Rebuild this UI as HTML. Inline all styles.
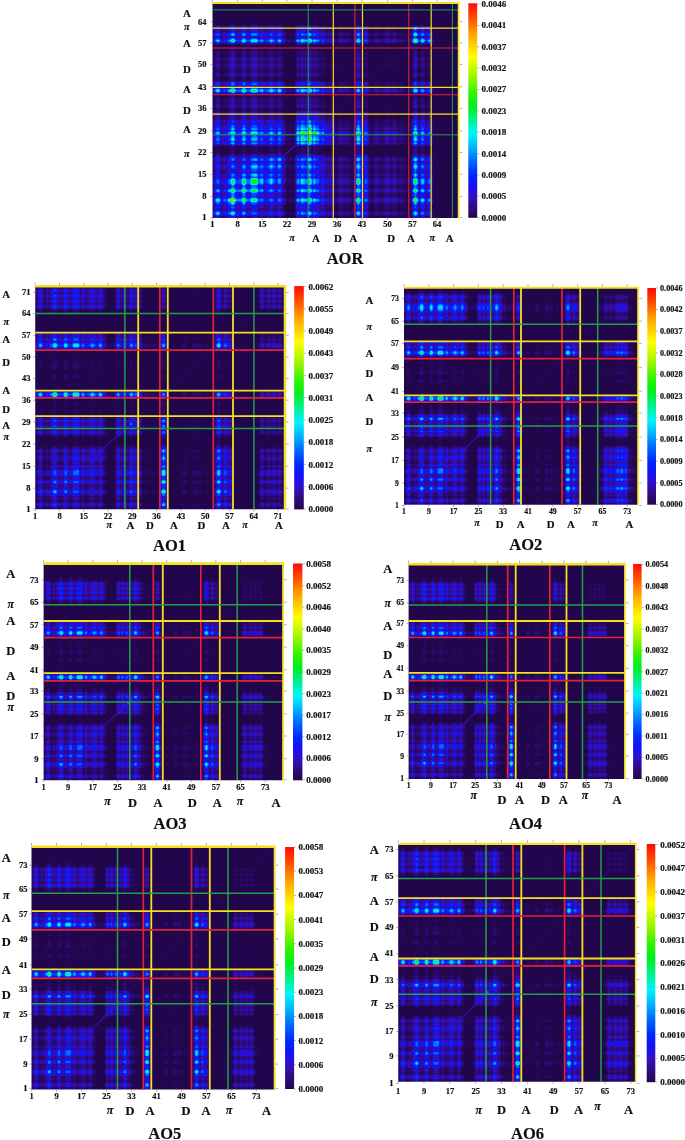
<!DOCTYPE html>
<html lang="en"><head><meta charset="utf-8"><title>AO heat maps</title>
<style>html,body{margin:0;padding:0;background:#fff}body{width:685px;height:1140px;overflow:hidden}svg{display:block}text{font-family:"Liberation Serif","DejaVu Serif",serif;font-weight:bold;fill:#111;stroke:#111;stroke-width:.18px}</style></head><body>
<svg width="685" height="1140" viewBox="0 0 685 1140">
<defs>
<filter id="cm" x="-5%" y="-5%" width="110%" height="110%" color-interpolation-filters="sRGB"><feGaussianBlur stdDeviation="0.75"/><feComponentTransfer><feFuncR type="table" tableValues=".133 .133 .133 .133 .133 .133 .133 .133 .133 .137 .141 .145 .149 .153 .161 .165 .169 .176 .18 .184 .184 .184 .188 .188 .192 .192 .196 .18 .165 .149 .133 .118 .098 .082 .071 .059 .047 .035 .024 .016 .004 0 0 0 0 0 0 0 0 0 0 0 0 0 0 0 0 0 0 0 0 0 0 0 0 0 0 0 0 0 0 0 0 0 0 0 0 0 0 .016 .047 .078 .106 .137 .169 .2 .251 .302 .353 .404 .455 .506 .557 .608 .655 .694 .733 .773 .816 .855 .894 .937 .976 1 1 1 1 1 1 1 1 1 1 1 1 1 1 1 1 1 1 1 1 1 1 1 1 1"/><feFuncG type="table" tableValues=".024 .024 .024 .024 .024 .024 .024 .024 .024 .024 .027 .027 .031 .035 .035 .039 .043 .043 .047 .051 .051 .051 .055 .055 .059 .059 .063 .063 .063 .063 .063 .063 .063 .063 .071 .086 .098 .114 .125 .141 .153 .18 .212 .239 .271 .302 .329 .361 .392 .424 .459 .494 .533 .569 .608 .643 .682 .718 .753 .788 .824 .859 .898 .933 .961 .957 .953 .953 .949 .945 .941 .941 .941 .937 .937 .937 .937 .933 .933 .933 .937 .941 .941 .945 .945 .949 .949 .953 .953 .953 .957 .957 .961 .961 .965 .969 .973 .976 .98 .984 .988 .992 .996 .984 .953 .918 .886 .851 .82 .784 .753 .718 .686 .647 .6 .557 .51 .467 .42 .373 .329 .286 .243 .204 .165 .122 .082 .039"/><feFuncB type="table" tableValues=".298 .298 .298 .298 .298 .298 .298 .298 .298 .306 .325 .349 .369 .392 .416 .439 .463 .486 .514 .545 .576 .612 .643 .678 .714 .749 .784 .808 .831 .855 .878 .906 .929 .953 .965 .969 .976 .98 .988 .992 1 1 1 1 1 1 1 1 1 1 1 1 1 1 1 1 1 1 .996 .992 .992 .988 .984 .984 .969 .91 .855 .796 .741 .682 .624 .569 .506 .447 .388 .325 .267 .204 .145 .106 .09 .071 .055 .035 .016 0 0 0 0 0 0 0 0 0 0 0 0 0 0 0 0 0 0 0 0 0 0 0 0 0 0 0 0 0 0 0 0 0 0 0 0 .004 .012 .016 .02 .027 .031 .039"/></feComponentTransfer></filter>
<filter id="tb" x="-5%" y="-5%" width="110%" height="110%"><feGaussianBlur stdDeviation="0.35"/></filter>
<linearGradient id="cb" x1="0" y1="1" x2="0" y2="0"><stop offset="0.0" stop-color="#22064c"/><stop offset="0.05" stop-color="#2e0c82"/><stop offset="0.1" stop-color="#3210c8"/><stop offset="0.15" stop-color="#1410f5"/><stop offset="0.2" stop-color="#0028ff"/><stop offset="0.27" stop-color="#006eff"/><stop offset="0.33" stop-color="#00b4ff"/><stop offset="0.39" stop-color="#00f5fa"/><stop offset="0.45" stop-color="#00f096"/><stop offset="0.52" stop-color="#00ee1e"/><stop offset="0.58" stop-color="#32f200"/><stop offset="0.66" stop-color="#a0f500"/><stop offset="0.75" stop-color="#ffff00"/><stop offset="0.85" stop-color="#ffaa00"/><stop offset="0.93" stop-color="#ff5000"/><stop offset="1.0" stop-color="#ff0a0a"/></linearGradient>
</defs>
<rect width="685" height="1140" fill="#fff"/>
<g>
<defs><clipPath id="c0"><rect x="212.5" y="3.0" width="246.10000000000002" height="215.0"/></clipPath><linearGradient id="gc0" gradientUnits="userSpaceOnUse" x1="212.5" y1="0" x2="458.6" y2="0"><stop offset=".000" stop-color="#727272"/><stop offset=".007" stop-color="#565656"/><stop offset=".014" stop-color="#a1a1a1"/><stop offset=".022" stop-color="#c6c6c6"/><stop offset=".029" stop-color="#a1a1a1"/><stop offset=".036" stop-color="#565656"/><stop offset=".043" stop-color="#6c6c6c"/><stop offset=".051" stop-color="#858585"/><stop offset=".058" stop-color="#646464"/><stop offset=".065" stop-color="#9f9f9f"/><stop offset=".072" stop-color="#a6a6a6"/><stop offset=".080" stop-color="#f0f0f0"/><stop offset=".087" stop-color="#e7e7e7"/><stop offset=".094" stop-color="#929292"/><stop offset=".101" stop-color="#7f7f7f"/><stop offset=".109" stop-color="#888888"/><stop offset=".116" stop-color="#838383"/><stop offset=".123" stop-color="#d7d7d7"/><stop offset=".130" stop-color="#e2e2e2"/><stop offset=".138" stop-color="#909090"/><stop offset=".145" stop-color="#878787"/><stop offset=".152" stop-color="#878787"/><stop offset=".159" stop-color="#cccccc"/><stop offset=".167" stop-color="#d9d9d9"/><stop offset=".174" stop-color="#d9d9d9"/><stop offset=".181" stop-color="#cccccc"/><stop offset=".188" stop-color="#7d7d7d"/><stop offset=".196" stop-color="#a5a5a5"/><stop offset=".203" stop-color="#adadad"/><stop offset=".210" stop-color="#727272"/><stop offset=".217" stop-color="#7f7f7f"/><stop offset=".225" stop-color="#888888"/><stop offset=".232" stop-color="#a1a1a1"/><stop offset=".239" stop-color="#c6c6c6"/><stop offset=".246" stop-color="#a1a1a1"/><stop offset=".254" stop-color="#8a8a8a"/><stop offset=".261" stop-color="#6f6f6f"/><stop offset=".268" stop-color="#b5b5b5"/><stop offset=".275" stop-color="#bebebe"/><stop offset=".283" stop-color="#797979"/><stop offset=".290" stop-color="#636363"/><stop offset=".297" stop-color="#454545"/><stop offset=".304" stop-color="#323232"/><stop offset=".312" stop-color="#373737"/><stop offset=".319" stop-color="#383838"/><stop offset=".326" stop-color="#2f2f2f"/><stop offset=".333" stop-color="#333333"/><stop offset=".341" stop-color="#858585"/><stop offset=".348" stop-color="#bdbdbd"/><stop offset=".355" stop-color="#858585"/><stop offset=".362" stop-color="#cacaca"/><stop offset=".370" stop-color="#bcbcbc"/><stop offset=".377" stop-color="#aaaaaa"/><stop offset=".384" stop-color="#9f9f9f"/><stop offset=".391" stop-color="#f1f1f1"/><stop offset=".399" stop-color="#e0e0e0"/><stop offset=".406" stop-color="#8c8c8c"/><stop offset=".413" stop-color="#c3c3c3"/><stop offset=".420" stop-color="#9d9d9d"/><stop offset=".428" stop-color="#9f9f9f"/><stop offset=".435" stop-color="#818181"/><stop offset=".442" stop-color="#6d6d6d"/><stop offset=".449" stop-color="#8c8c8c"/><stop offset=".457" stop-color="#626262"/><stop offset=".464" stop-color="#4f4f4f"/><stop offset=".471" stop-color="#616161"/><stop offset=".478" stop-color="#505050"/><stop offset=".486" stop-color="#727272"/><stop offset=".493" stop-color="#505050"/><stop offset=".500" stop-color="#2e2e2e"/><stop offset=".507" stop-color="#353535"/><stop offset=".514" stop-color="#4d4d4d"/><stop offset=".522" stop-color="#5c5c5c"/><stop offset=".529" stop-color="#4d4d4d"/><stop offset=".536" stop-color="#434343"/><stop offset=".543" stop-color="#505050"/><stop offset=".551" stop-color="#484848"/><stop offset=".558" stop-color="#3b3b3b"/><stop offset=".565" stop-color="#353535"/><stop offset=".572" stop-color="#2e2e2e"/><stop offset=".580" stop-color="#717171"/><stop offset=".587" stop-color="#d9d9d9"/><stop offset=".594" stop-color="#fcfcfc"/><stop offset=".601" stop-color="#b2b2b2"/><stop offset=".609" stop-color="#4c4c4c"/><stop offset=".616" stop-color="#7e7e7e"/><stop offset=".623" stop-color="#a1a1a1"/><stop offset=".630" stop-color="#7e7e7e"/><stop offset=".638" stop-color="#3b3b3b"/><stop offset=".645" stop-color="#313131"/><stop offset=".652" stop-color="#353535"/><stop offset=".659" stop-color="#4a4a4a"/><stop offset=".667" stop-color="#585858"/><stop offset=".674" stop-color="#4a4a4a"/><stop offset=".681" stop-color="#3f3f3f"/><stop offset=".696" stop-color="#424242"/><stop offset=".703" stop-color="#535353"/><stop offset=".710" stop-color="#636363"/><stop offset=".717" stop-color="#535353"/><stop offset=".725" stop-color="#424242"/><stop offset=".732" stop-color="#4d4d4d"/><stop offset=".739" stop-color="#5c5c5c"/><stop offset=".746" stop-color="#4d4d4d"/><stop offset=".754" stop-color="#3b3b3b"/><stop offset=".761" stop-color="#3d3d3d"/><stop offset=".768" stop-color="#484848"/><stop offset=".775" stop-color="#3d3d3d"/><stop offset=".783" stop-color="#2e2e2e"/><stop offset=".797" stop-color="#262626"/><stop offset=".804" stop-color="#242424"/><stop offset=".812" stop-color="#717171"/><stop offset=".819" stop-color="#d9d9d9"/><stop offset=".826" stop-color="#fcfcfc"/><stop offset=".833" stop-color="#b2b2b2"/><stop offset=".841" stop-color="#585858"/><stop offset=".848" stop-color="#a8a8a8"/><stop offset=".855" stop-color="#c4c4c4"/><stop offset=".862" stop-color="#8a8a8a"/><stop offset=".870" stop-color="#555555"/><stop offset=".877" stop-color="#939393"/><stop offset=".884" stop-color="#9b9b9b"/><stop offset=".891" stop-color="#636363"/><stop offset=".899" stop-color="#262626"/><stop offset=".906" stop-color="#1c1c1c"/><stop offset=".920" stop-color="#232323"/><stop offset=".935" stop-color="#232323"/><stop offset=".949" stop-color="#1c1c1c"/><stop offset=".957" stop-color="#171717"/><stop offset=".964" stop-color="#121212"/><stop offset=".971" stop-color="#0d0d0d"/><stop offset=".986" stop-color="#060606"/><stop offset="1.000" stop-color="#020202"/></linearGradient><linearGradient id="gr0" gradientUnits="userSpaceOnUse" x1="0" y1="218" x2="0" y2="3"><stop offset=".000" stop-color="#727272"/><stop offset=".007" stop-color="#565656"/><stop offset=".014" stop-color="#a1a1a1"/><stop offset=".022" stop-color="#c6c6c6"/><stop offset=".029" stop-color="#a1a1a1"/><stop offset=".036" stop-color="#565656"/><stop offset=".043" stop-color="#6c6c6c"/><stop offset=".051" stop-color="#858585"/><stop offset=".058" stop-color="#646464"/><stop offset=".065" stop-color="#9f9f9f"/><stop offset=".072" stop-color="#a6a6a6"/><stop offset=".080" stop-color="#f0f0f0"/><stop offset=".087" stop-color="#e7e7e7"/><stop offset=".094" stop-color="#929292"/><stop offset=".101" stop-color="#7f7f7f"/><stop offset=".109" stop-color="#888888"/><stop offset=".116" stop-color="#838383"/><stop offset=".123" stop-color="#d7d7d7"/><stop offset=".130" stop-color="#e2e2e2"/><stop offset=".138" stop-color="#909090"/><stop offset=".145" stop-color="#878787"/><stop offset=".152" stop-color="#878787"/><stop offset=".159" stop-color="#cccccc"/><stop offset=".167" stop-color="#d9d9d9"/><stop offset=".174" stop-color="#d9d9d9"/><stop offset=".181" stop-color="#cccccc"/><stop offset=".188" stop-color="#7d7d7d"/><stop offset=".196" stop-color="#a5a5a5"/><stop offset=".203" stop-color="#adadad"/><stop offset=".210" stop-color="#727272"/><stop offset=".217" stop-color="#7f7f7f"/><stop offset=".225" stop-color="#888888"/><stop offset=".232" stop-color="#a1a1a1"/><stop offset=".239" stop-color="#c6c6c6"/><stop offset=".246" stop-color="#a1a1a1"/><stop offset=".254" stop-color="#8a8a8a"/><stop offset=".261" stop-color="#6f6f6f"/><stop offset=".268" stop-color="#b5b5b5"/><stop offset=".275" stop-color="#bebebe"/><stop offset=".283" stop-color="#797979"/><stop offset=".290" stop-color="#636363"/><stop offset=".297" stop-color="#454545"/><stop offset=".304" stop-color="#323232"/><stop offset=".312" stop-color="#373737"/><stop offset=".319" stop-color="#383838"/><stop offset=".326" stop-color="#2f2f2f"/><stop offset=".333" stop-color="#333333"/><stop offset=".341" stop-color="#858585"/><stop offset=".348" stop-color="#bdbdbd"/><stop offset=".355" stop-color="#858585"/><stop offset=".362" stop-color="#cacaca"/><stop offset=".370" stop-color="#bcbcbc"/><stop offset=".377" stop-color="#aaaaaa"/><stop offset=".384" stop-color="#9f9f9f"/><stop offset=".391" stop-color="#f1f1f1"/><stop offset=".399" stop-color="#e0e0e0"/><stop offset=".406" stop-color="#8c8c8c"/><stop offset=".413" stop-color="#c3c3c3"/><stop offset=".420" stop-color="#9d9d9d"/><stop offset=".428" stop-color="#9f9f9f"/><stop offset=".435" stop-color="#818181"/><stop offset=".442" stop-color="#6d6d6d"/><stop offset=".449" stop-color="#8c8c8c"/><stop offset=".457" stop-color="#626262"/><stop offset=".464" stop-color="#4f4f4f"/><stop offset=".471" stop-color="#616161"/><stop offset=".478" stop-color="#505050"/><stop offset=".486" stop-color="#727272"/><stop offset=".493" stop-color="#505050"/><stop offset=".500" stop-color="#2e2e2e"/><stop offset=".507" stop-color="#353535"/><stop offset=".514" stop-color="#4d4d4d"/><stop offset=".522" stop-color="#5c5c5c"/><stop offset=".529" stop-color="#4d4d4d"/><stop offset=".536" stop-color="#434343"/><stop offset=".543" stop-color="#505050"/><stop offset=".551" stop-color="#484848"/><stop offset=".558" stop-color="#3b3b3b"/><stop offset=".565" stop-color="#353535"/><stop offset=".572" stop-color="#2e2e2e"/><stop offset=".580" stop-color="#717171"/><stop offset=".587" stop-color="#d9d9d9"/><stop offset=".594" stop-color="#fcfcfc"/><stop offset=".601" stop-color="#b2b2b2"/><stop offset=".609" stop-color="#4c4c4c"/><stop offset=".616" stop-color="#7e7e7e"/><stop offset=".623" stop-color="#a1a1a1"/><stop offset=".630" stop-color="#7e7e7e"/><stop offset=".638" stop-color="#3b3b3b"/><stop offset=".645" stop-color="#313131"/><stop offset=".652" stop-color="#353535"/><stop offset=".659" stop-color="#4a4a4a"/><stop offset=".667" stop-color="#585858"/><stop offset=".674" stop-color="#4a4a4a"/><stop offset=".681" stop-color="#3f3f3f"/><stop offset=".696" stop-color="#424242"/><stop offset=".703" stop-color="#535353"/><stop offset=".710" stop-color="#636363"/><stop offset=".717" stop-color="#535353"/><stop offset=".725" stop-color="#424242"/><stop offset=".732" stop-color="#4d4d4d"/><stop offset=".739" stop-color="#5c5c5c"/><stop offset=".746" stop-color="#4d4d4d"/><stop offset=".754" stop-color="#3b3b3b"/><stop offset=".761" stop-color="#3d3d3d"/><stop offset=".768" stop-color="#484848"/><stop offset=".775" stop-color="#3d3d3d"/><stop offset=".783" stop-color="#2e2e2e"/><stop offset=".797" stop-color="#262626"/><stop offset=".804" stop-color="#242424"/><stop offset=".812" stop-color="#717171"/><stop offset=".819" stop-color="#d9d9d9"/><stop offset=".826" stop-color="#fcfcfc"/><stop offset=".833" stop-color="#b2b2b2"/><stop offset=".841" stop-color="#585858"/><stop offset=".848" stop-color="#a8a8a8"/><stop offset=".855" stop-color="#c4c4c4"/><stop offset=".862" stop-color="#8a8a8a"/><stop offset=".870" stop-color="#555555"/><stop offset=".877" stop-color="#939393"/><stop offset=".884" stop-color="#9b9b9b"/><stop offset=".891" stop-color="#636363"/><stop offset=".899" stop-color="#262626"/><stop offset=".906" stop-color="#1c1c1c"/><stop offset=".920" stop-color="#232323"/><stop offset=".935" stop-color="#232323"/><stop offset=".949" stop-color="#1c1c1c"/><stop offset=".957" stop-color="#171717"/><stop offset=".964" stop-color="#121212"/><stop offset=".971" stop-color="#0d0d0d"/><stop offset=".986" stop-color="#060606"/><stop offset="1.000" stop-color="#020202"/></linearGradient><linearGradient id="gd0" x1="0" y1="0" x2="1" y2="1"><stop offset="0.000" stop-color="#9a9a9a"/><stop offset="0.287" stop-color="#9a9a9a"/><stop offset="0.404" stop-color="#cbcbcb"/><stop offset="0.500" stop-color="#e6e6e6"/><stop offset="0.596" stop-color="#cbcbcb"/><stop offset="0.713" stop-color="#9a9a9a"/><stop offset="1.000" stop-color="#9a9a9a"/></linearGradient></defs>
<g clip-path="url(#c0)"><g filter="url(#cm)">
<rect x="206.5" y="-3" width="258.1" height="227" fill="#000"/>
<rect x="212.5" y="3" width="246.1" height="215" fill="url(#gc0)"/>
<rect x="212.5" y="3" width="246.1" height="215" fill="url(#gr0)" style="mix-blend-mode:multiply"/>
<g style="mix-blend-mode:multiply"><rect x="212.4" y="144.7" width="83.9" height="73.3" fill="url(#gd0)"/><rect x="296.3" y="144.7" width="39.3" height="73.3" fill="#bfbfbf"/><rect x="335.5" y="144.7" width="17.9" height="73.3" fill="#b8b8b8"/><rect x="353.3" y="144.7" width="14.4" height="73.3" fill="#bfbfbf"/><rect x="367.6" y="144.7" width="39.3" height="73.3" fill="#b8b8b8"/><rect x="406.8" y="144.7" width="25.1" height="73.3" fill="#c4c4c4"/><rect x="431.8" y="144.7" width="26.9" height="73.3" fill="#a5a5a5"/><rect x="212.4" y="110.5" width="83.9" height="34.4" fill="#b5b5b5"/><rect x="296.3" y="110.5" width="39.3" height="34.4" fill="#eeeeee"/><rect x="335.5" y="110.5" width="17.9" height="34.4" fill="#b8b8b8"/><rect x="353.3" y="110.5" width="14.4" height="34.4" fill="#bfbfbf"/><rect x="367.6" y="110.5" width="39.3" height="34.4" fill="#b8b8b8"/><rect x="406.8" y="110.5" width="25.1" height="34.4" fill="#b5b5b5"/><rect x="431.8" y="110.5" width="26.9" height="34.4" fill="#a5a5a5"/><rect x="212.4" y="94.9" width="83.9" height="15.7" fill="#b8b8b8"/><rect x="296.3" y="94.9" width="39.3" height="15.7" fill="#b8b8b8"/><rect x="335.5" y="94.9" width="17.9" height="15.7" fill="#b8b8b8"/><rect x="353.3" y="94.9" width="14.4" height="15.7" fill="#a5a5a5"/><rect x="367.6" y="94.9" width="39.3" height="15.7" fill="#b8b8b8"/><rect x="406.8" y="94.9" width="25.1" height="15.7" fill="#a5a5a5"/><rect x="431.8" y="94.9" width="26.9" height="15.7" fill="#a5a5a5"/><rect x="212.4" y="82.4" width="83.9" height="12.6" fill="#c4c4c4"/><rect x="296.3" y="82.4" width="39.3" height="12.6" fill="#b5b5b5"/><rect x="335.5" y="82.4" width="17.9" height="12.6" fill="#a5a5a5"/><rect x="353.3" y="82.4" width="14.4" height="12.6" fill="#8e8e8e"/><rect x="367.6" y="82.4" width="39.3" height="12.6" fill="#a5a5a5"/><rect x="406.8" y="82.4" width="25.1" height="12.6" fill="#a5a5a5"/><rect x="431.8" y="82.4" width="26.9" height="12.6" fill="#a5a5a5"/><rect x="212.4" y="48.1" width="83.9" height="34.4" fill="#b8b8b8"/><rect x="296.3" y="48.1" width="39.3" height="34.4" fill="#b8b8b8"/><rect x="335.5" y="48.1" width="17.9" height="34.4" fill="#b8b8b8"/><rect x="353.3" y="48.1" width="14.4" height="34.4" fill="#a5a5a5"/><rect x="367.6" y="48.1" width="39.3" height="34.4" fill="#b8b8b8"/><rect x="406.8" y="48.1" width="25.1" height="34.4" fill="#a5a5a5"/><rect x="431.8" y="48.1" width="26.9" height="34.4" fill="#a5a5a5"/><rect x="212.4" y="26.3" width="83.9" height="21.9" fill="#adadad"/><rect x="296.3" y="26.3" width="39.3" height="21.9" fill="#b5b5b5"/><rect x="335.5" y="26.3" width="17.9" height="21.9" fill="#a5a5a5"/><rect x="353.3" y="26.3" width="14.4" height="21.9" fill="#a5a5a5"/><rect x="367.6" y="26.3" width="39.3" height="21.9" fill="#a5a5a5"/><rect x="406.8" y="26.3" width="25.1" height="21.9" fill="#cdcdcd"/><rect x="431.8" y="26.3" width="26.9" height="21.9" fill="#a5a5a5"/><rect x="212.4" y="3.0" width="83.9" height="23.5" fill="#a5a5a5"/><rect x="296.3" y="3.0" width="39.3" height="23.5" fill="#a5a5a5"/><rect x="335.5" y="3.0" width="17.9" height="23.5" fill="#a5a5a5"/><rect x="353.3" y="3.0" width="14.4" height="23.5" fill="#a5a5a5"/><rect x="367.6" y="3.0" width="39.3" height="23.5" fill="#a5a5a5"/><rect x="406.8" y="3.0" width="25.1" height="23.5" fill="#a5a5a5"/><rect x="431.8" y="3.0" width="26.9" height="23.5" fill="#a5a5a5"/></g>
<g style="mix-blend-mode:lighten"><path d="M212.5 218L458.6 3" stroke="#191919" stroke-width="1.6" fill="none"/><path d="M282.1 157.2L301.7 140.1" stroke="#343434" stroke-width="1.5" stroke-linecap="round" fill="none"/><ellipse cx="233.2" cy="199.9" rx="1.6" ry="1.4" fill="#e2e2e2"/><ellipse cx="252.8" cy="182.8" rx="1.8" ry="1.6" fill="#a4a4a4"/><ellipse cx="256" cy="180" rx="1.8" ry="1.6" fill="#a4a4a4"/><ellipse cx="256" cy="182.8" rx="1.8" ry="1.6" fill="#999999"/><ellipse cx="252.8" cy="180" rx="1.8" ry="1.6" fill="#999999"/><ellipse cx="309.5" cy="133.2" rx="2.1" ry="1.9" fill="#d8d8d8"/><ellipse cx="303.1" cy="133.2" rx="1.8" ry="1.6" fill="#afafaf"/><ellipse cx="309.5" cy="138.9" rx="1.8" ry="1.6" fill="#afafaf"/><ellipse cx="303.1" cy="138.9" rx="1.8" ry="1.6" fill="#999999"/><ellipse cx="314.5" cy="133.2" rx="1.8" ry="1.6" fill="#a4a4a4"/><ellipse cx="309.5" cy="128.9" rx="1.8" ry="1.6" fill="#a4a4a4"/></g>
</g></g>
<path d="M308.2 3V218" stroke="#23a046" stroke-width="1" fill="none"/>
<path d="M333.3 3V218" stroke="#f4e01c" stroke-width="1.2" fill="none"/>
<path d="M354.9 3V218" stroke="#e3203a" stroke-width="1.1" fill="none"/>
<path d="M362.5 3V218" stroke="#f4e01c" stroke-width="1.2" fill="none"/>
<path d="M408.8 3V218" stroke="#e3203a" stroke-width="1.1" fill="none"/>
<path d="M431.2 3V218" stroke="#f4e01c" stroke-width="1.2" fill="none"/>
<path d="M452.4 3V218" stroke="#23a046" stroke-width="1" fill="none"/>
<path d="M212.5 9.9H458.6" stroke="#23a046" stroke-width="1" fill="none"/>
<path d="M212.5 28.2H458.6" stroke="#f4e01c" stroke-width="1.2" fill="none"/>
<path d="M212.5 48H458.6" stroke="#e3203a" stroke-width="1.1" fill="none"/>
<path d="M212.5 87.4H458.6" stroke="#f4e01c" stroke-width="1.2" fill="none"/>
<path d="M212.5 94.7H458.6" stroke="#e3203a" stroke-width="1.1" fill="none"/>
<path d="M212.5 114.1H458.6" stroke="#f4e01c" stroke-width="1.2" fill="none"/>
<path d="M212.5 134.8H458.6" stroke="#23a046" stroke-width="1" fill="none"/>
<path d="M212.5 3H459.5" stroke="#f4e01c" stroke-width="1.9" fill="none"/>
<path d="M458.6 3V218" stroke="#f4e01c" stroke-width="1.7" fill="none"/>
<rect x="468.3" y="3.3" width="8.899999999999977" height="214.5" fill="url(#cb)"/>
<text x="481.5" y="7" font-size="9">0.0046</text>
<path d="M477.2 4h2" stroke="#888" stroke-width="0.6"/>
<text x="481.5" y="28.3" font-size="9">0.0041</text>
<path d="M477.2 25.4h2" stroke="#888" stroke-width="0.6"/>
<text x="481.5" y="49.7" font-size="9">0.0037</text>
<path d="M477.2 46.7h2" stroke="#888" stroke-width="0.6"/>
<text x="481.5" y="71.1" font-size="9">0.0032</text>
<path d="M477.2 68.1h2" stroke="#888" stroke-width="0.6"/>
<text x="481.5" y="92.4" font-size="9">0.0027</text>
<path d="M477.2 89.5h2" stroke="#888" stroke-width="0.6"/>
<text x="481.5" y="113.8" font-size="9">0.0023</text>
<path d="M477.2 110.8h2" stroke="#888" stroke-width="0.6"/>
<text x="481.5" y="135.2" font-size="9">0.0018</text>
<path d="M477.2 132.2h2" stroke="#888" stroke-width="0.6"/>
<text x="481.5" y="156.6" font-size="9">0.0014</text>
<path d="M477.2 153.6h2" stroke="#888" stroke-width="0.6"/>
<text x="481.5" y="177.9" font-size="9">0.0009</text>
<path d="M477.2 175h2" stroke="#888" stroke-width="0.6"/>
<text x="481.5" y="199.3" font-size="9">0.0005</text>
<path d="M477.2 196.3h2" stroke="#888" stroke-width="0.6"/>
<text x="481.5" y="220.7" font-size="9">0.0000</text>
<path d="M477.2 217.7h2" stroke="#888" stroke-width="0.6"/>
<g filter="url(#tb)">
<text x="206.5" y="24.5" font-size="8.5" text-anchor="end">64</text>
<text x="206.5" y="45.8" font-size="8.5" text-anchor="end">57</text>
<text x="206.5" y="67.3" font-size="8.5" text-anchor="end">50</text>
<text x="206.5" y="89.6" font-size="8.5" text-anchor="end">43</text>
<text x="206.5" y="111.3" font-size="8.5" text-anchor="end">36</text>
<text x="206.5" y="133.8" font-size="8.5" text-anchor="end">29</text>
<text x="206.5" y="155.3" font-size="8.5" text-anchor="end">22</text>
<text x="206.5" y="177.1" font-size="8.5" text-anchor="end">15</text>
<text x="206.5" y="199.3" font-size="8.5" text-anchor="end">8</text>
<text x="206.5" y="220.3" font-size="8.5" text-anchor="end">1</text>
<text x="212.3" y="227" font-size="8.5" text-anchor="middle">1</text>
<text x="237.5" y="227" font-size="8.5" text-anchor="middle">8</text>
<text x="262.3" y="227" font-size="8.5" text-anchor="middle">15</text>
<text x="287" y="227" font-size="8.5" text-anchor="middle">22</text>
<text x="312" y="227" font-size="8.5" text-anchor="middle">29</text>
<text x="337" y="227" font-size="8.5" text-anchor="middle">36</text>
<text x="362" y="227" font-size="8.5" text-anchor="middle">43</text>
<text x="387.5" y="227" font-size="8.5" text-anchor="middle">50</text>
<text x="412.5" y="227" font-size="8.5" text-anchor="middle">57</text>
<text x="437" y="227" font-size="8.5" text-anchor="middle">64</text>
<text x="186.8" y="17.4" font-size="10.8" text-anchor="middle">A</text>
<text x="186.8" y="29.8" font-size="10.3" text-anchor="middle" font-style="italic">π</text>
<text x="186.8" y="46.6" font-size="10.8" text-anchor="middle">A</text>
<text x="186.8" y="72.6" font-size="10.8" text-anchor="middle">D</text>
<text x="186.8" y="93.4" font-size="10.8" text-anchor="middle">A</text>
<text x="186.8" y="114.1" font-size="10.8" text-anchor="middle">D</text>
<text x="186.8" y="132.9" font-size="10.8" text-anchor="middle">A</text>
<text x="186.8" y="157.2" font-size="10.3" text-anchor="middle" font-style="italic">π</text>
<text x="292" y="240.8" font-size="10.3" text-anchor="middle" font-style="italic">π</text>
<text x="316" y="242.2" font-size="10.8" text-anchor="middle">A</text>
<text x="338" y="242.2" font-size="10.8" text-anchor="middle">D</text>
<text x="353.4" y="242.2" font-size="10.8" text-anchor="middle">A</text>
<text x="391.2" y="242.2" font-size="10.8" text-anchor="middle">D</text>
<text x="411" y="242.2" font-size="10.8" text-anchor="middle">A</text>
<text x="432.4" y="240.8" font-size="10.3" text-anchor="middle" font-style="italic">π</text>
<text x="449.6" y="242.2" font-size="10.8" text-anchor="middle">A</text>
<text x="345" y="264.4" font-size="16.5" text-anchor="middle">AOR</text>
<path d="M212.5 21.7h-2M212.5 43h-2M212.5 64.5h-2M212.5 86.8h-2M212.5 108.5h-2M212.5 131h-2M212.5 152.5h-2M212.5 174.3h-2M212.5 196.5h-2M212.5 217.5h-2M212.3 218v2M212.3 1.8v-2.5M237.5 218v2M237.5 1.8v-2.5M262.3 218v2M262.3 1.8v-2.5M287 218v2M287 1.8v-2.5M312 218v2M312 1.8v-2.5M337 218v2M337 1.8v-2.5M362 218v2M362 1.8v-2.5M387.5 218v2M387.5 1.8v-2.5M412.5 218v2M412.5 1.8v-2.5M437 218v2M437 1.8v-2.5M459.8 21.7h2.5M459.8 43h2.5M459.8 64.5h2.5M459.8 86.8h2.5M459.8 108.5h2.5M459.8 131h2.5M459.8 152.5h2.5M459.8 174.3h2.5M459.8 196.5h2.5M459.8 217.5h2.5" stroke="#777" stroke-width="0.6"/>
</g>
</g>
<g>
<defs><clipPath id="c1"><rect x="35.2" y="286.2" width="249.8" height="223.10000000000002"/></clipPath><linearGradient id="gc1" gradientUnits="userSpaceOnUse" x1="35.2" y1="0" x2="285" y2="0"><stop offset=".000" stop-color="#727272"/><stop offset=".007" stop-color="#565656"/><stop offset=".014" stop-color="#a1a1a1"/><stop offset=".021" stop-color="#c6c6c6"/><stop offset=".028" stop-color="#a1a1a1"/><stop offset=".035" stop-color="#565656"/><stop offset=".042" stop-color="#6c6c6c"/><stop offset=".049" stop-color="#858585"/><stop offset=".056" stop-color="#616161"/><stop offset=".062" stop-color="#9f9f9f"/><stop offset=".069" stop-color="#a6a6a6"/><stop offset=".076" stop-color="#f0f0f0"/><stop offset=".083" stop-color="#e7e7e7"/><stop offset=".090" stop-color="#929292"/><stop offset=".097" stop-color="#7f7f7f"/><stop offset=".104" stop-color="#888888"/><stop offset=".111" stop-color="#7c7c7c"/><stop offset=".118" stop-color="#d7d7d7"/><stop offset=".125" stop-color="#e2e2e2"/><stop offset=".132" stop-color="#909090"/><stop offset=".139" stop-color="#848484"/><stop offset=".146" stop-color="#7b7b7b"/><stop offset=".153" stop-color="#cccccc"/><stop offset=".160" stop-color="#d9d9d9"/><stop offset=".167" stop-color="#d9d9d9"/><stop offset=".174" stop-color="#cccccc"/><stop offset=".181" stop-color="#676767"/><stop offset=".188" stop-color="#a5a5a5"/><stop offset=".194" stop-color="#adadad"/><stop offset=".201" stop-color="#6e6e6e"/><stop offset=".208" stop-color="#7f7f7f"/><stop offset=".215" stop-color="#888888"/><stop offset=".222" stop-color="#a1a1a1"/><stop offset=".229" stop-color="#c6c6c6"/><stop offset=".236" stop-color="#a1a1a1"/><stop offset=".243" stop-color="#8a8a8a"/><stop offset=".250" stop-color="#6f6f6f"/><stop offset=".257" stop-color="#b5b5b5"/><stop offset=".264" stop-color="#bebebe"/><stop offset=".271" stop-color="#797979"/><stop offset=".278" stop-color="#636363"/><stop offset=".285" stop-color="#454545"/><stop offset=".292" stop-color="#282828"/><stop offset=".299" stop-color="#313131"/><stop offset=".306" stop-color="#323232"/><stop offset=".312" stop-color="#2a2a2a"/><stop offset=".319" stop-color="#353535"/><stop offset=".326" stop-color="#8b8b8b"/><stop offset=".333" stop-color="#c6c6c6"/><stop offset=".340" stop-color="#8b8b8b"/><stop offset=".347" stop-color="#636363"/><stop offset=".354" stop-color="#a2a2a2"/><stop offset=".361" stop-color="#979797"/><stop offset=".368" stop-color="#727272"/><stop offset=".375" stop-color="#707070"/><stop offset=".382" stop-color="#cacaca"/><stop offset=".389" stop-color="#bcbcbc"/><stop offset=".396" stop-color="#7f7f7f"/><stop offset=".403" stop-color="#b4b4b4"/><stop offset=".410" stop-color="#7f7f7f"/><stop offset=".417" stop-color="#787878"/><stop offset=".424" stop-color="#707070"/><stop offset=".431" stop-color="#333333"/><stop offset=".438" stop-color="#393939"/><stop offset=".444" stop-color="#3e3e3e"/><stop offset=".451" stop-color="#393939"/><stop offset=".458" stop-color="#2a2a2a"/><stop offset=".465" stop-color="#343434"/><stop offset=".472" stop-color="#393939"/><stop offset=".479" stop-color="#343434"/><stop offset=".486" stop-color="#272727"/><stop offset=".493" stop-color="#1b1b1b"/><stop offset=".500" stop-color="#5e5e5e"/><stop offset=".507" stop-color="#c7c7c7"/><stop offset=".514" stop-color="#ffffff"/><stop offset=".521" stop-color="#c7c7c7"/><stop offset=".528" stop-color="#5e5e5e"/><stop offset=".535" stop-color="#1b1b1b"/><stop offset=".542" stop-color="#191919"/><stop offset=".549" stop-color="#2b2b2b"/><stop offset=".556" stop-color="#333333"/><stop offset=".562" stop-color="#2b2b2b"/><stop offset=".569" stop-color="#191919"/><stop offset=".576" stop-color="#0e0e0e"/><stop offset=".583" stop-color="#222222"/><stop offset=".590" stop-color="#393939"/><stop offset=".597" stop-color="#434343"/><stop offset=".604" stop-color="#393939"/><stop offset=".611" stop-color="#222222"/><stop offset=".618" stop-color="#0f0f0f"/><stop offset=".625" stop-color="#242424"/><stop offset=".632" stop-color="#3d3d3d"/><stop offset=".639" stop-color="#484848"/><stop offset=".646" stop-color="#3d3d3d"/><stop offset=".653" stop-color="#353535"/><stop offset=".660" stop-color="#3e3e3e"/><stop offset=".667" stop-color="#353535"/><stop offset=".674" stop-color="#1f1f1f"/><stop offset=".681" stop-color="#2b2b2b"/><stop offset=".688" stop-color="#333333"/><stop offset=".694" stop-color="#2b2b2b"/><stop offset=".701" stop-color="#191919"/><stop offset=".708" stop-color="#0b0b0b"/><stop offset=".715" stop-color="#242424"/><stop offset=".722" stop-color="#717171"/><stop offset=".729" stop-color="#d9d9d9"/><stop offset=".736" stop-color="#fcfcfc"/><stop offset=".743" stop-color="#b2b2b2"/><stop offset=".750" stop-color="#646464"/><stop offset=".757" stop-color="#adadad"/><stop offset=".764" stop-color="#b6b6b6"/><stop offset=".771" stop-color="#747474"/><stop offset=".778" stop-color="#868686"/><stop offset=".785" stop-color="#808080"/><stop offset=".792" stop-color="#4a4a4a"/><stop offset=".799" stop-color="#1c1c1c"/><stop offset=".812" stop-color="#232323"/><stop offset=".826" stop-color="#232323"/><stop offset=".840" stop-color="#1c1c1c"/><stop offset=".847" stop-color="#171717"/><stop offset=".854" stop-color="#131313"/><stop offset=".861" stop-color="#171717"/><stop offset=".868" stop-color="#1d1d1d"/><stop offset=".875" stop-color="#232323"/><stop offset=".882" stop-color="#2a2a2a"/><stop offset=".889" stop-color="#313131"/><stop offset=".896" stop-color="#3e3e3e"/><stop offset=".903" stop-color="#777777"/><stop offset=".910" stop-color="#8a8a8a"/><stop offset=".917" stop-color="#616161"/><stop offset=".924" stop-color="#515151"/><stop offset=".931" stop-color="#7f7f7f"/><stop offset=".938" stop-color="#797979"/><stop offset=".944" stop-color="#585858"/><stop offset=".951" stop-color="#777777"/><stop offset=".958" stop-color="#8a8a8a"/><stop offset=".965" stop-color="#616161"/><stop offset=".972" stop-color="#676767"/><stop offset=".979" stop-color="#858585"/><stop offset=".986" stop-color="#676767"/><stop offset=".993" stop-color="#383838"/><stop offset="1.000" stop-color="#313131"/></linearGradient><linearGradient id="gr1" gradientUnits="userSpaceOnUse" x1="0" y1="509.3" x2="0" y2="286.2"><stop offset=".000" stop-color="#727272"/><stop offset=".007" stop-color="#565656"/><stop offset=".014" stop-color="#a1a1a1"/><stop offset=".021" stop-color="#c6c6c6"/><stop offset=".028" stop-color="#a1a1a1"/><stop offset=".035" stop-color="#565656"/><stop offset=".042" stop-color="#6c6c6c"/><stop offset=".049" stop-color="#858585"/><stop offset=".056" stop-color="#616161"/><stop offset=".062" stop-color="#9f9f9f"/><stop offset=".069" stop-color="#a6a6a6"/><stop offset=".076" stop-color="#f0f0f0"/><stop offset=".083" stop-color="#e7e7e7"/><stop offset=".090" stop-color="#929292"/><stop offset=".097" stop-color="#7f7f7f"/><stop offset=".104" stop-color="#888888"/><stop offset=".111" stop-color="#7c7c7c"/><stop offset=".118" stop-color="#d7d7d7"/><stop offset=".125" stop-color="#e2e2e2"/><stop offset=".132" stop-color="#909090"/><stop offset=".139" stop-color="#848484"/><stop offset=".146" stop-color="#7b7b7b"/><stop offset=".153" stop-color="#cccccc"/><stop offset=".160" stop-color="#d9d9d9"/><stop offset=".167" stop-color="#d9d9d9"/><stop offset=".174" stop-color="#cccccc"/><stop offset=".181" stop-color="#676767"/><stop offset=".188" stop-color="#a5a5a5"/><stop offset=".194" stop-color="#adadad"/><stop offset=".201" stop-color="#6e6e6e"/><stop offset=".208" stop-color="#7f7f7f"/><stop offset=".215" stop-color="#888888"/><stop offset=".222" stop-color="#a1a1a1"/><stop offset=".229" stop-color="#c6c6c6"/><stop offset=".236" stop-color="#a1a1a1"/><stop offset=".243" stop-color="#8a8a8a"/><stop offset=".250" stop-color="#6f6f6f"/><stop offset=".257" stop-color="#b5b5b5"/><stop offset=".264" stop-color="#bebebe"/><stop offset=".271" stop-color="#797979"/><stop offset=".278" stop-color="#636363"/><stop offset=".285" stop-color="#454545"/><stop offset=".292" stop-color="#282828"/><stop offset=".299" stop-color="#313131"/><stop offset=".306" stop-color="#323232"/><stop offset=".312" stop-color="#2a2a2a"/><stop offset=".319" stop-color="#353535"/><stop offset=".326" stop-color="#414141"/><stop offset=".333" stop-color="#4d4d4d"/><stop offset=".340" stop-color="#9f9f9f"/><stop offset=".347" stop-color="#aaaaaa"/><stop offset=".354" stop-color="#6b6b6b"/><stop offset=".361" stop-color="#707070"/><stop offset=".368" stop-color="#a6a6a6"/><stop offset=".375" stop-color="#b3b3b3"/><stop offset=".382" stop-color="#6b6b6b"/><stop offset=".389" stop-color="#8b8b8b"/><stop offset=".396" stop-color="#c6c6c6"/><stop offset=".403" stop-color="#8b8b8b"/><stop offset=".410" stop-color="#7e7e7e"/><stop offset=".417" stop-color="#666666"/><stop offset=".424" stop-color="#2a2a2a"/><stop offset=".431" stop-color="#393939"/><stop offset=".438" stop-color="#3e3e3e"/><stop offset=".444" stop-color="#393939"/><stop offset=".451" stop-color="#2a2a2a"/><stop offset=".458" stop-color="#272727"/><stop offset=".465" stop-color="#343434"/><stop offset=".472" stop-color="#393939"/><stop offset=".479" stop-color="#343434"/><stop offset=".486" stop-color="#272727"/><stop offset=".493" stop-color="#353535"/><stop offset=".500" stop-color="#7f7f7f"/><stop offset=".507" stop-color="#d6d6d6"/><stop offset=".514" stop-color="#ffffff"/><stop offset=".521" stop-color="#d6d6d6"/><stop offset=".528" stop-color="#7f7f7f"/><stop offset=".535" stop-color="#353535"/><stop offset=".542" stop-color="#191919"/><stop offset=".549" stop-color="#2b2b2b"/><stop offset=".556" stop-color="#333333"/><stop offset=".562" stop-color="#2b2b2b"/><stop offset=".569" stop-color="#191919"/><stop offset=".576" stop-color="#0e0e0e"/><stop offset=".583" stop-color="#222222"/><stop offset=".590" stop-color="#393939"/><stop offset=".597" stop-color="#434343"/><stop offset=".604" stop-color="#393939"/><stop offset=".611" stop-color="#222222"/><stop offset=".618" stop-color="#0f0f0f"/><stop offset=".625" stop-color="#242424"/><stop offset=".632" stop-color="#3d3d3d"/><stop offset=".639" stop-color="#484848"/><stop offset=".646" stop-color="#3d3d3d"/><stop offset=".653" stop-color="#353535"/><stop offset=".660" stop-color="#3e3e3e"/><stop offset=".667" stop-color="#353535"/><stop offset=".674" stop-color="#1f1f1f"/><stop offset=".681" stop-color="#2b2b2b"/><stop offset=".688" stop-color="#333333"/><stop offset=".694" stop-color="#2b2b2b"/><stop offset=".701" stop-color="#191919"/><stop offset=".708" stop-color="#151515"/><stop offset=".715" stop-color="#414141"/><stop offset=".722" stop-color="#919191"/><stop offset=".729" stop-color="#e4e4e4"/><stop offset=".736" stop-color="#fdfdfd"/><stop offset=".743" stop-color="#c7c7c7"/><stop offset=".750" stop-color="#6e6e6e"/><stop offset=".757" stop-color="#adadad"/><stop offset=".764" stop-color="#b6b6b6"/><stop offset=".771" stop-color="#747474"/><stop offset=".778" stop-color="#868686"/><stop offset=".785" stop-color="#808080"/><stop offset=".792" stop-color="#4a4a4a"/><stop offset=".799" stop-color="#1c1c1c"/><stop offset=".812" stop-color="#232323"/><stop offset=".826" stop-color="#232323"/><stop offset=".840" stop-color="#1c1c1c"/><stop offset=".847" stop-color="#171717"/><stop offset=".854" stop-color="#181818"/><stop offset=".861" stop-color="#1e1e1e"/><stop offset=".868" stop-color="#252525"/><stop offset=".875" stop-color="#2d2d2d"/><stop offset=".882" stop-color="#363636"/><stop offset=".889" stop-color="#3f3f3f"/><stop offset=".896" stop-color="#505050"/><stop offset=".903" stop-color="#9a9a9a"/><stop offset=".910" stop-color="#b3b3b3"/><stop offset=".917" stop-color="#7e7e7e"/><stop offset=".924" stop-color="#696969"/><stop offset=".931" stop-color="#a4a4a4"/><stop offset=".938" stop-color="#9c9c9c"/><stop offset=".944" stop-color="#727272"/><stop offset=".951" stop-color="#9a9a9a"/><stop offset=".958" stop-color="#b3b3b3"/><stop offset=".965" stop-color="#7e7e7e"/><stop offset=".972" stop-color="#858585"/><stop offset=".979" stop-color="#ababab"/><stop offset=".986" stop-color="#858585"/><stop offset=".993" stop-color="#484848"/><stop offset="1.000" stop-color="#3f3f3f"/></linearGradient><linearGradient id="gd1" x1="0" y1="0" x2="1" y2="1"><stop offset="0.000" stop-color="#6b6b6b"/><stop offset="0.287" stop-color="#6b6b6b"/><stop offset="0.404" stop-color="#7f7f7f"/><stop offset="0.500" stop-color="#8b8b8b"/><stop offset="0.596" stop-color="#7f7f7f"/><stop offset="0.713" stop-color="#6b6b6b"/><stop offset="1.000" stop-color="#6b6b6b"/></linearGradient></defs>
<g clip-path="url(#c1)"><g filter="url(#cm)">
<rect x="29.2" y="280.2" width="261.8" height="235.1" fill="#000"/>
<rect x="35.2" y="286.2" width="249.8" height="223.1" fill="url(#gc1)"/>
<rect x="35.2" y="286.2" width="249.8" height="223.1" fill="url(#gr1)" style="mix-blend-mode:multiply"/>
<g style="mix-blend-mode:multiply"><rect x="35.2" y="436.4" width="81.6" height="72.9" fill="url(#gd1)"/><rect x="116.7" y="436.4" width="41.7" height="72.9" fill="#838383"/><rect x="158.3" y="436.4" width="10.5" height="72.9" fill="#a9a9a9"/><rect x="168.7" y="436.4" width="45.2" height="72.9" fill="#8b8b8b"/><rect x="213.8" y="436.4" width="20.9" height="72.9" fill="#9b9b9b"/><rect x="234.6" y="436.4" width="20.9" height="72.9" fill="#7d7d7d"/><rect x="255.5" y="436.4" width="29.6" height="72.9" fill="#898989"/><rect x="35.2" y="399.2" width="81.6" height="37.3" fill="#8d8d8d"/><rect x="116.7" y="399.2" width="41.7" height="37.3" fill="#949494"/><rect x="158.3" y="399.2" width="10.5" height="37.3" fill="#a1a1a1"/><rect x="168.7" y="399.2" width="45.2" height="37.3" fill="#8b8b8b"/><rect x="213.8" y="399.2" width="20.9" height="37.3" fill="#909090"/><rect x="234.6" y="399.2" width="20.9" height="37.3" fill="#7d7d7d"/><rect x="255.5" y="399.2" width="29.6" height="37.3" fill="#858585"/><rect x="35.2" y="390.0" width="81.6" height="9.4" fill="#b1b1b1"/><rect x="116.7" y="390.0" width="41.7" height="9.4" fill="#a1a1a1"/><rect x="158.3" y="390.0" width="10.5" height="9.4" fill="#727272"/><rect x="168.7" y="390.0" width="45.2" height="9.4" fill="#8b8b8b"/><rect x="213.8" y="390.0" width="20.9" height="9.4" fill="#818181"/><rect x="234.6" y="390.0" width="20.9" height="9.4" fill="#7d7d7d"/><rect x="255.5" y="390.0" width="29.6" height="9.4" fill="#727272"/><rect x="35.2" y="349.7" width="81.6" height="40.4" fill="#8b8b8b"/><rect x="116.7" y="349.7" width="41.7" height="40.4" fill="#8b8b8b"/><rect x="158.3" y="349.7" width="10.5" height="40.4" fill="#7d7d7d"/><rect x="168.7" y="349.7" width="45.2" height="40.4" fill="#8b8b8b"/><rect x="213.8" y="349.7" width="20.9" height="40.4" fill="#7d7d7d"/><rect x="234.6" y="349.7" width="20.9" height="40.4" fill="#7d7d7d"/><rect x="255.5" y="349.7" width="29.6" height="40.4" fill="#7d7d7d"/><rect x="35.2" y="331.1" width="81.6" height="18.7" fill="#a1a1a1"/><rect x="116.7" y="331.1" width="41.7" height="18.7" fill="#949494"/><rect x="158.3" y="331.1" width="10.5" height="18.7" fill="#7d7d7d"/><rect x="168.7" y="331.1" width="45.2" height="18.7" fill="#8b8b8b"/><rect x="213.8" y="331.1" width="20.9" height="18.7" fill="#949494"/><rect x="234.6" y="331.1" width="20.9" height="18.7" fill="#7d7d7d"/><rect x="255.5" y="331.1" width="29.6" height="18.7" fill="#797979"/><rect x="35.2" y="312.5" width="81.6" height="18.7" fill="#7d7d7d"/><rect x="116.7" y="312.5" width="41.7" height="18.7" fill="#7d7d7d"/><rect x="158.3" y="312.5" width="10.5" height="18.7" fill="#7d7d7d"/><rect x="168.7" y="312.5" width="45.2" height="18.7" fill="#7d7d7d"/><rect x="213.8" y="312.5" width="20.9" height="18.7" fill="#7d7d7d"/><rect x="234.6" y="312.5" width="20.9" height="18.7" fill="#7d7d7d"/><rect x="255.5" y="312.5" width="29.6" height="18.7" fill="#7d7d7d"/><rect x="35.2" y="286.1" width="81.6" height="26.4" fill="#909090"/><rect x="116.7" y="286.1" width="41.7" height="26.4" fill="#898989"/><rect x="158.3" y="286.1" width="10.5" height="26.4" fill="#585858"/><rect x="168.7" y="286.1" width="45.2" height="26.4" fill="#7d7d7d"/><rect x="213.8" y="286.1" width="20.9" height="26.4" fill="#727272"/><rect x="234.6" y="286.1" width="20.9" height="26.4" fill="#7d7d7d"/><rect x="255.5" y="286.1" width="29.6" height="26.4" fill="#a1a1a1"/></g>
<g style="mix-blend-mode:lighten"><path d="M35.2 509.3L285 286.2" stroke="#191919" stroke-width="1.6" fill="none"/><path d="M92.4 458.2L118.5 434.9" stroke="#2e2e2e" stroke-width="1.4" stroke-linecap="round" fill="none"/><path d="M118.5 434.9L137.5 417.9" stroke="#3f3f3f" stroke-width="2.0" stroke-linecap="round" fill="none"/><ellipse cx="55.3" cy="491.3" rx="1.7" ry="1.5" fill="#5b5b5b"/><ellipse cx="74.4" cy="474.3" rx="1.7" ry="1.5" fill="#616161"/><ellipse cx="77.5" cy="471.5" rx="1.7" ry="1.5" fill="#676767"/><ellipse cx="77.5" cy="474.3" rx="1.7" ry="1.5" fill="#5b5b5b"/><ellipse cx="74.4" cy="471.5" rx="1.7" ry="1.5" fill="#5b5b5b"/><ellipse cx="131" cy="423.8" rx="1.7" ry="1.5" fill="#616161"/></g>
</g></g>
<path d="M124.9 286.2V509.3" stroke="#23a046" stroke-width="1.5" fill="none"/>
<path d="M138.2 286.2V509.3" stroke="#f4e01c" stroke-width="1.8" fill="none"/>
<path d="M159.8 286.2V509.3" stroke="#e3203a" stroke-width="1.7" fill="none"/>
<path d="M167.8 286.2V509.3" stroke="#f4e01c" stroke-width="1.8" fill="none"/>
<path d="M213.3 286.2V509.3" stroke="#e3203a" stroke-width="1.7" fill="none"/>
<path d="M233 286.2V509.3" stroke="#f4e01c" stroke-width="1.8" fill="none"/>
<path d="M253.9 286.2V509.3" stroke="#23a046" stroke-width="1.5" fill="none"/>
<path d="M35.2 313.6H285" stroke="#23a046" stroke-width="1.5" fill="none"/>
<path d="M35.2 332.6H285" stroke="#f4e01c" stroke-width="1.8" fill="none"/>
<path d="M35.2 350.1H285" stroke="#e3203a" stroke-width="1.7" fill="none"/>
<path d="M35.2 390.7H285" stroke="#f4e01c" stroke-width="1.8" fill="none"/>
<path d="M35.2 397.9H285" stroke="#e3203a" stroke-width="1.7" fill="none"/>
<path d="M35.2 416.1H285" stroke="#f4e01c" stroke-width="1.8" fill="none"/>
<path d="M35.2 428.4H285" stroke="#23a046" stroke-width="1.5" fill="none"/>
<path d="M35.2 286.2H286.2" stroke="#f4e01c" stroke-width="2.5" fill="none"/>
<path d="M285 286.2V509.3" stroke="#f4e01c" stroke-width="2.5" fill="none"/>
<rect x="294.2" y="286.1" width="9.600000000000023" height="223.29999999999995" fill="url(#cb)"/>
<text x="308.5" y="289.5" font-size="9">0.0062</text>
<path d="M303.8 286.5h2" stroke="#888" stroke-width="0.6"/>
<text x="308.5" y="311.7" font-size="9">0.0055</text>
<path d="M303.8 308.8h2" stroke="#888" stroke-width="0.6"/>
<text x="308.5" y="334" font-size="9">0.0049</text>
<path d="M303.8 331h2" stroke="#888" stroke-width="0.6"/>
<text x="308.5" y="356.2" font-size="9">0.0043</text>
<path d="M303.8 353.2h2" stroke="#888" stroke-width="0.6"/>
<text x="308.5" y="378.5" font-size="9">0.0037</text>
<path d="M303.8 375.5h2" stroke="#888" stroke-width="0.6"/>
<text x="308.5" y="400.7" font-size="9">0.0031</text>
<path d="M303.8 397.8h2" stroke="#888" stroke-width="0.6"/>
<text x="308.5" y="423" font-size="9">0.0025</text>
<path d="M303.8 420h2" stroke="#888" stroke-width="0.6"/>
<text x="308.5" y="445.2" font-size="9">0.0018</text>
<path d="M303.8 442.2h2" stroke="#888" stroke-width="0.6"/>
<text x="308.5" y="467.5" font-size="9">0.0012</text>
<path d="M303.8 464.5h2" stroke="#888" stroke-width="0.6"/>
<text x="308.5" y="489.7" font-size="9">0.0006</text>
<path d="M303.8 486.8h2" stroke="#888" stroke-width="0.6"/>
<text x="308.5" y="512" font-size="9">0.0000</text>
<path d="M303.8 509h2" stroke="#888" stroke-width="0.6"/>
<g filter="url(#tb)">
<text x="30.5" y="295.2" font-size="8.5" text-anchor="end">71</text>
<text x="30.5" y="316.4" font-size="8.5" text-anchor="end">64</text>
<text x="30.5" y="338.1" font-size="8.5" text-anchor="end">57</text>
<text x="30.5" y="359.7" font-size="8.5" text-anchor="end">50</text>
<text x="30.5" y="381.4" font-size="8.5" text-anchor="end">43</text>
<text x="30.5" y="403" font-size="8.5" text-anchor="end">36</text>
<text x="30.5" y="424.7" font-size="8.5" text-anchor="end">29</text>
<text x="30.5" y="446.7" font-size="8.5" text-anchor="end">22</text>
<text x="30.5" y="469" font-size="8.5" text-anchor="end">15</text>
<text x="30.5" y="491" font-size="8.5" text-anchor="end">8</text>
<text x="30.5" y="511.7" font-size="8.5" text-anchor="end">1</text>
<text x="35.2" y="518.8" font-size="8.5" text-anchor="middle">1</text>
<text x="59.5" y="518.8" font-size="8.5" text-anchor="middle">8</text>
<text x="83.8" y="518.8" font-size="8.5" text-anchor="middle">15</text>
<text x="108.1" y="518.8" font-size="8.5" text-anchor="middle">22</text>
<text x="132.3" y="518.8" font-size="8.5" text-anchor="middle">29</text>
<text x="156.6" y="518.8" font-size="8.5" text-anchor="middle">36</text>
<text x="180.9" y="518.8" font-size="8.5" text-anchor="middle">43</text>
<text x="205.2" y="518.8" font-size="8.5" text-anchor="middle">50</text>
<text x="229.5" y="518.8" font-size="8.5" text-anchor="middle">57</text>
<text x="253.8" y="518.8" font-size="8.5" text-anchor="middle">64</text>
<text x="278.1" y="518.8" font-size="8.5" text-anchor="middle">71</text>
<text x="6.2" y="298" font-size="10.8" text-anchor="middle">A</text>
<text x="6.2" y="325.1" font-size="10.3" text-anchor="middle" font-style="italic">π</text>
<text x="6.2" y="342.8" font-size="10.8" text-anchor="middle">A</text>
<text x="6.2" y="366.1" font-size="10.8" text-anchor="middle">D</text>
<text x="6.2" y="394.3" font-size="10.8" text-anchor="middle">A</text>
<text x="6.2" y="412.5" font-size="10.8" text-anchor="middle">D</text>
<text x="6.2" y="428.6" font-size="10.8" text-anchor="middle">A</text>
<text x="6.2" y="439.9" font-size="10.3" text-anchor="middle" font-style="italic">π</text>
<text x="109.3" y="528" font-size="10.3" text-anchor="middle" font-style="italic">π</text>
<text x="130.3" y="529.4" font-size="10.8" text-anchor="middle">A</text>
<text x="150" y="529.4" font-size="10.8" text-anchor="middle">D</text>
<text x="173.8" y="529.4" font-size="10.8" text-anchor="middle">A</text>
<text x="201.5" y="529.4" font-size="10.8" text-anchor="middle">D</text>
<text x="226" y="529.4" font-size="10.8" text-anchor="middle">A</text>
<text x="245" y="528" font-size="10.3" text-anchor="middle" font-style="italic">π</text>
<text x="279" y="529.4" font-size="10.8" text-anchor="middle">A</text>
<text x="169.5" y="551.4" font-size="16.5" text-anchor="middle">AO1</text>
<path d="M35.2 292.4h-2M35.2 313.6h-2M35.2 335.3h-2M35.2 356.9h-2M35.2 378.6h-2M35.2 400.2h-2M35.2 421.9h-2M35.2 443.9h-2M35.2 466.2h-2M35.2 488.2h-2M35.2 508.9h-2M35.2 509.3v2M35.2 285v-2.5M59.5 509.3v2M59.5 285v-2.5M83.8 509.3v2M83.8 285v-2.5M108.1 509.3v2M108.1 285v-2.5M132.3 509.3v2M132.3 285v-2.5M156.6 509.3v2M156.6 285v-2.5M180.9 509.3v2M180.9 285v-2.5M205.2 509.3v2M205.2 285v-2.5M229.5 509.3v2M229.5 285v-2.5M253.8 509.3v2M253.8 285v-2.5M278.1 509.3v2M278.1 285v-2.5M286.2 292.4h2.5M286.2 313.6h2.5M286.2 335.3h2.5M286.2 356.9h2.5M286.2 378.6h2.5M286.2 400.2h2.5M286.2 421.9h2.5M286.2 443.9h2.5M286.2 466.2h2.5M286.2 488.2h2.5M286.2 508.9h2.5" stroke="#777" stroke-width="0.6"/>
</g>
</g>
<g>
<defs><clipPath id="c2"><rect x="404.0" y="287.8" width="234.0" height="217.0"/></clipPath><linearGradient id="gc2" gradientUnits="userSpaceOnUse" x1="404" y1="0" x2="638" y2="0"><stop offset=".000" stop-color="#727272"/><stop offset=".007" stop-color="#565656"/><stop offset=".013" stop-color="#a1a1a1"/><stop offset=".020" stop-color="#c6c6c6"/><stop offset=".026" stop-color="#a1a1a1"/><stop offset=".033" stop-color="#565656"/><stop offset=".040" stop-color="#6c6c6c"/><stop offset=".046" stop-color="#858585"/><stop offset=".053" stop-color="#616161"/><stop offset=".060" stop-color="#9f9f9f"/><stop offset=".066" stop-color="#a6a6a6"/><stop offset=".073" stop-color="#f0f0f0"/><stop offset=".079" stop-color="#e7e7e7"/><stop offset=".086" stop-color="#929292"/><stop offset=".093" stop-color="#7f7f7f"/><stop offset=".099" stop-color="#888888"/><stop offset=".106" stop-color="#7c7c7c"/><stop offset=".113" stop-color="#d7d7d7"/><stop offset=".119" stop-color="#e2e2e2"/><stop offset=".126" stop-color="#909090"/><stop offset=".132" stop-color="#848484"/><stop offset=".139" stop-color="#7b7b7b"/><stop offset=".146" stop-color="#cccccc"/><stop offset=".152" stop-color="#d9d9d9"/><stop offset=".159" stop-color="#d9d9d9"/><stop offset=".166" stop-color="#cccccc"/><stop offset=".172" stop-color="#676767"/><stop offset=".179" stop-color="#a5a5a5"/><stop offset=".185" stop-color="#adadad"/><stop offset=".192" stop-color="#6e6e6e"/><stop offset=".199" stop-color="#7f7f7f"/><stop offset=".205" stop-color="#888888"/><stop offset=".212" stop-color="#a1a1a1"/><stop offset=".219" stop-color="#c6c6c6"/><stop offset=".225" stop-color="#a1a1a1"/><stop offset=".232" stop-color="#8a8a8a"/><stop offset=".238" stop-color="#6f6f6f"/><stop offset=".245" stop-color="#b5b5b5"/><stop offset=".252" stop-color="#bebebe"/><stop offset=".258" stop-color="#797979"/><stop offset=".265" stop-color="#636363"/><stop offset=".272" stop-color="#454545"/><stop offset=".278" stop-color="#282828"/><stop offset=".285" stop-color="#313131"/><stop offset=".291" stop-color="#323232"/><stop offset=".298" stop-color="#2a2a2a"/><stop offset=".305" stop-color="#303030"/><stop offset=".311" stop-color="#393939"/><stop offset=".318" stop-color="#909090"/><stop offset=".325" stop-color="#b2b2b2"/><stop offset=".331" stop-color="#6c6c6c"/><stop offset=".338" stop-color="#b2b2b2"/><stop offset=".344" stop-color="#909090"/><stop offset=".351" stop-color="#6c6c6c"/><stop offset=".358" stop-color="#b2b2b2"/><stop offset=".364" stop-color="#909090"/><stop offset=".371" stop-color="#6b6b6b"/><stop offset=".377" stop-color="#979797"/><stop offset=".384" stop-color="#6a6a6a"/><stop offset=".391" stop-color="#c8c8c8"/><stop offset=".397" stop-color="#e9e9e9"/><stop offset=".404" stop-color="#a4a4a4"/><stop offset=".411" stop-color="#848484"/><stop offset=".417" stop-color="#7b7b7b"/><stop offset=".424" stop-color="#3e3e3e"/><stop offset=".430" stop-color="#585858"/><stop offset=".437" stop-color="#3e3e3e"/><stop offset=".444" stop-color="#343434"/><stop offset=".450" stop-color="#393939"/><stop offset=".457" stop-color="#343434"/><stop offset=".464" stop-color="#272727"/><stop offset=".470" stop-color="#1b1b1b"/><stop offset=".477" stop-color="#5e5e5e"/><stop offset=".483" stop-color="#c7c7c7"/><stop offset=".490" stop-color="#ffffff"/><stop offset=".497" stop-color="#c7c7c7"/><stop offset=".503" stop-color="#5e5e5e"/><stop offset=".510" stop-color="#1b1b1b"/><stop offset=".517" stop-color="#191919"/><stop offset=".523" stop-color="#2b2b2b"/><stop offset=".530" stop-color="#333333"/><stop offset=".536" stop-color="#2b2b2b"/><stop offset=".543" stop-color="#191919"/><stop offset=".550" stop-color="#0e0e0e"/><stop offset=".556" stop-color="#222222"/><stop offset=".563" stop-color="#393939"/><stop offset=".570" stop-color="#434343"/><stop offset=".576" stop-color="#393939"/><stop offset=".583" stop-color="#222222"/><stop offset=".589" stop-color="#0f0f0f"/><stop offset=".596" stop-color="#242424"/><stop offset=".603" stop-color="#3d3d3d"/><stop offset=".609" stop-color="#484848"/><stop offset=".616" stop-color="#3d3d3d"/><stop offset=".623" stop-color="#353535"/><stop offset=".629" stop-color="#3e3e3e"/><stop offset=".636" stop-color="#353535"/><stop offset=".642" stop-color="#1f1f1f"/><stop offset=".649" stop-color="#2b2b2b"/><stop offset=".656" stop-color="#333333"/><stop offset=".662" stop-color="#2b2b2b"/><stop offset=".669" stop-color="#191919"/><stop offset=".675" stop-color="#0b0b0b"/><stop offset=".682" stop-color="#242424"/><stop offset=".689" stop-color="#717171"/><stop offset=".695" stop-color="#d9d9d9"/><stop offset=".702" stop-color="#fcfcfc"/><stop offset=".709" stop-color="#b2b2b2"/><stop offset=".715" stop-color="#646464"/><stop offset=".722" stop-color="#adadad"/><stop offset=".728" stop-color="#b6b6b6"/><stop offset=".735" stop-color="#747474"/><stop offset=".742" stop-color="#868686"/><stop offset=".748" stop-color="#808080"/><stop offset=".755" stop-color="#4a4a4a"/><stop offset=".762" stop-color="#1c1c1c"/><stop offset=".775" stop-color="#232323"/><stop offset=".788" stop-color="#232323"/><stop offset=".801" stop-color="#1c1c1c"/><stop offset=".808" stop-color="#1d1d1d"/><stop offset=".815" stop-color="#242424"/><stop offset=".821" stop-color="#2b2b2b"/><stop offset=".828" stop-color="#333333"/><stop offset=".834" stop-color="#3c3c3c"/><stop offset=".841" stop-color="#464646"/><stop offset=".848" stop-color="#505050"/><stop offset=".854" stop-color="#6e6e6e"/><stop offset=".861" stop-color="#adadad"/><stop offset=".868" stop-color="#a5a5a5"/><stop offset=".874" stop-color="#777777"/><stop offset=".881" stop-color="#a9a9a9"/><stop offset=".887" stop-color="#929292"/><stop offset=".894" stop-color="#888888"/><stop offset=".901" stop-color="#8b8b8b"/><stop offset=".907" stop-color="#b3b3b3"/><stop offset=".914" stop-color="#d5d5d5"/><stop offset=".921" stop-color="#b3b3b3"/><stop offset=".927" stop-color="#cfcfcf"/><stop offset=".934" stop-color="#d7d7d7"/><stop offset=".940" stop-color="#9d9d9d"/><stop offset=".947" stop-color="#c4c4c4"/><stop offset=".954" stop-color="#a8a8a8"/><stop offset=".960" stop-color="#5a5a5a"/><stop offset=".967" stop-color="#505050"/><stop offset=".974" stop-color="#464646"/><stop offset=".980" stop-color="#3c3c3c"/><stop offset=".987" stop-color="#333333"/><stop offset=".993" stop-color="#2b2b2b"/><stop offset="1.000" stop-color="#242424"/></linearGradient><linearGradient id="gr2" gradientUnits="userSpaceOnUse" x1="0" y1="504.8" x2="0" y2="287.8"><stop offset=".000" stop-color="#727272"/><stop offset=".007" stop-color="#565656"/><stop offset=".013" stop-color="#a1a1a1"/><stop offset=".020" stop-color="#c6c6c6"/><stop offset=".026" stop-color="#a1a1a1"/><stop offset=".033" stop-color="#565656"/><stop offset=".040" stop-color="#6c6c6c"/><stop offset=".046" stop-color="#858585"/><stop offset=".053" stop-color="#616161"/><stop offset=".060" stop-color="#9f9f9f"/><stop offset=".066" stop-color="#a6a6a6"/><stop offset=".073" stop-color="#f0f0f0"/><stop offset=".079" stop-color="#e7e7e7"/><stop offset=".086" stop-color="#929292"/><stop offset=".093" stop-color="#7f7f7f"/><stop offset=".099" stop-color="#888888"/><stop offset=".106" stop-color="#7c7c7c"/><stop offset=".113" stop-color="#d7d7d7"/><stop offset=".119" stop-color="#e2e2e2"/><stop offset=".126" stop-color="#909090"/><stop offset=".132" stop-color="#848484"/><stop offset=".139" stop-color="#7b7b7b"/><stop offset=".146" stop-color="#cccccc"/><stop offset=".152" stop-color="#d9d9d9"/><stop offset=".159" stop-color="#d9d9d9"/><stop offset=".166" stop-color="#cccccc"/><stop offset=".172" stop-color="#676767"/><stop offset=".179" stop-color="#a5a5a5"/><stop offset=".185" stop-color="#adadad"/><stop offset=".192" stop-color="#6e6e6e"/><stop offset=".199" stop-color="#7f7f7f"/><stop offset=".205" stop-color="#888888"/><stop offset=".212" stop-color="#a1a1a1"/><stop offset=".219" stop-color="#c6c6c6"/><stop offset=".225" stop-color="#a1a1a1"/><stop offset=".232" stop-color="#8a8a8a"/><stop offset=".238" stop-color="#6f6f6f"/><stop offset=".245" stop-color="#b5b5b5"/><stop offset=".252" stop-color="#bebebe"/><stop offset=".258" stop-color="#797979"/><stop offset=".265" stop-color="#636363"/><stop offset=".272" stop-color="#454545"/><stop offset=".278" stop-color="#282828"/><stop offset=".285" stop-color="#313131"/><stop offset=".291" stop-color="#323232"/><stop offset=".298" stop-color="#2c2c2c"/><stop offset=".305" stop-color="#353535"/><stop offset=".311" stop-color="#3f3f3f"/><stop offset=".318" stop-color="#858585"/><stop offset=".325" stop-color="#8f8f8f"/><stop offset=".331" stop-color="#6c6c6c"/><stop offset=".338" stop-color="#b2b2b2"/><stop offset=".344" stop-color="#909090"/><stop offset=".351" stop-color="#7f7f7f"/><stop offset=".358" stop-color="#b4b4b4"/><stop offset=".364" stop-color="#7f7f7f"/><stop offset=".371" stop-color="#767676"/><stop offset=".377" stop-color="#8c8c8c"/><stop offset=".384" stop-color="#6d6d6d"/><stop offset=".391" stop-color="#c6c6c6"/><stop offset=".397" stop-color="#f5f5f5"/><stop offset=".404" stop-color="#959595"/><stop offset=".411" stop-color="#787878"/><stop offset=".417" stop-color="#707070"/><stop offset=".424" stop-color="#393939"/><stop offset=".430" stop-color="#515151"/><stop offset=".437" stop-color="#393939"/><stop offset=".444" stop-color="#343434"/><stop offset=".450" stop-color="#393939"/><stop offset=".457" stop-color="#343434"/><stop offset=".464" stop-color="#272727"/><stop offset=".470" stop-color="#353535"/><stop offset=".477" stop-color="#7f7f7f"/><stop offset=".483" stop-color="#d6d6d6"/><stop offset=".490" stop-color="#ffffff"/><stop offset=".497" stop-color="#d6d6d6"/><stop offset=".503" stop-color="#7f7f7f"/><stop offset=".510" stop-color="#353535"/><stop offset=".517" stop-color="#191919"/><stop offset=".523" stop-color="#2b2b2b"/><stop offset=".530" stop-color="#333333"/><stop offset=".536" stop-color="#2b2b2b"/><stop offset=".543" stop-color="#191919"/><stop offset=".550" stop-color="#0e0e0e"/><stop offset=".556" stop-color="#222222"/><stop offset=".563" stop-color="#393939"/><stop offset=".570" stop-color="#434343"/><stop offset=".576" stop-color="#393939"/><stop offset=".583" stop-color="#222222"/><stop offset=".589" stop-color="#0f0f0f"/><stop offset=".596" stop-color="#242424"/><stop offset=".603" stop-color="#3d3d3d"/><stop offset=".609" stop-color="#484848"/><stop offset=".616" stop-color="#3d3d3d"/><stop offset=".623" stop-color="#353535"/><stop offset=".629" stop-color="#3e3e3e"/><stop offset=".636" stop-color="#353535"/><stop offset=".642" stop-color="#1f1f1f"/><stop offset=".649" stop-color="#2b2b2b"/><stop offset=".656" stop-color="#333333"/><stop offset=".662" stop-color="#2b2b2b"/><stop offset=".669" stop-color="#191919"/><stop offset=".675" stop-color="#151515"/><stop offset=".682" stop-color="#414141"/><stop offset=".689" stop-color="#919191"/><stop offset=".695" stop-color="#e4e4e4"/><stop offset=".702" stop-color="#fdfdfd"/><stop offset=".709" stop-color="#c7c7c7"/><stop offset=".715" stop-color="#6e6e6e"/><stop offset=".722" stop-color="#adadad"/><stop offset=".728" stop-color="#b6b6b6"/><stop offset=".735" stop-color="#747474"/><stop offset=".742" stop-color="#868686"/><stop offset=".748" stop-color="#808080"/><stop offset=".755" stop-color="#4a4a4a"/><stop offset=".762" stop-color="#1c1c1c"/><stop offset=".775" stop-color="#232323"/><stop offset=".788" stop-color="#232323"/><stop offset=".801" stop-color="#1c1c1c"/><stop offset=".808" stop-color="#1d1d1d"/><stop offset=".815" stop-color="#242424"/><stop offset=".821" stop-color="#2b2b2b"/><stop offset=".828" stop-color="#333333"/><stop offset=".834" stop-color="#3c3c3c"/><stop offset=".841" stop-color="#464646"/><stop offset=".848" stop-color="#5a5a5a"/><stop offset=".854" stop-color="#989898"/><stop offset=".861" stop-color="#b4b4b4"/><stop offset=".868" stop-color="#989898"/><stop offset=".874" stop-color="#757575"/><stop offset=".881" stop-color="#7d7d7d"/><stop offset=".887" stop-color="#929292"/><stop offset=".894" stop-color="#c2c2c2"/><stop offset=".901" stop-color="#e7e7e7"/><stop offset=".907" stop-color="#f8f8f8"/><stop offset=".914" stop-color="#f0f0f0"/><stop offset=".921" stop-color="#d2d2d2"/><stop offset=".927" stop-color="#a6a6a6"/><stop offset=".934" stop-color="#7d7d7d"/><stop offset=".940" stop-color="#757575"/><stop offset=".947" stop-color="#808080"/><stop offset=".954" stop-color="#afafaf"/><stop offset=".960" stop-color="#a9a9a9"/><stop offset=".967" stop-color="#747474"/><stop offset=".974" stop-color="#464646"/><stop offset=".980" stop-color="#3c3c3c"/><stop offset=".987" stop-color="#333333"/><stop offset=".993" stop-color="#2b2b2b"/><stop offset="1.000" stop-color="#242424"/></linearGradient><linearGradient id="gd2" x1="0" y1="0" x2="1" y2="1"><stop offset="0.000" stop-color="#727272"/><stop offset="0.287" stop-color="#727272"/><stop offset="0.404" stop-color="#878787"/><stop offset="0.500" stop-color="#939393"/><stop offset="0.596" stop-color="#878787"/><stop offset="0.713" stop-color="#727272"/><stop offset="1.000" stop-color="#727272"/></linearGradient></defs>
<g clip-path="url(#c2)"><g filter="url(#cm)">
<rect x="398" y="281.8" width="246" height="229" fill="#000"/>
<rect x="404" y="287.8" width="234" height="217" fill="url(#gc2)"/>
<rect x="404" y="287.8" width="234" height="217" fill="url(#gr2)" style="mix-blend-mode:multiply"/>
<g style="mix-blend-mode:multiply"><rect x="403.9" y="437.2" width="72.9" height="67.6" fill="url(#gd2)"/><rect x="476.8" y="437.2" width="37.3" height="67.6" fill="#8b8b8b"/><rect x="514.0" y="437.2" width="9.4" height="67.6" fill="#b3b3b3"/><rect x="523.3" y="437.2" width="40.4" height="67.6" fill="#939393"/><rect x="563.6" y="437.2" width="18.7" height="67.6" fill="#a4a4a4"/><rect x="582.2" y="437.2" width="18.7" height="67.6" fill="#858585"/><rect x="600.8" y="437.2" width="37.3" height="67.6" fill="#919191"/><rect x="403.9" y="402.7" width="72.9" height="34.6" fill="#959595"/><rect x="476.8" y="402.7" width="37.3" height="34.6" fill="#9d9d9d"/><rect x="514.0" y="402.7" width="9.4" height="34.6" fill="#ababab"/><rect x="523.3" y="402.7" width="40.4" height="34.6" fill="#939393"/><rect x="563.6" y="402.7" width="18.7" height="34.6" fill="#999999"/><rect x="582.2" y="402.7" width="18.7" height="34.6" fill="#858585"/><rect x="600.8" y="402.7" width="37.3" height="34.6" fill="#8d8d8d"/><rect x="403.9" y="394.1" width="72.9" height="8.7" fill="#bbbbbb"/><rect x="476.8" y="394.1" width="37.3" height="8.7" fill="#ababab"/><rect x="514.0" y="394.1" width="9.4" height="8.7" fill="#797979"/><rect x="523.3" y="394.1" width="40.4" height="8.7" fill="#939393"/><rect x="563.6" y="394.1" width="18.7" height="8.7" fill="#898989"/><rect x="582.2" y="394.1" width="18.7" height="8.7" fill="#858585"/><rect x="600.8" y="394.1" width="37.3" height="8.7" fill="#797979"/><rect x="403.9" y="356.7" width="72.9" height="37.5" fill="#939393"/><rect x="476.8" y="356.7" width="37.3" height="37.5" fill="#939393"/><rect x="514.0" y="356.7" width="9.4" height="37.5" fill="#858585"/><rect x="523.3" y="356.7" width="40.4" height="37.5" fill="#939393"/><rect x="563.6" y="356.7" width="18.7" height="37.5" fill="#858585"/><rect x="582.2" y="356.7" width="18.7" height="37.5" fill="#858585"/><rect x="600.8" y="356.7" width="37.3" height="37.5" fill="#858585"/><rect x="403.9" y="339.5" width="72.9" height="17.3" fill="#ababab"/><rect x="476.8" y="339.5" width="37.3" height="17.3" fill="#9d9d9d"/><rect x="514.0" y="339.5" width="9.4" height="17.3" fill="#858585"/><rect x="523.3" y="339.5" width="40.4" height="17.3" fill="#939393"/><rect x="563.6" y="339.5" width="18.7" height="17.3" fill="#9d9d9d"/><rect x="582.2" y="339.5" width="18.7" height="17.3" fill="#858585"/><rect x="600.8" y="339.5" width="37.3" height="17.3" fill="#808080"/><rect x="403.9" y="322.2" width="72.9" height="17.3" fill="#858585"/><rect x="476.8" y="322.2" width="37.3" height="17.3" fill="#858585"/><rect x="514.0" y="322.2" width="9.4" height="17.3" fill="#858585"/><rect x="523.3" y="322.2" width="40.4" height="17.3" fill="#858585"/><rect x="563.6" y="322.2" width="18.7" height="17.3" fill="#858585"/><rect x="582.2" y="322.2" width="18.7" height="17.3" fill="#858585"/><rect x="600.8" y="322.2" width="37.3" height="17.3" fill="#858585"/><rect x="403.9" y="287.8" width="72.9" height="34.6" fill="#999999"/><rect x="476.8" y="287.8" width="37.3" height="34.6" fill="#919191"/><rect x="514.0" y="287.8" width="9.4" height="34.6" fill="#5e5e5e"/><rect x="523.3" y="287.8" width="40.4" height="34.6" fill="#858585"/><rect x="563.6" y="287.8" width="18.7" height="34.6" fill="#797979"/><rect x="582.2" y="287.8" width="18.7" height="34.6" fill="#858585"/><rect x="600.8" y="287.8" width="37.3" height="34.6" fill="#545454"/></g>
<g style="mix-blend-mode:lighten"><path d="M404 504.8L638 287.8" stroke="#191919" stroke-width="1.6" fill="none"/><path d="M455.1 457.4L478.4 435.8" stroke="#2e2e2e" stroke-width="1.4" stroke-linecap="round" fill="none"/><path d="M478.4 435.8L495.4 420" stroke="#444444" stroke-width="2.0" stroke-linecap="round" fill="none"/><ellipse cx="422" cy="488.1" rx="1.5" ry="1.4" fill="#636363"/><ellipse cx="439" cy="472.3" rx="1.5" ry="1.4" fill="#6a6a6a"/><ellipse cx="441.8" cy="469.7" rx="1.5" ry="1.4" fill="#707070"/><ellipse cx="441.8" cy="472.3" rx="1.5" ry="1.4" fill="#636363"/><ellipse cx="439" cy="469.7" rx="1.5" ry="1.4" fill="#636363"/><ellipse cx="489.5" cy="425.5" rx="1.5" ry="1.4" fill="#6a6a6a"/></g>
</g></g>
<path d="M490.6 287.8V504.8" stroke="#23a046" stroke-width="1.5" fill="none"/>
<path d="M513.8 287.8V504.8" stroke="#e3203a" stroke-width="1.7" fill="none"/>
<path d="M521 287.8V504.8" stroke="#f4e01c" stroke-width="1.8" fill="none"/>
<path d="M562 287.8V504.8" stroke="#e3203a" stroke-width="1.7" fill="none"/>
<path d="M580.2 287.8V504.8" stroke="#f4e01c" stroke-width="1.8" fill="none"/>
<path d="M597.7 287.8V504.8" stroke="#23a046" stroke-width="1.5" fill="none"/>
<path d="M404 324.3H638" stroke="#23a046" stroke-width="1.5" fill="none"/>
<path d="M404 341.4H638" stroke="#f4e01c" stroke-width="1.8" fill="none"/>
<path d="M404 358.7H638" stroke="#e3203a" stroke-width="1.7" fill="none"/>
<path d="M404 395.4H638" stroke="#f4e01c" stroke-width="1.8" fill="none"/>
<path d="M404 402.2H638" stroke="#e3203a" stroke-width="1.7" fill="none"/>
<path d="M404 426H638" stroke="#23a046" stroke-width="1.5" fill="none"/>
<path d="M404 287.8H638.9" stroke="#f4e01c" stroke-width="2.0" fill="none"/>
<path d="M638 287.8V504.8" stroke="#f4e01c" stroke-width="1.7" fill="none"/>
<rect x="647.3" y="288" width="8.700000000000045" height="216.7" fill="url(#cb)"/>
<text x="660" y="290.7" font-size="8.2">0.0046</text>
<path d="M656 288h2" stroke="#888" stroke-width="0.6"/>
<text x="660" y="312.4" font-size="8.2">0.0042</text>
<path d="M656 309.6h2" stroke="#888" stroke-width="0.6"/>
<text x="660" y="334" font-size="8.2">0.0037</text>
<path d="M656 331.3h2" stroke="#888" stroke-width="0.6"/>
<text x="660" y="355.7" font-size="8.2">0.0032</text>
<path d="M656 352.9h2" stroke="#888" stroke-width="0.6"/>
<text x="660" y="377.3" font-size="8.2">0.0028</text>
<path d="M656 374.6h2" stroke="#888" stroke-width="0.6"/>
<text x="660" y="399" font-size="8.2">0.0023</text>
<path d="M656 396.2h2" stroke="#888" stroke-width="0.6"/>
<text x="660" y="420.6" font-size="8.2">0.0018</text>
<path d="M656 417.9h2" stroke="#888" stroke-width="0.6"/>
<text x="660" y="442.3" font-size="8.2">0.0014</text>
<path d="M656 439.6h2" stroke="#888" stroke-width="0.6"/>
<text x="660" y="463.9" font-size="8.2">0.0009</text>
<path d="M656 461.2h2" stroke="#888" stroke-width="0.6"/>
<text x="660" y="485.6" font-size="8.2">0.0005</text>
<path d="M656 482.9h2" stroke="#888" stroke-width="0.6"/>
<text x="660" y="507.2" font-size="8.2">0.0000</text>
<path d="M656 504.5h2" stroke="#888" stroke-width="0.6"/>
<g filter="url(#tb)">
<text x="398.9" y="301.1" font-size="7.7" text-anchor="end">73</text>
<text x="398.9" y="323.7" font-size="7.7" text-anchor="end">65</text>
<text x="398.9" y="346" font-size="7.7" text-anchor="end">57</text>
<text x="398.9" y="370.1" font-size="7.7" text-anchor="end">49</text>
<text x="398.9" y="393.8" font-size="7.7" text-anchor="end">41</text>
<text x="398.9" y="415.5" font-size="7.7" text-anchor="end">33</text>
<text x="398.9" y="439.6" font-size="7.7" text-anchor="end">25</text>
<text x="398.9" y="462.9" font-size="7.7" text-anchor="end">17</text>
<text x="398.9" y="485.6" font-size="7.7" text-anchor="end">9</text>
<text x="398.9" y="508" font-size="7.7" text-anchor="end">1</text>
<text x="404" y="514.3" font-size="7.7" text-anchor="middle">1</text>
<text x="428.8" y="514.3" font-size="7.7" text-anchor="middle">9</text>
<text x="453.6" y="514.3" font-size="7.7" text-anchor="middle">17</text>
<text x="478.4" y="514.3" font-size="7.7" text-anchor="middle">25</text>
<text x="503.2" y="514.3" font-size="7.7" text-anchor="middle">33</text>
<text x="528" y="514.3" font-size="7.7" text-anchor="middle">41</text>
<text x="552.8" y="514.3" font-size="7.7" text-anchor="middle">49</text>
<text x="577.6" y="514.3" font-size="7.7" text-anchor="middle">57</text>
<text x="602.4" y="514.3" font-size="7.7" text-anchor="middle">65</text>
<text x="627.2" y="514.3" font-size="7.7" text-anchor="middle">73</text>
<text x="369.4" y="304.2" font-size="10.8" text-anchor="middle">A</text>
<text x="369.4" y="330" font-size="10.3" text-anchor="middle" font-style="italic">π</text>
<text x="369.4" y="356.8" font-size="10.8" text-anchor="middle">A</text>
<text x="369.4" y="376.8" font-size="10.8" text-anchor="middle">D</text>
<text x="369.4" y="401.1" font-size="10.8" text-anchor="middle">A</text>
<text x="369.4" y="424.8" font-size="10.8" text-anchor="middle">D</text>
<text x="369.4" y="452.3" font-size="10.3" text-anchor="middle" font-style="italic">π</text>
<text x="477" y="526.2" font-size="10.3" text-anchor="middle" font-style="italic">π</text>
<text x="499.6" y="527.6" font-size="10.8" text-anchor="middle">D</text>
<text x="520.6" y="527.6" font-size="10.8" text-anchor="middle">A</text>
<text x="550.7" y="527.6" font-size="10.8" text-anchor="middle">D</text>
<text x="571" y="527.6" font-size="10.8" text-anchor="middle">A</text>
<text x="595" y="526.2" font-size="10.3" text-anchor="middle" font-style="italic">π</text>
<text x="629.5" y="527.6" font-size="10.8" text-anchor="middle">A</text>
<text x="525.8" y="550.4" font-size="16.5" text-anchor="middle">AO2</text>
<path d="M404 298.6h-2M404 321.2h-2M404 343.5h-2M404 367.6h-2M404 391.3h-2M404 413h-2M404 437.1h-2M404 460.4h-2M404 483.1h-2M404 505.5h-2M404 504.8v2M404 286.6v-2.5M428.8 504.8v2M428.8 286.6v-2.5M453.6 504.8v2M453.6 286.6v-2.5M478.4 504.8v2M478.4 286.6v-2.5M503.2 504.8v2M503.2 286.6v-2.5M528 504.8v2M528 286.6v-2.5M552.8 504.8v2M552.8 286.6v-2.5M577.6 504.8v2M577.6 286.6v-2.5M602.4 504.8v2M602.4 286.6v-2.5M627.2 504.8v2M627.2 286.6v-2.5M639.2 298.6h2.5M639.2 321.2h2.5M639.2 343.5h2.5M639.2 367.6h2.5M639.2 391.3h2.5M639.2 413h2.5M639.2 437.1h2.5M639.2 460.4h2.5M639.2 483.1h2.5M639.2 505.5h2.5" stroke="#777" stroke-width="0.6"/>
</g>
</g>
<g>
<defs><clipPath id="c3"><rect x="43.6" y="563.6" width="239.4" height="216.69999999999993"/></clipPath><linearGradient id="gc3" gradientUnits="userSpaceOnUse" x1="43.6" y1="0" x2="283" y2="0"><stop offset=".000" stop-color="#727272"/><stop offset=".006" stop-color="#565656"/><stop offset=".013" stop-color="#a1a1a1"/><stop offset=".019" stop-color="#c6c6c6"/><stop offset=".026" stop-color="#a1a1a1"/><stop offset=".032" stop-color="#565656"/><stop offset=".039" stop-color="#6c6c6c"/><stop offset=".045" stop-color="#858585"/><stop offset=".051" stop-color="#616161"/><stop offset=".058" stop-color="#9f9f9f"/><stop offset=".064" stop-color="#a6a6a6"/><stop offset=".071" stop-color="#f0f0f0"/><stop offset=".077" stop-color="#e7e7e7"/><stop offset=".084" stop-color="#929292"/><stop offset=".090" stop-color="#7f7f7f"/><stop offset=".096" stop-color="#888888"/><stop offset=".103" stop-color="#7c7c7c"/><stop offset=".109" stop-color="#d7d7d7"/><stop offset=".116" stop-color="#e2e2e2"/><stop offset=".122" stop-color="#909090"/><stop offset=".129" stop-color="#848484"/><stop offset=".135" stop-color="#7b7b7b"/><stop offset=".141" stop-color="#cccccc"/><stop offset=".148" stop-color="#d9d9d9"/><stop offset=".154" stop-color="#d9d9d9"/><stop offset=".161" stop-color="#cccccc"/><stop offset=".167" stop-color="#676767"/><stop offset=".174" stop-color="#a5a5a5"/><stop offset=".180" stop-color="#adadad"/><stop offset=".186" stop-color="#6e6e6e"/><stop offset=".193" stop-color="#7f7f7f"/><stop offset=".199" stop-color="#888888"/><stop offset=".206" stop-color="#a1a1a1"/><stop offset=".212" stop-color="#c6c6c6"/><stop offset=".219" stop-color="#a1a1a1"/><stop offset=".225" stop-color="#8a8a8a"/><stop offset=".231" stop-color="#6f6f6f"/><stop offset=".238" stop-color="#b5b5b5"/><stop offset=".244" stop-color="#bebebe"/><stop offset=".251" stop-color="#797979"/><stop offset=".257" stop-color="#636363"/><stop offset=".263" stop-color="#454545"/><stop offset=".270" stop-color="#282828"/><stop offset=".276" stop-color="#313131"/><stop offset=".283" stop-color="#323232"/><stop offset=".289" stop-color="#2a2a2a"/><stop offset=".296" stop-color="#303030"/><stop offset=".302" stop-color="#393939"/><stop offset=".308" stop-color="#909090"/><stop offset=".315" stop-color="#b2b2b2"/><stop offset=".321" stop-color="#6c6c6c"/><stop offset=".328" stop-color="#b2b2b2"/><stop offset=".334" stop-color="#909090"/><stop offset=".341" stop-color="#6c6c6c"/><stop offset=".347" stop-color="#b2b2b2"/><stop offset=".353" stop-color="#909090"/><stop offset=".360" stop-color="#6b6b6b"/><stop offset=".366" stop-color="#979797"/><stop offset=".373" stop-color="#6a6a6a"/><stop offset=".379" stop-color="#c8c8c8"/><stop offset=".386" stop-color="#e9e9e9"/><stop offset=".392" stop-color="#a4a4a4"/><stop offset=".398" stop-color="#848484"/><stop offset=".405" stop-color="#7b7b7b"/><stop offset=".411" stop-color="#3e3e3e"/><stop offset=".418" stop-color="#585858"/><stop offset=".424" stop-color="#3e3e3e"/><stop offset=".431" stop-color="#343434"/><stop offset=".437" stop-color="#393939"/><stop offset=".443" stop-color="#343434"/><stop offset=".450" stop-color="#272727"/><stop offset=".456" stop-color="#1b1b1b"/><stop offset=".463" stop-color="#5e5e5e"/><stop offset=".469" stop-color="#c7c7c7"/><stop offset=".476" stop-color="#ffffff"/><stop offset=".482" stop-color="#c7c7c7"/><stop offset=".488" stop-color="#5e5e5e"/><stop offset=".495" stop-color="#1b1b1b"/><stop offset=".501" stop-color="#191919"/><stop offset=".508" stop-color="#2b2b2b"/><stop offset=".514" stop-color="#333333"/><stop offset=".521" stop-color="#2b2b2b"/><stop offset=".527" stop-color="#191919"/><stop offset=".533" stop-color="#0e0e0e"/><stop offset=".540" stop-color="#222222"/><stop offset=".546" stop-color="#393939"/><stop offset=".553" stop-color="#434343"/><stop offset=".559" stop-color="#393939"/><stop offset=".566" stop-color="#222222"/><stop offset=".572" stop-color="#0f0f0f"/><stop offset=".578" stop-color="#242424"/><stop offset=".585" stop-color="#3d3d3d"/><stop offset=".591" stop-color="#484848"/><stop offset=".598" stop-color="#3d3d3d"/><stop offset=".604" stop-color="#353535"/><stop offset=".611" stop-color="#3e3e3e"/><stop offset=".617" stop-color="#353535"/><stop offset=".623" stop-color="#1f1f1f"/><stop offset=".630" stop-color="#2b2b2b"/><stop offset=".636" stop-color="#333333"/><stop offset=".643" stop-color="#2b2b2b"/><stop offset=".649" stop-color="#191919"/><stop offset=".656" stop-color="#0b0b0b"/><stop offset=".662" stop-color="#242424"/><stop offset=".668" stop-color="#717171"/><stop offset=".675" stop-color="#d9d9d9"/><stop offset=".681" stop-color="#fcfcfc"/><stop offset=".688" stop-color="#b2b2b2"/><stop offset=".694" stop-color="#646464"/><stop offset=".701" stop-color="#adadad"/><stop offset=".707" stop-color="#b6b6b6"/><stop offset=".713" stop-color="#747474"/><stop offset=".720" stop-color="#868686"/><stop offset=".726" stop-color="#808080"/><stop offset=".733" stop-color="#4a4a4a"/><stop offset=".739" stop-color="#1c1c1c"/><stop offset=".752" stop-color="#232323"/><stop offset=".765" stop-color="#232323"/><stop offset=".778" stop-color="#1c1c1c"/><stop offset=".784" stop-color="#171717"/><stop offset=".790" stop-color="#151515"/><stop offset=".797" stop-color="#1a1a1a"/><stop offset=".803" stop-color="#202020"/><stop offset=".810" stop-color="#272727"/><stop offset=".816" stop-color="#2f2f2f"/><stop offset=".823" stop-color="#373737"/><stop offset=".829" stop-color="#464646"/><stop offset=".835" stop-color="#868686"/><stop offset=".842" stop-color="#9c9c9c"/><stop offset=".848" stop-color="#6e6e6e"/><stop offset=".855" stop-color="#5b5b5b"/><stop offset=".861" stop-color="#8f8f8f"/><stop offset=".868" stop-color="#888888"/><stop offset=".874" stop-color="#636363"/><stop offset=".880" stop-color="#868686"/><stop offset=".887" stop-color="#9c9c9c"/><stop offset=".893" stop-color="#6e6e6e"/><stop offset=".900" stop-color="#747474"/><stop offset=".906" stop-color="#959595"/><stop offset=".913" stop-color="#747474"/><stop offset=".919" stop-color="#3f3f3f"/><stop offset=".925" stop-color="#373737"/><stop offset=".932" stop-color="#2f2f2f"/><stop offset=".938" stop-color="#272727"/><stop offset=".945" stop-color="#202020"/><stop offset=".951" stop-color="#1a1a1a"/><stop offset=".958" stop-color="#151515"/><stop offset=".964" stop-color="#101010"/><stop offset=".977" stop-color="#090909"/><stop offset="1.000" stop-color="#030303"/></linearGradient><linearGradient id="gr3" gradientUnits="userSpaceOnUse" x1="0" y1="780.3" x2="0" y2="563.6"><stop offset=".000" stop-color="#727272"/><stop offset=".006" stop-color="#565656"/><stop offset=".013" stop-color="#a1a1a1"/><stop offset=".019" stop-color="#c6c6c6"/><stop offset=".026" stop-color="#a1a1a1"/><stop offset=".032" stop-color="#565656"/><stop offset=".039" stop-color="#6c6c6c"/><stop offset=".045" stop-color="#858585"/><stop offset=".051" stop-color="#616161"/><stop offset=".058" stop-color="#9f9f9f"/><stop offset=".064" stop-color="#a6a6a6"/><stop offset=".071" stop-color="#f0f0f0"/><stop offset=".077" stop-color="#e7e7e7"/><stop offset=".084" stop-color="#929292"/><stop offset=".090" stop-color="#7f7f7f"/><stop offset=".096" stop-color="#888888"/><stop offset=".103" stop-color="#7c7c7c"/><stop offset=".109" stop-color="#d7d7d7"/><stop offset=".116" stop-color="#e2e2e2"/><stop offset=".122" stop-color="#909090"/><stop offset=".129" stop-color="#848484"/><stop offset=".135" stop-color="#7b7b7b"/><stop offset=".141" stop-color="#cccccc"/><stop offset=".148" stop-color="#d9d9d9"/><stop offset=".154" stop-color="#d9d9d9"/><stop offset=".161" stop-color="#cccccc"/><stop offset=".167" stop-color="#676767"/><stop offset=".174" stop-color="#a5a5a5"/><stop offset=".180" stop-color="#adadad"/><stop offset=".186" stop-color="#6e6e6e"/><stop offset=".193" stop-color="#7f7f7f"/><stop offset=".199" stop-color="#888888"/><stop offset=".206" stop-color="#a1a1a1"/><stop offset=".212" stop-color="#c6c6c6"/><stop offset=".219" stop-color="#a1a1a1"/><stop offset=".225" stop-color="#8a8a8a"/><stop offset=".231" stop-color="#6f6f6f"/><stop offset=".238" stop-color="#b5b5b5"/><stop offset=".244" stop-color="#bebebe"/><stop offset=".251" stop-color="#797979"/><stop offset=".257" stop-color="#636363"/><stop offset=".263" stop-color="#454545"/><stop offset=".270" stop-color="#282828"/><stop offset=".276" stop-color="#313131"/><stop offset=".283" stop-color="#323232"/><stop offset=".289" stop-color="#2c2c2c"/><stop offset=".296" stop-color="#353535"/><stop offset=".302" stop-color="#3f3f3f"/><stop offset=".308" stop-color="#858585"/><stop offset=".315" stop-color="#8f8f8f"/><stop offset=".321" stop-color="#6c6c6c"/><stop offset=".328" stop-color="#b2b2b2"/><stop offset=".334" stop-color="#909090"/><stop offset=".341" stop-color="#7f7f7f"/><stop offset=".347" stop-color="#b4b4b4"/><stop offset=".353" stop-color="#7f7f7f"/><stop offset=".360" stop-color="#767676"/><stop offset=".366" stop-color="#8c8c8c"/><stop offset=".373" stop-color="#6d6d6d"/><stop offset=".379" stop-color="#c6c6c6"/><stop offset=".386" stop-color="#f5f5f5"/><stop offset=".392" stop-color="#959595"/><stop offset=".398" stop-color="#787878"/><stop offset=".405" stop-color="#707070"/><stop offset=".411" stop-color="#393939"/><stop offset=".418" stop-color="#515151"/><stop offset=".424" stop-color="#393939"/><stop offset=".431" stop-color="#343434"/><stop offset=".437" stop-color="#393939"/><stop offset=".443" stop-color="#343434"/><stop offset=".450" stop-color="#272727"/><stop offset=".456" stop-color="#353535"/><stop offset=".463" stop-color="#7f7f7f"/><stop offset=".469" stop-color="#d6d6d6"/><stop offset=".476" stop-color="#ffffff"/><stop offset=".482" stop-color="#d6d6d6"/><stop offset=".488" stop-color="#7f7f7f"/><stop offset=".495" stop-color="#353535"/><stop offset=".501" stop-color="#191919"/><stop offset=".508" stop-color="#2b2b2b"/><stop offset=".514" stop-color="#333333"/><stop offset=".521" stop-color="#2b2b2b"/><stop offset=".527" stop-color="#191919"/><stop offset=".533" stop-color="#0e0e0e"/><stop offset=".540" stop-color="#222222"/><stop offset=".546" stop-color="#393939"/><stop offset=".553" stop-color="#434343"/><stop offset=".559" stop-color="#393939"/><stop offset=".566" stop-color="#222222"/><stop offset=".572" stop-color="#0f0f0f"/><stop offset=".578" stop-color="#242424"/><stop offset=".585" stop-color="#3d3d3d"/><stop offset=".591" stop-color="#484848"/><stop offset=".598" stop-color="#3d3d3d"/><stop offset=".604" stop-color="#353535"/><stop offset=".611" stop-color="#3e3e3e"/><stop offset=".617" stop-color="#353535"/><stop offset=".623" stop-color="#1f1f1f"/><stop offset=".630" stop-color="#2b2b2b"/><stop offset=".636" stop-color="#333333"/><stop offset=".643" stop-color="#2b2b2b"/><stop offset=".649" stop-color="#191919"/><stop offset=".656" stop-color="#151515"/><stop offset=".662" stop-color="#414141"/><stop offset=".668" stop-color="#919191"/><stop offset=".675" stop-color="#e4e4e4"/><stop offset=".681" stop-color="#fdfdfd"/><stop offset=".688" stop-color="#c7c7c7"/><stop offset=".694" stop-color="#6e6e6e"/><stop offset=".701" stop-color="#adadad"/><stop offset=".707" stop-color="#b6b6b6"/><stop offset=".713" stop-color="#747474"/><stop offset=".720" stop-color="#868686"/><stop offset=".726" stop-color="#808080"/><stop offset=".733" stop-color="#4a4a4a"/><stop offset=".739" stop-color="#1c1c1c"/><stop offset=".752" stop-color="#232323"/><stop offset=".765" stop-color="#232323"/><stop offset=".778" stop-color="#1c1c1c"/><stop offset=".784" stop-color="#171717"/><stop offset=".790" stop-color="#181818"/><stop offset=".797" stop-color="#1e1e1e"/><stop offset=".803" stop-color="#252525"/><stop offset=".810" stop-color="#2d2d2d"/><stop offset=".816" stop-color="#363636"/><stop offset=".823" stop-color="#3f3f3f"/><stop offset=".829" stop-color="#505050"/><stop offset=".835" stop-color="#9a9a9a"/><stop offset=".842" stop-color="#b3b3b3"/><stop offset=".848" stop-color="#7e7e7e"/><stop offset=".855" stop-color="#696969"/><stop offset=".861" stop-color="#a4a4a4"/><stop offset=".868" stop-color="#9c9c9c"/><stop offset=".874" stop-color="#727272"/><stop offset=".880" stop-color="#9a9a9a"/><stop offset=".887" stop-color="#b3b3b3"/><stop offset=".893" stop-color="#7e7e7e"/><stop offset=".900" stop-color="#858585"/><stop offset=".906" stop-color="#ababab"/><stop offset=".913" stop-color="#858585"/><stop offset=".919" stop-color="#484848"/><stop offset=".925" stop-color="#3f3f3f"/><stop offset=".932" stop-color="#363636"/><stop offset=".938" stop-color="#2d2d2d"/><stop offset=".945" stop-color="#252525"/><stop offset=".951" stop-color="#1e1e1e"/><stop offset=".958" stop-color="#181818"/><stop offset=".964" stop-color="#131313"/><stop offset=".970" stop-color="#0e0e0e"/><stop offset=".983" stop-color="#080808"/><stop offset="1.000" stop-color="#030303"/></linearGradient><linearGradient id="gd3" x1="0" y1="0" x2="1" y2="1"><stop offset="0.000" stop-color="#6b6b6b"/><stop offset="0.287" stop-color="#6b6b6b"/><stop offset="0.404" stop-color="#7f7f7f"/><stop offset="0.500" stop-color="#8b8b8b"/><stop offset="0.596" stop-color="#7f7f7f"/><stop offset="0.713" stop-color="#6b6b6b"/><stop offset="1.000" stop-color="#6b6b6b"/></linearGradient></defs>
<g clip-path="url(#c3)"><g filter="url(#cm)">
<rect x="37.6" y="557.6" width="251.4" height="228.7" fill="#000"/>
<rect x="43.6" y="563.6" width="239.4" height="216.7" fill="url(#gc3)"/>
<rect x="43.6" y="563.6" width="239.4" height="216.7" fill="url(#gr3)" style="mix-blend-mode:multiply"/>
<g style="mix-blend-mode:multiply"><rect x="43.6" y="714.8" width="72.4" height="65.6" fill="url(#gd3)"/><rect x="115.9" y="714.8" width="37.0" height="65.6" fill="#838383"/><rect x="152.8" y="714.8" width="9.3" height="65.6" fill="#a9a9a9"/><rect x="162.0" y="714.8" width="40.1" height="65.6" fill="#8b8b8b"/><rect x="202.0" y="714.8" width="18.6" height="65.6" fill="#9b9b9b"/><rect x="220.5" y="714.8" width="18.6" height="65.6" fill="#7d7d7d"/><rect x="238.9" y="714.8" width="44.1" height="65.6" fill="#898989"/><rect x="43.6" y="681.4" width="72.4" height="33.5" fill="#8d8d8d"/><rect x="115.9" y="681.4" width="37.0" height="33.5" fill="#949494"/><rect x="152.8" y="681.4" width="9.3" height="33.5" fill="#a1a1a1"/><rect x="162.0" y="681.4" width="40.1" height="33.5" fill="#8b8b8b"/><rect x="202.0" y="681.4" width="18.6" height="33.5" fill="#909090"/><rect x="220.5" y="681.4" width="18.6" height="33.5" fill="#7d7d7d"/><rect x="238.9" y="681.4" width="44.1" height="33.5" fill="#858585"/><rect x="43.6" y="673.0" width="72.4" height="8.5" fill="#b1b1b1"/><rect x="115.9" y="673.0" width="37.0" height="8.5" fill="#a1a1a1"/><rect x="152.8" y="673.0" width="9.3" height="8.5" fill="#727272"/><rect x="162.0" y="673.0" width="40.1" height="8.5" fill="#8b8b8b"/><rect x="202.0" y="673.0" width="18.6" height="8.5" fill="#818181"/><rect x="220.5" y="673.0" width="18.6" height="8.5" fill="#7d7d7d"/><rect x="238.9" y="673.0" width="44.1" height="8.5" fill="#727272"/><rect x="43.6" y="636.8" width="72.4" height="36.3" fill="#8b8b8b"/><rect x="115.9" y="636.8" width="37.0" height="36.3" fill="#8b8b8b"/><rect x="152.8" y="636.8" width="9.3" height="36.3" fill="#7d7d7d"/><rect x="162.0" y="636.8" width="40.1" height="36.3" fill="#8b8b8b"/><rect x="202.0" y="636.8" width="18.6" height="36.3" fill="#7d7d7d"/><rect x="220.5" y="636.8" width="18.6" height="36.3" fill="#7d7d7d"/><rect x="238.9" y="636.8" width="44.1" height="36.3" fill="#7d7d7d"/><rect x="43.6" y="620.1" width="72.4" height="16.8" fill="#a1a1a1"/><rect x="115.9" y="620.1" width="37.0" height="16.8" fill="#949494"/><rect x="152.8" y="620.1" width="9.3" height="16.8" fill="#7d7d7d"/><rect x="162.0" y="620.1" width="40.1" height="16.8" fill="#8b8b8b"/><rect x="202.0" y="620.1" width="18.6" height="16.8" fill="#949494"/><rect x="220.5" y="620.1" width="18.6" height="16.8" fill="#7d7d7d"/><rect x="238.9" y="620.1" width="44.1" height="16.8" fill="#797979"/><rect x="43.6" y="603.4" width="72.4" height="16.8" fill="#7d7d7d"/><rect x="115.9" y="603.4" width="37.0" height="16.8" fill="#7d7d7d"/><rect x="152.8" y="603.4" width="9.3" height="16.8" fill="#7d7d7d"/><rect x="162.0" y="603.4" width="40.1" height="16.8" fill="#7d7d7d"/><rect x="202.0" y="603.4" width="18.6" height="16.8" fill="#7d7d7d"/><rect x="220.5" y="603.4" width="18.6" height="16.8" fill="#7d7d7d"/><rect x="238.9" y="603.4" width="44.1" height="16.8" fill="#7d7d7d"/><rect x="43.6" y="563.6" width="72.4" height="39.9" fill="#909090"/><rect x="115.9" y="563.6" width="37.0" height="39.9" fill="#898989"/><rect x="152.8" y="563.6" width="9.3" height="39.9" fill="#585858"/><rect x="162.0" y="563.6" width="40.1" height="39.9" fill="#7d7d7d"/><rect x="202.0" y="563.6" width="18.6" height="39.9" fill="#727272"/><rect x="220.5" y="563.6" width="18.6" height="39.9" fill="#7d7d7d"/><rect x="238.9" y="563.6" width="44.1" height="39.9" fill="#4f4f4f"/></g>
<g style="mix-blend-mode:lighten"><path d="M43.6 780.3L283 563.6" stroke="#191919" stroke-width="1.6" fill="none"/><path d="M94.4 734.3L117.5 713.5" stroke="#2e2e2e" stroke-width="1.4" stroke-linecap="round" fill="none"/><path d="M117.5 713.5L134.4 698.1" stroke="#3f3f3f" stroke-width="2.0" stroke-linecap="round" fill="none"/><ellipse cx="61.4" cy="764.1" rx="1.5" ry="1.4" fill="#5b5b5b"/><ellipse cx="78.4" cy="748.8" rx="1.5" ry="1.4" fill="#616161"/><ellipse cx="81.1" cy="746.3" rx="1.5" ry="1.4" fill="#676767"/><ellipse cx="81.1" cy="748.8" rx="1.5" ry="1.4" fill="#5b5b5b"/><ellipse cx="78.4" cy="746.3" rx="1.5" ry="1.4" fill="#5b5b5b"/><ellipse cx="128.5" cy="703.4" rx="1.5" ry="1.4" fill="#616161"/></g>
</g></g>
<path d="M129.8 563.6V780.3" stroke="#23a046" stroke-width="1.5" fill="none"/>
<path d="M153.3 563.6V780.3" stroke="#e3203a" stroke-width="1.7" fill="none"/>
<path d="M162.8 563.6V780.3" stroke="#f4e01c" stroke-width="1.8" fill="none"/>
<path d="M200.8 563.6V780.3" stroke="#e3203a" stroke-width="1.7" fill="none"/>
<path d="M219.8 563.6V780.3" stroke="#f4e01c" stroke-width="1.8" fill="none"/>
<path d="M237.2 563.6V780.3" stroke="#23a046" stroke-width="1.5" fill="none"/>
<path d="M43.6 604.8H283" stroke="#23a046" stroke-width="1.5" fill="none"/>
<path d="M43.6 621H283" stroke="#f4e01c" stroke-width="1.8" fill="none"/>
<path d="M43.6 637.7H283" stroke="#e3203a" stroke-width="1.7" fill="none"/>
<path d="M43.6 673.1H283" stroke="#f4e01c" stroke-width="1.8" fill="none"/>
<path d="M43.6 680.9H283" stroke="#e3203a" stroke-width="1.7" fill="none"/>
<path d="M43.6 701.9H283" stroke="#23a046" stroke-width="1.5" fill="none"/>
<path d="M43.6 563.6H283.9" stroke="#f4e01c" stroke-width="2.8" fill="none"/>
<path d="M283 563.6V780.3" stroke="#f4e01c" stroke-width="1.7" fill="none"/>
<rect x="293.0" y="563.5" width="9.399999999999977" height="216.79999999999995" fill="url(#cb)"/>
<text x="306.2" y="567" font-size="9">0.0058</text>
<path d="M302.4 564h2" stroke="#888" stroke-width="0.6"/>
<text x="306.2" y="588.6" font-size="9">0.0052</text>
<path d="M302.4 585.6h2" stroke="#888" stroke-width="0.6"/>
<text x="306.2" y="610.2" font-size="9">0.0046</text>
<path d="M302.4 607.2h2" stroke="#888" stroke-width="0.6"/>
<text x="306.2" y="631.8" font-size="9">0.0040</text>
<path d="M302.4 628.8h2" stroke="#888" stroke-width="0.6"/>
<text x="306.2" y="653.4" font-size="9">0.0035</text>
<path d="M302.4 650.4h2" stroke="#888" stroke-width="0.6"/>
<text x="306.2" y="675" font-size="9">0.0029</text>
<path d="M302.4 672h2" stroke="#888" stroke-width="0.6"/>
<text x="306.2" y="696.6" font-size="9">0.0023</text>
<path d="M302.4 693.6h2" stroke="#888" stroke-width="0.6"/>
<text x="306.2" y="718.2" font-size="9">0.0017</text>
<path d="M302.4 715.2h2" stroke="#888" stroke-width="0.6"/>
<text x="306.2" y="739.8" font-size="9">0.0012</text>
<path d="M302.4 736.8h2" stroke="#888" stroke-width="0.6"/>
<text x="306.2" y="761.4" font-size="9">0.0006</text>
<path d="M302.4 758.4h2" stroke="#888" stroke-width="0.6"/>
<text x="306.2" y="783" font-size="9">0.0000</text>
<path d="M302.4 780h2" stroke="#888" stroke-width="0.6"/>
<g filter="url(#tb)">
<text x="38.6" y="582.5" font-size="8.5" text-anchor="end">73</text>
<text x="38.6" y="604.8" font-size="8.5" text-anchor="end">65</text>
<text x="38.6" y="627.5" font-size="8.5" text-anchor="end">57</text>
<text x="38.6" y="650" font-size="8.5" text-anchor="end">49</text>
<text x="38.6" y="672.6" font-size="8.5" text-anchor="end">41</text>
<text x="38.6" y="693.9" font-size="8.5" text-anchor="end">33</text>
<text x="38.6" y="716.6" font-size="8.5" text-anchor="end">25</text>
<text x="38.6" y="738.8" font-size="8.5" text-anchor="end">17</text>
<text x="38.6" y="761.5" font-size="8.5" text-anchor="end">9</text>
<text x="38.6" y="782.5" font-size="8.5" text-anchor="end">1</text>
<text x="43.6" y="790" font-size="8.5" text-anchor="middle">1</text>
<text x="68.2" y="790" font-size="8.5" text-anchor="middle">9</text>
<text x="92.8" y="790" font-size="8.5" text-anchor="middle">17</text>
<text x="117.5" y="790" font-size="8.5" text-anchor="middle">25</text>
<text x="142.1" y="790" font-size="8.5" text-anchor="middle">33</text>
<text x="166.7" y="790" font-size="8.5" text-anchor="middle">41</text>
<text x="191.3" y="790" font-size="8.5" text-anchor="middle">49</text>
<text x="215.9" y="790" font-size="8.5" text-anchor="middle">57</text>
<text x="240.5" y="790" font-size="8.5" text-anchor="middle">65</text>
<text x="265.2" y="790" font-size="8.5" text-anchor="middle">73</text>
<text x="10.7" y="577.7" font-size="12.5" text-anchor="middle">A</text>
<text x="10.7" y="607.6" font-size="11.9" text-anchor="middle" font-style="italic">π</text>
<text x="10.7" y="624.7" font-size="12.5" text-anchor="middle">A</text>
<text x="10.7" y="655" font-size="12.5" text-anchor="middle">D</text>
<text x="10.7" y="680.3" font-size="12.5" text-anchor="middle">A</text>
<text x="10.7" y="699.7" font-size="12.5" text-anchor="middle">D</text>
<text x="10.7" y="711.1" font-size="11.9" text-anchor="middle" font-style="italic">π</text>
<text x="107.5" y="805.1" font-size="11.9" text-anchor="middle" font-style="italic">π</text>
<text x="132.5" y="806.7" font-size="12.5" text-anchor="middle">D</text>
<text x="158" y="806.7" font-size="12.5" text-anchor="middle">A</text>
<text x="192.3" y="806.7" font-size="12.5" text-anchor="middle">D</text>
<text x="217.2" y="806.7" font-size="12.5" text-anchor="middle">A</text>
<text x="240" y="805.1" font-size="11.9" text-anchor="middle" font-style="italic">π</text>
<text x="276.1" y="806.7" font-size="12.5" text-anchor="middle">A</text>
<text x="170" y="829.4" font-size="16.5" text-anchor="middle">AO3</text>
<path d="M43.6 579.7h-2M43.6 602h-2M43.6 624.7h-2M43.6 647.2h-2M43.6 669.8h-2M43.6 691.1h-2M43.6 713.8h-2M43.6 736h-2M43.6 758.7h-2M43.6 779.7h-2M43.6 780.3v2M43.6 562.4v-2.5M68.2 780.3v2M68.2 562.4v-2.5M92.8 780.3v2M92.8 562.4v-2.5M117.5 780.3v2M117.5 562.4v-2.5M142.1 780.3v2M142.1 562.4v-2.5M166.7 780.3v2M166.7 562.4v-2.5M191.3 780.3v2M191.3 562.4v-2.5M215.9 780.3v2M215.9 562.4v-2.5M240.5 780.3v2M240.5 562.4v-2.5M265.2 780.3v2M265.2 562.4v-2.5M284.2 579.7h2.5M284.2 602h2.5M284.2 624.7h2.5M284.2 647.2h2.5M284.2 669.8h2.5M284.2 691.1h2.5M284.2 713.8h2.5M284.2 736h2.5M284.2 758.7h2.5M284.2 779.7h2.5" stroke="#777" stroke-width="0.6"/>
</g>
</g>
<g>
<defs><clipPath id="c4"><rect x="408.6" y="564.3" width="216.29999999999995" height="214.60000000000002"/></clipPath><linearGradient id="gc4" gradientUnits="userSpaceOnUse" x1="408.6" y1="0" x2="624.9" y2="0"><stop offset=".000" stop-color="#727272"/><stop offset=".006" stop-color="#565656"/><stop offset=".013" stop-color="#a1a1a1"/><stop offset=".019" stop-color="#c6c6c6"/><stop offset=".026" stop-color="#a1a1a1"/><stop offset=".032" stop-color="#565656"/><stop offset=".038" stop-color="#6c6c6c"/><stop offset=".045" stop-color="#858585"/><stop offset=".051" stop-color="#616161"/><stop offset=".058" stop-color="#9f9f9f"/><stop offset=".064" stop-color="#a6a6a6"/><stop offset=".071" stop-color="#f0f0f0"/><stop offset=".077" stop-color="#e7e7e7"/><stop offset=".083" stop-color="#929292"/><stop offset=".090" stop-color="#7f7f7f"/><stop offset=".096" stop-color="#888888"/><stop offset=".103" stop-color="#7c7c7c"/><stop offset=".109" stop-color="#d7d7d7"/><stop offset=".115" stop-color="#e2e2e2"/><stop offset=".122" stop-color="#909090"/><stop offset=".128" stop-color="#848484"/><stop offset=".135" stop-color="#7b7b7b"/><stop offset=".141" stop-color="#cccccc"/><stop offset=".148" stop-color="#d9d9d9"/><stop offset=".154" stop-color="#d9d9d9"/><stop offset=".160" stop-color="#cccccc"/><stop offset=".167" stop-color="#676767"/><stop offset=".173" stop-color="#a5a5a5"/><stop offset=".180" stop-color="#adadad"/><stop offset=".186" stop-color="#6e6e6e"/><stop offset=".192" stop-color="#7f7f7f"/><stop offset=".199" stop-color="#888888"/><stop offset=".205" stop-color="#a1a1a1"/><stop offset=".212" stop-color="#c6c6c6"/><stop offset=".218" stop-color="#a1a1a1"/><stop offset=".225" stop-color="#8a8a8a"/><stop offset=".231" stop-color="#6f6f6f"/><stop offset=".237" stop-color="#b5b5b5"/><stop offset=".244" stop-color="#bebebe"/><stop offset=".250" stop-color="#797979"/><stop offset=".257" stop-color="#636363"/><stop offset=".263" stop-color="#454545"/><stop offset=".269" stop-color="#282828"/><stop offset=".276" stop-color="#313131"/><stop offset=".282" stop-color="#323232"/><stop offset=".289" stop-color="#2a2a2a"/><stop offset=".295" stop-color="#303030"/><stop offset=".301" stop-color="#393939"/><stop offset=".308" stop-color="#909090"/><stop offset=".314" stop-color="#b2b2b2"/><stop offset=".321" stop-color="#6c6c6c"/><stop offset=".327" stop-color="#b2b2b2"/><stop offset=".334" stop-color="#909090"/><stop offset=".340" stop-color="#6c6c6c"/><stop offset=".346" stop-color="#b2b2b2"/><stop offset=".353" stop-color="#909090"/><stop offset=".359" stop-color="#6b6b6b"/><stop offset=".366" stop-color="#979797"/><stop offset=".372" stop-color="#6a6a6a"/><stop offset=".378" stop-color="#c8c8c8"/><stop offset=".385" stop-color="#e9e9e9"/><stop offset=".391" stop-color="#a4a4a4"/><stop offset=".398" stop-color="#848484"/><stop offset=".404" stop-color="#7b7b7b"/><stop offset=".411" stop-color="#3e3e3e"/><stop offset=".417" stop-color="#585858"/><stop offset=".423" stop-color="#3e3e3e"/><stop offset=".430" stop-color="#343434"/><stop offset=".436" stop-color="#393939"/><stop offset=".443" stop-color="#343434"/><stop offset=".449" stop-color="#272727"/><stop offset=".455" stop-color="#1b1b1b"/><stop offset=".462" stop-color="#5e5e5e"/><stop offset=".468" stop-color="#c7c7c7"/><stop offset=".475" stop-color="#ffffff"/><stop offset=".481" stop-color="#c7c7c7"/><stop offset=".487" stop-color="#5e5e5e"/><stop offset=".494" stop-color="#1b1b1b"/><stop offset=".500" stop-color="#191919"/><stop offset=".507" stop-color="#2b2b2b"/><stop offset=".513" stop-color="#333333"/><stop offset=".520" stop-color="#2b2b2b"/><stop offset=".526" stop-color="#191919"/><stop offset=".532" stop-color="#0e0e0e"/><stop offset=".539" stop-color="#222222"/><stop offset=".545" stop-color="#393939"/><stop offset=".552" stop-color="#434343"/><stop offset=".558" stop-color="#393939"/><stop offset=".564" stop-color="#222222"/><stop offset=".571" stop-color="#0f0f0f"/><stop offset=".577" stop-color="#242424"/><stop offset=".584" stop-color="#3d3d3d"/><stop offset=".590" stop-color="#484848"/><stop offset=".597" stop-color="#3d3d3d"/><stop offset=".603" stop-color="#353535"/><stop offset=".609" stop-color="#3e3e3e"/><stop offset=".616" stop-color="#353535"/><stop offset=".622" stop-color="#1f1f1f"/><stop offset=".629" stop-color="#2b2b2b"/><stop offset=".635" stop-color="#333333"/><stop offset=".641" stop-color="#2b2b2b"/><stop offset=".648" stop-color="#191919"/><stop offset=".654" stop-color="#0b0b0b"/><stop offset=".661" stop-color="#242424"/><stop offset=".667" stop-color="#717171"/><stop offset=".674" stop-color="#d9d9d9"/><stop offset=".680" stop-color="#fcfcfc"/><stop offset=".686" stop-color="#b2b2b2"/><stop offset=".693" stop-color="#646464"/><stop offset=".699" stop-color="#adadad"/><stop offset=".706" stop-color="#b6b6b6"/><stop offset=".712" stop-color="#747474"/><stop offset=".718" stop-color="#868686"/><stop offset=".725" stop-color="#808080"/><stop offset=".731" stop-color="#4a4a4a"/><stop offset=".738" stop-color="#1c1c1c"/><stop offset=".750" stop-color="#232323"/><stop offset=".763" stop-color="#232323"/><stop offset=".776" stop-color="#1c1c1c"/><stop offset=".783" stop-color="#171717"/><stop offset=".789" stop-color="#151515"/><stop offset=".795" stop-color="#1a1a1a"/><stop offset=".802" stop-color="#202020"/><stop offset=".808" stop-color="#272727"/><stop offset=".815" stop-color="#2f2f2f"/><stop offset=".821" stop-color="#373737"/><stop offset=".827" stop-color="#464646"/><stop offset=".834" stop-color="#868686"/><stop offset=".840" stop-color="#9c9c9c"/><stop offset=".847" stop-color="#6e6e6e"/><stop offset=".853" stop-color="#5b5b5b"/><stop offset=".860" stop-color="#8f8f8f"/><stop offset=".866" stop-color="#888888"/><stop offset=".872" stop-color="#636363"/><stop offset=".879" stop-color="#868686"/><stop offset=".885" stop-color="#9c9c9c"/><stop offset=".892" stop-color="#6e6e6e"/><stop offset=".898" stop-color="#747474"/><stop offset=".904" stop-color="#959595"/><stop offset=".911" stop-color="#747474"/><stop offset=".917" stop-color="#3f3f3f"/><stop offset=".924" stop-color="#373737"/><stop offset=".930" stop-color="#2f2f2f"/><stop offset=".936" stop-color="#272727"/><stop offset=".943" stop-color="#202020"/><stop offset=".949" stop-color="#1a1a1a"/><stop offset=".956" stop-color="#151515"/><stop offset=".962" stop-color="#101010"/><stop offset=".975" stop-color="#090909"/><stop offset="1.000" stop-color="#030303"/></linearGradient><linearGradient id="gr4" gradientUnits="userSpaceOnUse" x1="0" y1="778.9" x2="0" y2="564.3"><stop offset=".000" stop-color="#727272"/><stop offset=".006" stop-color="#565656"/><stop offset=".013" stop-color="#a1a1a1"/><stop offset=".019" stop-color="#c6c6c6"/><stop offset=".026" stop-color="#a1a1a1"/><stop offset=".032" stop-color="#565656"/><stop offset=".038" stop-color="#6c6c6c"/><stop offset=".045" stop-color="#858585"/><stop offset=".051" stop-color="#616161"/><stop offset=".058" stop-color="#9f9f9f"/><stop offset=".064" stop-color="#a6a6a6"/><stop offset=".071" stop-color="#f0f0f0"/><stop offset=".077" stop-color="#e7e7e7"/><stop offset=".083" stop-color="#929292"/><stop offset=".090" stop-color="#7f7f7f"/><stop offset=".096" stop-color="#888888"/><stop offset=".103" stop-color="#7c7c7c"/><stop offset=".109" stop-color="#d7d7d7"/><stop offset=".115" stop-color="#e2e2e2"/><stop offset=".122" stop-color="#909090"/><stop offset=".128" stop-color="#848484"/><stop offset=".135" stop-color="#7b7b7b"/><stop offset=".141" stop-color="#cccccc"/><stop offset=".148" stop-color="#d9d9d9"/><stop offset=".154" stop-color="#d9d9d9"/><stop offset=".160" stop-color="#cccccc"/><stop offset=".167" stop-color="#676767"/><stop offset=".173" stop-color="#a5a5a5"/><stop offset=".180" stop-color="#adadad"/><stop offset=".186" stop-color="#6e6e6e"/><stop offset=".192" stop-color="#7f7f7f"/><stop offset=".199" stop-color="#888888"/><stop offset=".205" stop-color="#a1a1a1"/><stop offset=".212" stop-color="#c6c6c6"/><stop offset=".218" stop-color="#a1a1a1"/><stop offset=".225" stop-color="#8a8a8a"/><stop offset=".231" stop-color="#6f6f6f"/><stop offset=".237" stop-color="#b5b5b5"/><stop offset=".244" stop-color="#bebebe"/><stop offset=".250" stop-color="#797979"/><stop offset=".257" stop-color="#636363"/><stop offset=".263" stop-color="#454545"/><stop offset=".269" stop-color="#282828"/><stop offset=".276" stop-color="#313131"/><stop offset=".282" stop-color="#323232"/><stop offset=".289" stop-color="#2c2c2c"/><stop offset=".295" stop-color="#353535"/><stop offset=".301" stop-color="#3f3f3f"/><stop offset=".308" stop-color="#858585"/><stop offset=".314" stop-color="#8f8f8f"/><stop offset=".321" stop-color="#6c6c6c"/><stop offset=".327" stop-color="#b2b2b2"/><stop offset=".334" stop-color="#909090"/><stop offset=".340" stop-color="#7f7f7f"/><stop offset=".346" stop-color="#b4b4b4"/><stop offset=".353" stop-color="#7f7f7f"/><stop offset=".359" stop-color="#767676"/><stop offset=".366" stop-color="#8c8c8c"/><stop offset=".372" stop-color="#6d6d6d"/><stop offset=".378" stop-color="#c6c6c6"/><stop offset=".385" stop-color="#f5f5f5"/><stop offset=".391" stop-color="#959595"/><stop offset=".398" stop-color="#787878"/><stop offset=".404" stop-color="#707070"/><stop offset=".411" stop-color="#393939"/><stop offset=".417" stop-color="#515151"/><stop offset=".423" stop-color="#393939"/><stop offset=".430" stop-color="#343434"/><stop offset=".436" stop-color="#393939"/><stop offset=".443" stop-color="#343434"/><stop offset=".449" stop-color="#272727"/><stop offset=".455" stop-color="#353535"/><stop offset=".462" stop-color="#7f7f7f"/><stop offset=".468" stop-color="#d6d6d6"/><stop offset=".475" stop-color="#ffffff"/><stop offset=".481" stop-color="#d6d6d6"/><stop offset=".487" stop-color="#7f7f7f"/><stop offset=".494" stop-color="#353535"/><stop offset=".500" stop-color="#191919"/><stop offset=".507" stop-color="#2b2b2b"/><stop offset=".513" stop-color="#333333"/><stop offset=".520" stop-color="#2b2b2b"/><stop offset=".526" stop-color="#191919"/><stop offset=".532" stop-color="#0e0e0e"/><stop offset=".539" stop-color="#222222"/><stop offset=".545" stop-color="#393939"/><stop offset=".552" stop-color="#434343"/><stop offset=".558" stop-color="#393939"/><stop offset=".564" stop-color="#222222"/><stop offset=".571" stop-color="#0f0f0f"/><stop offset=".577" stop-color="#242424"/><stop offset=".584" stop-color="#3d3d3d"/><stop offset=".590" stop-color="#484848"/><stop offset=".597" stop-color="#3d3d3d"/><stop offset=".603" stop-color="#353535"/><stop offset=".609" stop-color="#3e3e3e"/><stop offset=".616" stop-color="#353535"/><stop offset=".622" stop-color="#1f1f1f"/><stop offset=".629" stop-color="#2b2b2b"/><stop offset=".635" stop-color="#333333"/><stop offset=".641" stop-color="#2b2b2b"/><stop offset=".648" stop-color="#191919"/><stop offset=".654" stop-color="#151515"/><stop offset=".661" stop-color="#414141"/><stop offset=".667" stop-color="#919191"/><stop offset=".674" stop-color="#e4e4e4"/><stop offset=".680" stop-color="#fdfdfd"/><stop offset=".686" stop-color="#c7c7c7"/><stop offset=".693" stop-color="#6e6e6e"/><stop offset=".699" stop-color="#adadad"/><stop offset=".706" stop-color="#b6b6b6"/><stop offset=".712" stop-color="#747474"/><stop offset=".718" stop-color="#868686"/><stop offset=".725" stop-color="#808080"/><stop offset=".731" stop-color="#4a4a4a"/><stop offset=".738" stop-color="#1c1c1c"/><stop offset=".750" stop-color="#232323"/><stop offset=".763" stop-color="#232323"/><stop offset=".776" stop-color="#1c1c1c"/><stop offset=".783" stop-color="#171717"/><stop offset=".789" stop-color="#181818"/><stop offset=".795" stop-color="#1e1e1e"/><stop offset=".802" stop-color="#252525"/><stop offset=".808" stop-color="#2d2d2d"/><stop offset=".815" stop-color="#363636"/><stop offset=".821" stop-color="#3f3f3f"/><stop offset=".827" stop-color="#505050"/><stop offset=".834" stop-color="#9a9a9a"/><stop offset=".840" stop-color="#b3b3b3"/><stop offset=".847" stop-color="#7e7e7e"/><stop offset=".853" stop-color="#696969"/><stop offset=".860" stop-color="#a4a4a4"/><stop offset=".866" stop-color="#9c9c9c"/><stop offset=".872" stop-color="#727272"/><stop offset=".879" stop-color="#9a9a9a"/><stop offset=".885" stop-color="#b3b3b3"/><stop offset=".892" stop-color="#7e7e7e"/><stop offset=".898" stop-color="#858585"/><stop offset=".904" stop-color="#ababab"/><stop offset=".911" stop-color="#858585"/><stop offset=".917" stop-color="#484848"/><stop offset=".924" stop-color="#3f3f3f"/><stop offset=".930" stop-color="#363636"/><stop offset=".936" stop-color="#2d2d2d"/><stop offset=".943" stop-color="#252525"/><stop offset=".949" stop-color="#1e1e1e"/><stop offset=".956" stop-color="#181818"/><stop offset=".962" stop-color="#131313"/><stop offset=".969" stop-color="#0e0e0e"/><stop offset=".981" stop-color="#080808"/><stop offset="1.000" stop-color="#030303"/></linearGradient><linearGradient id="gd4" x1="0" y1="0" x2="1" y2="1"><stop offset="0.000" stop-color="#6b6b6b"/><stop offset="0.287" stop-color="#6b6b6b"/><stop offset="0.404" stop-color="#7f7f7f"/><stop offset="0.500" stop-color="#8b8b8b"/><stop offset="0.596" stop-color="#7f7f7f"/><stop offset="0.713" stop-color="#6b6b6b"/><stop offset="1.000" stop-color="#6b6b6b"/></linearGradient></defs>
<g clip-path="url(#c4)"><g filter="url(#cm)">
<rect x="402.6" y="558.3" width="228.3" height="226.6" fill="#000"/>
<rect x="408.6" y="564.3" width="216.3" height="214.6" fill="url(#gc4)"/>
<rect x="408.6" y="564.3" width="216.3" height="214.6" fill="url(#gr4)" style="mix-blend-mode:multiply"/>
<g style="mix-blend-mode:multiply"><rect x="408.6" y="714.2" width="65.3" height="64.8" fill="url(#gd4)"/><rect x="473.8" y="714.2" width="33.4" height="64.8" fill="#838383"/><rect x="507.1" y="714.2" width="8.4" height="64.8" fill="#a9a9a9"/><rect x="515.4" y="714.2" width="36.2" height="64.8" fill="#8b8b8b"/><rect x="551.5" y="714.2" width="16.7" height="64.8" fill="#9b9b9b"/><rect x="568.1" y="714.2" width="16.7" height="64.8" fill="#7d7d7d"/><rect x="584.8" y="714.2" width="40.2" height="64.8" fill="#898989"/><rect x="408.6" y="681.1" width="65.3" height="33.1" fill="#8d8d8d"/><rect x="473.8" y="681.1" width="33.4" height="33.1" fill="#949494"/><rect x="507.1" y="681.1" width="8.4" height="33.1" fill="#a1a1a1"/><rect x="515.4" y="681.1" width="36.2" height="33.1" fill="#8b8b8b"/><rect x="551.5" y="681.1" width="16.7" height="33.1" fill="#909090"/><rect x="568.1" y="681.1" width="16.7" height="33.1" fill="#7d7d7d"/><rect x="584.8" y="681.1" width="40.2" height="33.1" fill="#858585"/><rect x="408.6" y="672.9" width="65.3" height="8.4" fill="#b1b1b1"/><rect x="473.8" y="672.9" width="33.4" height="8.4" fill="#a1a1a1"/><rect x="507.1" y="672.9" width="8.4" height="8.4" fill="#727272"/><rect x="515.4" y="672.9" width="36.2" height="8.4" fill="#8b8b8b"/><rect x="551.5" y="672.9" width="16.7" height="8.4" fill="#818181"/><rect x="568.1" y="672.9" width="16.7" height="8.4" fill="#7d7d7d"/><rect x="584.8" y="672.9" width="40.2" height="8.4" fill="#727272"/><rect x="408.6" y="637.1" width="65.3" height="35.9" fill="#8b8b8b"/><rect x="473.8" y="637.1" width="33.4" height="35.9" fill="#8b8b8b"/><rect x="507.1" y="637.1" width="8.4" height="35.9" fill="#7d7d7d"/><rect x="515.4" y="637.1" width="36.2" height="35.9" fill="#8b8b8b"/><rect x="551.5" y="637.1" width="16.7" height="35.9" fill="#7d7d7d"/><rect x="568.1" y="637.1" width="16.7" height="35.9" fill="#7d7d7d"/><rect x="584.8" y="637.1" width="40.2" height="35.9" fill="#7d7d7d"/><rect x="408.6" y="620.5" width="65.3" height="16.6" fill="#a1a1a1"/><rect x="473.8" y="620.5" width="33.4" height="16.6" fill="#949494"/><rect x="507.1" y="620.5" width="8.4" height="16.6" fill="#7d7d7d"/><rect x="515.4" y="620.5" width="36.2" height="16.6" fill="#8b8b8b"/><rect x="551.5" y="620.5" width="16.7" height="16.6" fill="#949494"/><rect x="568.1" y="620.5" width="16.7" height="16.6" fill="#7d7d7d"/><rect x="584.8" y="620.5" width="40.2" height="16.6" fill="#797979"/><rect x="408.6" y="604.0" width="65.3" height="16.6" fill="#7d7d7d"/><rect x="473.8" y="604.0" width="33.4" height="16.6" fill="#7d7d7d"/><rect x="507.1" y="604.0" width="8.4" height="16.6" fill="#7d7d7d"/><rect x="515.4" y="604.0" width="36.2" height="16.6" fill="#7d7d7d"/><rect x="551.5" y="604.0" width="16.7" height="16.6" fill="#7d7d7d"/><rect x="568.1" y="604.0" width="16.7" height="16.6" fill="#7d7d7d"/><rect x="584.8" y="604.0" width="40.2" height="16.6" fill="#7d7d7d"/><rect x="408.6" y="564.2" width="65.3" height="39.9" fill="#909090"/><rect x="473.8" y="564.2" width="33.4" height="39.9" fill="#898989"/><rect x="507.1" y="564.2" width="8.4" height="39.9" fill="#585858"/><rect x="515.4" y="564.2" width="36.2" height="39.9" fill="#7d7d7d"/><rect x="551.5" y="564.2" width="16.7" height="39.9" fill="#727272"/><rect x="568.1" y="564.2" width="16.7" height="39.9" fill="#7d7d7d"/><rect x="584.8" y="564.2" width="40.2" height="39.9" fill="#4f4f4f"/></g>
<g style="mix-blend-mode:lighten"><path d="M408.6 778.9L624.9 564.3" stroke="#191919" stroke-width="1.6" fill="none"/><path d="M454.4 733.5L475.2 712.8" stroke="#2e2e2e" stroke-width="1.4" stroke-linecap="round" fill="none"/><path d="M475.2 712.8L490.5 697.7" stroke="#3f3f3f" stroke-width="2.0" stroke-linecap="round" fill="none"/><ellipse cx="424.7" cy="762.9" rx="1.4" ry="1.4" fill="#5b5b5b"/><ellipse cx="440" cy="747.8" rx="1.4" ry="1.4" fill="#616161"/><ellipse cx="442.5" cy="745.3" rx="1.4" ry="1.4" fill="#676767"/><ellipse cx="442.5" cy="747.8" rx="1.4" ry="1.4" fill="#5b5b5b"/><ellipse cx="440" cy="745.3" rx="1.4" ry="1.4" fill="#5b5b5b"/><ellipse cx="485.2" cy="702.9" rx="1.4" ry="1.4" fill="#616161"/></g>
</g></g>
<path d="M486.8 564.3V778.9" stroke="#23a046" stroke-width="1.5" fill="none"/>
<path d="M507.7 564.3V778.9" stroke="#e3203a" stroke-width="1.7" fill="none"/>
<path d="M515.7 564.3V778.9" stroke="#f4e01c" stroke-width="1.8" fill="none"/>
<path d="M549.8 564.3V778.9" stroke="#e3203a" stroke-width="1.7" fill="none"/>
<path d="M566.5 564.3V778.9" stroke="#f4e01c" stroke-width="1.8" fill="none"/>
<path d="M582.5 564.3V778.9" stroke="#23a046" stroke-width="1.5" fill="none"/>
<path d="M408.6 605.1H624.9" stroke="#23a046" stroke-width="1.5" fill="none"/>
<path d="M408.6 621H624.9" stroke="#f4e01c" stroke-width="1.8" fill="none"/>
<path d="M408.6 637.5H624.9" stroke="#e3203a" stroke-width="1.7" fill="none"/>
<path d="M408.6 672.9H624.9" stroke="#f4e01c" stroke-width="1.8" fill="none"/>
<path d="M408.6 680.7H624.9" stroke="#e3203a" stroke-width="1.7" fill="none"/>
<path d="M408.6 702H624.9" stroke="#23a046" stroke-width="1.5" fill="none"/>
<path d="M408.6 564.3H625.8" stroke="#f4e01c" stroke-width="2.4" fill="none"/>
<path d="M624.9 564.3V778.9" stroke="#f4e01c" stroke-width="1.7" fill="none"/>
<rect x="633.1" y="564" width="8.5" height="215.0" fill="url(#cb)"/>
<text x="645.6" y="567.2" font-size="8.2">0.0054</text>
<path d="M641.6 564.5h2" stroke="#888" stroke-width="0.6"/>
<text x="645.6" y="588.7" font-size="8.2">0.0048</text>
<path d="M641.6 586h2" stroke="#888" stroke-width="0.6"/>
<text x="645.6" y="610.1" font-size="8.2">0.0043</text>
<path d="M641.6 607.4h2" stroke="#888" stroke-width="0.6"/>
<text x="645.6" y="631.6" font-size="8.2">0.0037</text>
<path d="M641.6 628.9h2" stroke="#888" stroke-width="0.6"/>
<text x="645.6" y="653" font-size="8.2">0.0032</text>
<path d="M641.6 650.3h2" stroke="#888" stroke-width="0.6"/>
<text x="645.6" y="674.5" font-size="8.2">0.0027</text>
<path d="M641.6 671.8h2" stroke="#888" stroke-width="0.6"/>
<text x="645.6" y="695.9" font-size="8.2">0.0021</text>
<path d="M641.6 693.2h2" stroke="#888" stroke-width="0.6"/>
<text x="645.6" y="717.4" font-size="8.2">0.0016</text>
<path d="M641.6 714.6h2" stroke="#888" stroke-width="0.6"/>
<text x="645.6" y="738.8" font-size="8.2">0.0011</text>
<path d="M641.6 736.1h2" stroke="#888" stroke-width="0.6"/>
<text x="645.6" y="760.3" font-size="8.2">0.0005</text>
<path d="M641.6 757.5h2" stroke="#888" stroke-width="0.6"/>
<text x="645.6" y="781.7" font-size="8.2">0.0000</text>
<path d="M641.6 779h2" stroke="#888" stroke-width="0.6"/>
<g filter="url(#tb)">
<text x="404.2" y="582.7" font-size="7.7" text-anchor="end">73</text>
<text x="404.2" y="605.3" font-size="7.7" text-anchor="end">65</text>
<text x="404.2" y="626" font-size="7.7" text-anchor="end">57</text>
<text x="404.2" y="648.2" font-size="7.7" text-anchor="end">49</text>
<text x="404.2" y="670.9" font-size="7.7" text-anchor="end">41</text>
<text x="404.2" y="693.6" font-size="7.7" text-anchor="end">33</text>
<text x="404.2" y="715.6" font-size="7.7" text-anchor="end">25</text>
<text x="404.2" y="736.9" font-size="7.7" text-anchor="end">17</text>
<text x="404.2" y="758.5" font-size="7.7" text-anchor="end">9</text>
<text x="404.2" y="781.2" font-size="7.7" text-anchor="end">1</text>
<text x="408.6" y="788.2" font-size="7.7" text-anchor="middle">1</text>
<text x="430.8" y="788.2" font-size="7.7" text-anchor="middle">9</text>
<text x="453" y="788.2" font-size="7.7" text-anchor="middle">17</text>
<text x="475.2" y="788.2" font-size="7.7" text-anchor="middle">25</text>
<text x="497.4" y="788.2" font-size="7.7" text-anchor="middle">33</text>
<text x="519.6" y="788.2" font-size="7.7" text-anchor="middle">41</text>
<text x="541.8" y="788.2" font-size="7.7" text-anchor="middle">49</text>
<text x="564" y="788.2" font-size="7.7" text-anchor="middle">57</text>
<text x="586.2" y="788.2" font-size="7.7" text-anchor="middle">65</text>
<text x="608.4" y="788.2" font-size="7.7" text-anchor="middle">73</text>
<text x="387.7" y="572.5" font-size="12.5" text-anchor="middle">A</text>
<text x="387.7" y="607" font-size="11.9" text-anchor="middle" font-style="italic">π</text>
<text x="387.7" y="629.8" font-size="12.5" text-anchor="middle">A</text>
<text x="387.7" y="658.7" font-size="12.5" text-anchor="middle">D</text>
<text x="387.7" y="678.3" font-size="12.5" text-anchor="middle">A</text>
<text x="387.7" y="700.3" font-size="12.5" text-anchor="middle">D</text>
<text x="387.7" y="721.4" font-size="11.9" text-anchor="middle" font-style="italic">π</text>
<text x="473.8" y="799" font-size="11.9" text-anchor="middle" font-style="italic">π</text>
<text x="501.9" y="803.8" font-size="12.5" text-anchor="middle">D</text>
<text x="519.5" y="803.8" font-size="12.5" text-anchor="middle">A</text>
<text x="545.4" y="803.8" font-size="12.5" text-anchor="middle">D</text>
<text x="563.2" y="803.8" font-size="12.5" text-anchor="middle">A</text>
<text x="585.1" y="799.3" font-size="11.9" text-anchor="middle" font-style="italic">π</text>
<text x="617" y="803.8" font-size="12.5" text-anchor="middle">A</text>
<text x="525.5" y="829.4" font-size="16.5" text-anchor="middle">AO4</text>
<path d="M408.6 580.2h-2M408.6 602.8h-2M408.6 623.5h-2M408.6 645.7h-2M408.6 668.4h-2M408.6 691.1h-2M408.6 713.1h-2M408.6 734.4h-2M408.6 756h-2M408.6 778.7h-2M408.6 778.9v2M408.6 563.1v-2.5M430.8 778.9v2M430.8 563.1v-2.5M453 778.9v2M453 563.1v-2.5M475.2 778.9v2M475.2 563.1v-2.5M497.4 778.9v2M497.4 563.1v-2.5M519.6 778.9v2M519.6 563.1v-2.5M541.8 778.9v2M541.8 563.1v-2.5M564 778.9v2M564 563.1v-2.5M586.2 778.9v2M586.2 563.1v-2.5M608.4 778.9v2M608.4 563.1v-2.5M626.1 580.2h2.5M626.1 602.8h2.5M626.1 623.5h2.5M626.1 645.7h2.5M626.1 668.4h2.5M626.1 691.1h2.5M626.1 713.1h2.5M626.1 734.4h2.5M626.1 756h2.5M626.1 778.7h2.5" stroke="#777" stroke-width="0.6"/>
</g>
</g>
<g>
<defs><clipPath id="c5"><rect x="31.5" y="846.7" width="243.10000000000002" height="242.89999999999986"/></clipPath><linearGradient id="gc5" gradientUnits="userSpaceOnUse" x1="31.5" y1="0" x2="274.6" y2="0"><stop offset=".000" stop-color="#727272"/><stop offset=".006" stop-color="#565656"/><stop offset=".013" stop-color="#a1a1a1"/><stop offset=".019" stop-color="#c6c6c6"/><stop offset=".026" stop-color="#a1a1a1"/><stop offset=".032" stop-color="#565656"/><stop offset=".039" stop-color="#6c6c6c"/><stop offset=".045" stop-color="#858585"/><stop offset=".051" stop-color="#616161"/><stop offset=".058" stop-color="#9f9f9f"/><stop offset=".064" stop-color="#a6a6a6"/><stop offset=".071" stop-color="#f0f0f0"/><stop offset=".077" stop-color="#e7e7e7"/><stop offset=".083" stop-color="#929292"/><stop offset=".090" stop-color="#7f7f7f"/><stop offset=".096" stop-color="#888888"/><stop offset=".103" stop-color="#7c7c7c"/><stop offset=".109" stop-color="#d7d7d7"/><stop offset=".116" stop-color="#e2e2e2"/><stop offset=".122" stop-color="#909090"/><stop offset=".128" stop-color="#848484"/><stop offset=".135" stop-color="#7b7b7b"/><stop offset=".141" stop-color="#cccccc"/><stop offset=".148" stop-color="#d9d9d9"/><stop offset=".154" stop-color="#d9d9d9"/><stop offset=".161" stop-color="#cccccc"/><stop offset=".167" stop-color="#676767"/><stop offset=".173" stop-color="#a5a5a5"/><stop offset=".180" stop-color="#adadad"/><stop offset=".186" stop-color="#6e6e6e"/><stop offset=".193" stop-color="#7f7f7f"/><stop offset=".199" stop-color="#888888"/><stop offset=".206" stop-color="#a1a1a1"/><stop offset=".212" stop-color="#c6c6c6"/><stop offset=".218" stop-color="#a1a1a1"/><stop offset=".225" stop-color="#8a8a8a"/><stop offset=".231" stop-color="#6f6f6f"/><stop offset=".238" stop-color="#b5b5b5"/><stop offset=".244" stop-color="#bebebe"/><stop offset=".250" stop-color="#797979"/><stop offset=".257" stop-color="#636363"/><stop offset=".263" stop-color="#454545"/><stop offset=".270" stop-color="#282828"/><stop offset=".276" stop-color="#313131"/><stop offset=".283" stop-color="#323232"/><stop offset=".289" stop-color="#2a2a2a"/><stop offset=".295" stop-color="#303030"/><stop offset=".302" stop-color="#393939"/><stop offset=".308" stop-color="#909090"/><stop offset=".315" stop-color="#b2b2b2"/><stop offset=".321" stop-color="#6c6c6c"/><stop offset=".328" stop-color="#b2b2b2"/><stop offset=".334" stop-color="#909090"/><stop offset=".340" stop-color="#6c6c6c"/><stop offset=".347" stop-color="#b2b2b2"/><stop offset=".353" stop-color="#909090"/><stop offset=".360" stop-color="#6b6b6b"/><stop offset=".366" stop-color="#979797"/><stop offset=".373" stop-color="#6a6a6a"/><stop offset=".379" stop-color="#c8c8c8"/><stop offset=".385" stop-color="#e9e9e9"/><stop offset=".392" stop-color="#a4a4a4"/><stop offset=".398" stop-color="#848484"/><stop offset=".405" stop-color="#7b7b7b"/><stop offset=".411" stop-color="#3e3e3e"/><stop offset=".417" stop-color="#585858"/><stop offset=".424" stop-color="#3e3e3e"/><stop offset=".430" stop-color="#343434"/><stop offset=".437" stop-color="#393939"/><stop offset=".443" stop-color="#343434"/><stop offset=".450" stop-color="#272727"/><stop offset=".456" stop-color="#1b1b1b"/><stop offset=".462" stop-color="#5e5e5e"/><stop offset=".469" stop-color="#c7c7c7"/><stop offset=".475" stop-color="#ffffff"/><stop offset=".482" stop-color="#c7c7c7"/><stop offset=".488" stop-color="#5e5e5e"/><stop offset=".495" stop-color="#1b1b1b"/><stop offset=".501" stop-color="#191919"/><stop offset=".507" stop-color="#2b2b2b"/><stop offset=".514" stop-color="#333333"/><stop offset=".520" stop-color="#2b2b2b"/><stop offset=".527" stop-color="#191919"/><stop offset=".533" stop-color="#0e0e0e"/><stop offset=".539" stop-color="#222222"/><stop offset=".546" stop-color="#393939"/><stop offset=".552" stop-color="#434343"/><stop offset=".559" stop-color="#393939"/><stop offset=".565" stop-color="#222222"/><stop offset=".572" stop-color="#0f0f0f"/><stop offset=".578" stop-color="#242424"/><stop offset=".584" stop-color="#3d3d3d"/><stop offset=".591" stop-color="#484848"/><stop offset=".597" stop-color="#3d3d3d"/><stop offset=".604" stop-color="#353535"/><stop offset=".610" stop-color="#3e3e3e"/><stop offset=".617" stop-color="#353535"/><stop offset=".623" stop-color="#1f1f1f"/><stop offset=".629" stop-color="#2b2b2b"/><stop offset=".636" stop-color="#333333"/><stop offset=".642" stop-color="#2b2b2b"/><stop offset=".649" stop-color="#191919"/><stop offset=".655" stop-color="#0b0b0b"/><stop offset=".662" stop-color="#242424"/><stop offset=".668" stop-color="#717171"/><stop offset=".674" stop-color="#d9d9d9"/><stop offset=".681" stop-color="#fcfcfc"/><stop offset=".687" stop-color="#b2b2b2"/><stop offset=".694" stop-color="#646464"/><stop offset=".700" stop-color="#adadad"/><stop offset=".706" stop-color="#b6b6b6"/><stop offset=".713" stop-color="#747474"/><stop offset=".719" stop-color="#868686"/><stop offset=".726" stop-color="#808080"/><stop offset=".732" stop-color="#4a4a4a"/><stop offset=".739" stop-color="#1c1c1c"/><stop offset=".751" stop-color="#232323"/><stop offset=".764" stop-color="#232323"/><stop offset=".777" stop-color="#1c1c1c"/><stop offset=".784" stop-color="#171717"/><stop offset=".790" stop-color="#151515"/><stop offset=".796" stop-color="#1a1a1a"/><stop offset=".803" stop-color="#202020"/><stop offset=".809" stop-color="#272727"/><stop offset=".816" stop-color="#2f2f2f"/><stop offset=".822" stop-color="#373737"/><stop offset=".829" stop-color="#464646"/><stop offset=".835" stop-color="#868686"/><stop offset=".841" stop-color="#9c9c9c"/><stop offset=".848" stop-color="#6e6e6e"/><stop offset=".854" stop-color="#5b5b5b"/><stop offset=".861" stop-color="#8f8f8f"/><stop offset=".867" stop-color="#888888"/><stop offset=".873" stop-color="#636363"/><stop offset=".880" stop-color="#868686"/><stop offset=".886" stop-color="#9c9c9c"/><stop offset=".893" stop-color="#6e6e6e"/><stop offset=".899" stop-color="#747474"/><stop offset=".906" stop-color="#959595"/><stop offset=".912" stop-color="#747474"/><stop offset=".918" stop-color="#3f3f3f"/><stop offset=".925" stop-color="#373737"/><stop offset=".931" stop-color="#2f2f2f"/><stop offset=".938" stop-color="#272727"/><stop offset=".944" stop-color="#202020"/><stop offset=".951" stop-color="#1a1a1a"/><stop offset=".957" stop-color="#151515"/><stop offset=".963" stop-color="#101010"/><stop offset=".976" stop-color="#090909"/><stop offset="1.000" stop-color="#030303"/></linearGradient><linearGradient id="gr5" gradientUnits="userSpaceOnUse" x1="0" y1="1089.6" x2="0" y2="846.7"><stop offset=".000" stop-color="#727272"/><stop offset=".006" stop-color="#565656"/><stop offset=".013" stop-color="#a1a1a1"/><stop offset=".019" stop-color="#c6c6c6"/><stop offset=".026" stop-color="#a1a1a1"/><stop offset=".032" stop-color="#565656"/><stop offset=".039" stop-color="#6c6c6c"/><stop offset=".045" stop-color="#858585"/><stop offset=".051" stop-color="#616161"/><stop offset=".058" stop-color="#9f9f9f"/><stop offset=".064" stop-color="#a6a6a6"/><stop offset=".071" stop-color="#f0f0f0"/><stop offset=".077" stop-color="#e7e7e7"/><stop offset=".083" stop-color="#929292"/><stop offset=".090" stop-color="#7f7f7f"/><stop offset=".096" stop-color="#888888"/><stop offset=".103" stop-color="#7c7c7c"/><stop offset=".109" stop-color="#d7d7d7"/><stop offset=".116" stop-color="#e2e2e2"/><stop offset=".122" stop-color="#909090"/><stop offset=".128" stop-color="#848484"/><stop offset=".135" stop-color="#7b7b7b"/><stop offset=".141" stop-color="#cccccc"/><stop offset=".148" stop-color="#d9d9d9"/><stop offset=".154" stop-color="#d9d9d9"/><stop offset=".161" stop-color="#cccccc"/><stop offset=".167" stop-color="#676767"/><stop offset=".173" stop-color="#a5a5a5"/><stop offset=".180" stop-color="#adadad"/><stop offset=".186" stop-color="#6e6e6e"/><stop offset=".193" stop-color="#7f7f7f"/><stop offset=".199" stop-color="#888888"/><stop offset=".206" stop-color="#a1a1a1"/><stop offset=".212" stop-color="#c6c6c6"/><stop offset=".218" stop-color="#a1a1a1"/><stop offset=".225" stop-color="#8a8a8a"/><stop offset=".231" stop-color="#6f6f6f"/><stop offset=".238" stop-color="#b5b5b5"/><stop offset=".244" stop-color="#bebebe"/><stop offset=".250" stop-color="#797979"/><stop offset=".257" stop-color="#636363"/><stop offset=".263" stop-color="#454545"/><stop offset=".270" stop-color="#282828"/><stop offset=".276" stop-color="#313131"/><stop offset=".283" stop-color="#323232"/><stop offset=".289" stop-color="#2c2c2c"/><stop offset=".295" stop-color="#353535"/><stop offset=".302" stop-color="#3f3f3f"/><stop offset=".308" stop-color="#858585"/><stop offset=".315" stop-color="#8f8f8f"/><stop offset=".321" stop-color="#6c6c6c"/><stop offset=".328" stop-color="#b2b2b2"/><stop offset=".334" stop-color="#909090"/><stop offset=".340" stop-color="#7f7f7f"/><stop offset=".347" stop-color="#b4b4b4"/><stop offset=".353" stop-color="#7f7f7f"/><stop offset=".360" stop-color="#767676"/><stop offset=".366" stop-color="#8c8c8c"/><stop offset=".373" stop-color="#6d6d6d"/><stop offset=".379" stop-color="#c6c6c6"/><stop offset=".385" stop-color="#f5f5f5"/><stop offset=".392" stop-color="#959595"/><stop offset=".398" stop-color="#787878"/><stop offset=".405" stop-color="#707070"/><stop offset=".411" stop-color="#393939"/><stop offset=".417" stop-color="#515151"/><stop offset=".424" stop-color="#393939"/><stop offset=".430" stop-color="#343434"/><stop offset=".437" stop-color="#393939"/><stop offset=".443" stop-color="#343434"/><stop offset=".450" stop-color="#272727"/><stop offset=".456" stop-color="#353535"/><stop offset=".462" stop-color="#7f7f7f"/><stop offset=".469" stop-color="#d6d6d6"/><stop offset=".475" stop-color="#ffffff"/><stop offset=".482" stop-color="#d6d6d6"/><stop offset=".488" stop-color="#7f7f7f"/><stop offset=".495" stop-color="#353535"/><stop offset=".501" stop-color="#191919"/><stop offset=".507" stop-color="#2b2b2b"/><stop offset=".514" stop-color="#333333"/><stop offset=".520" stop-color="#2b2b2b"/><stop offset=".527" stop-color="#191919"/><stop offset=".533" stop-color="#0e0e0e"/><stop offset=".539" stop-color="#222222"/><stop offset=".546" stop-color="#393939"/><stop offset=".552" stop-color="#434343"/><stop offset=".559" stop-color="#393939"/><stop offset=".565" stop-color="#222222"/><stop offset=".572" stop-color="#0f0f0f"/><stop offset=".578" stop-color="#242424"/><stop offset=".584" stop-color="#3d3d3d"/><stop offset=".591" stop-color="#484848"/><stop offset=".597" stop-color="#3d3d3d"/><stop offset=".604" stop-color="#353535"/><stop offset=".610" stop-color="#3e3e3e"/><stop offset=".617" stop-color="#353535"/><stop offset=".623" stop-color="#1f1f1f"/><stop offset=".629" stop-color="#2b2b2b"/><stop offset=".636" stop-color="#333333"/><stop offset=".642" stop-color="#2b2b2b"/><stop offset=".649" stop-color="#191919"/><stop offset=".655" stop-color="#151515"/><stop offset=".662" stop-color="#414141"/><stop offset=".668" stop-color="#919191"/><stop offset=".674" stop-color="#e4e4e4"/><stop offset=".681" stop-color="#fdfdfd"/><stop offset=".687" stop-color="#c7c7c7"/><stop offset=".694" stop-color="#6e6e6e"/><stop offset=".700" stop-color="#adadad"/><stop offset=".706" stop-color="#b6b6b6"/><stop offset=".713" stop-color="#747474"/><stop offset=".719" stop-color="#868686"/><stop offset=".726" stop-color="#808080"/><stop offset=".732" stop-color="#4a4a4a"/><stop offset=".739" stop-color="#1c1c1c"/><stop offset=".751" stop-color="#232323"/><stop offset=".764" stop-color="#232323"/><stop offset=".777" stop-color="#1c1c1c"/><stop offset=".784" stop-color="#171717"/><stop offset=".790" stop-color="#181818"/><stop offset=".796" stop-color="#1e1e1e"/><stop offset=".803" stop-color="#252525"/><stop offset=".809" stop-color="#2d2d2d"/><stop offset=".816" stop-color="#363636"/><stop offset=".822" stop-color="#3f3f3f"/><stop offset=".829" stop-color="#505050"/><stop offset=".835" stop-color="#9a9a9a"/><stop offset=".841" stop-color="#b3b3b3"/><stop offset=".848" stop-color="#7e7e7e"/><stop offset=".854" stop-color="#696969"/><stop offset=".861" stop-color="#a4a4a4"/><stop offset=".867" stop-color="#9c9c9c"/><stop offset=".873" stop-color="#727272"/><stop offset=".880" stop-color="#9a9a9a"/><stop offset=".886" stop-color="#b3b3b3"/><stop offset=".893" stop-color="#7e7e7e"/><stop offset=".899" stop-color="#858585"/><stop offset=".906" stop-color="#ababab"/><stop offset=".912" stop-color="#858585"/><stop offset=".918" stop-color="#484848"/><stop offset=".925" stop-color="#3f3f3f"/><stop offset=".931" stop-color="#363636"/><stop offset=".938" stop-color="#2d2d2d"/><stop offset=".944" stop-color="#252525"/><stop offset=".951" stop-color="#1e1e1e"/><stop offset=".957" stop-color="#181818"/><stop offset=".963" stop-color="#131313"/><stop offset=".970" stop-color="#0e0e0e"/><stop offset=".983" stop-color="#080808"/><stop offset="1.000" stop-color="#030303"/></linearGradient><linearGradient id="gd5" x1="0" y1="0" x2="1" y2="1"><stop offset="0.000" stop-color="#6b6b6b"/><stop offset="0.287" stop-color="#6b6b6b"/><stop offset="0.404" stop-color="#7f7f7f"/><stop offset="0.500" stop-color="#8b8b8b"/><stop offset="0.596" stop-color="#7f7f7f"/><stop offset="0.713" stop-color="#6b6b6b"/><stop offset="1.000" stop-color="#6b6b6b"/></linearGradient></defs>
<g clip-path="url(#c5)"><g filter="url(#cm)">
<rect x="25.5" y="840.7" width="255.1" height="254.9" fill="#000"/>
<rect x="31.5" y="846.7" width="243.1" height="242.9" fill="url(#gc5)"/>
<rect x="31.5" y="846.7" width="243.1" height="242.9" fill="url(#gr5)" style="mix-blend-mode:multiply"/>
<g style="mix-blend-mode:multiply"><rect x="31.4" y="1016.2" width="73.5" height="73.4" fill="url(#gd5)"/><rect x="104.8" y="1016.2" width="37.6" height="73.4" fill="#838383"/><rect x="142.3" y="1016.2" width="9.5" height="73.4" fill="#a9a9a9"/><rect x="151.7" y="1016.2" width="40.7" height="73.4" fill="#8b8b8b"/><rect x="192.3" y="1016.2" width="18.8" height="73.4" fill="#9b9b9b"/><rect x="211.0" y="1016.2" width="18.8" height="73.4" fill="#7d7d7d"/><rect x="229.7" y="1016.2" width="44.9" height="73.4" fill="#898989"/><rect x="31.4" y="978.8" width="73.5" height="37.5" fill="#8d8d8d"/><rect x="104.8" y="978.8" width="37.6" height="37.5" fill="#949494"/><rect x="142.3" y="978.8" width="9.5" height="37.5" fill="#a1a1a1"/><rect x="151.7" y="978.8" width="40.7" height="37.5" fill="#8b8b8b"/><rect x="192.3" y="978.8" width="18.8" height="37.5" fill="#909090"/><rect x="211.0" y="978.8" width="18.8" height="37.5" fill="#7d7d7d"/><rect x="229.7" y="978.8" width="44.9" height="37.5" fill="#858585"/><rect x="31.4" y="969.4" width="73.5" height="9.5" fill="#b1b1b1"/><rect x="104.8" y="969.4" width="37.6" height="9.5" fill="#a1a1a1"/><rect x="142.3" y="969.4" width="9.5" height="9.5" fill="#727272"/><rect x="151.7" y="969.4" width="40.7" height="9.5" fill="#8b8b8b"/><rect x="192.3" y="969.4" width="18.8" height="9.5" fill="#818181"/><rect x="211.0" y="969.4" width="18.8" height="9.5" fill="#7d7d7d"/><rect x="229.7" y="969.4" width="44.9" height="9.5" fill="#727272"/><rect x="31.4" y="928.9" width="73.5" height="40.7" fill="#8b8b8b"/><rect x="104.8" y="928.9" width="37.6" height="40.7" fill="#8b8b8b"/><rect x="142.3" y="928.9" width="9.5" height="40.7" fill="#7d7d7d"/><rect x="151.7" y="928.9" width="40.7" height="40.7" fill="#8b8b8b"/><rect x="192.3" y="928.9" width="18.8" height="40.7" fill="#7d7d7d"/><rect x="211.0" y="928.9" width="18.8" height="40.7" fill="#7d7d7d"/><rect x="229.7" y="928.9" width="44.9" height="40.7" fill="#7d7d7d"/><rect x="31.4" y="910.1" width="73.5" height="18.8" fill="#a1a1a1"/><rect x="104.8" y="910.1" width="37.6" height="18.8" fill="#949494"/><rect x="142.3" y="910.1" width="9.5" height="18.8" fill="#7d7d7d"/><rect x="151.7" y="910.1" width="40.7" height="18.8" fill="#8b8b8b"/><rect x="192.3" y="910.1" width="18.8" height="18.8" fill="#949494"/><rect x="211.0" y="910.1" width="18.8" height="18.8" fill="#7d7d7d"/><rect x="229.7" y="910.1" width="44.9" height="18.8" fill="#797979"/><rect x="31.4" y="891.4" width="73.5" height="18.8" fill="#7d7d7d"/><rect x="104.8" y="891.4" width="37.6" height="18.8" fill="#7d7d7d"/><rect x="142.3" y="891.4" width="9.5" height="18.8" fill="#7d7d7d"/><rect x="151.7" y="891.4" width="40.7" height="18.8" fill="#7d7d7d"/><rect x="192.3" y="891.4" width="18.8" height="18.8" fill="#7d7d7d"/><rect x="211.0" y="891.4" width="18.8" height="18.8" fill="#7d7d7d"/><rect x="229.7" y="891.4" width="44.9" height="18.8" fill="#7d7d7d"/><rect x="31.4" y="846.7" width="73.5" height="44.9" fill="#909090"/><rect x="104.8" y="846.7" width="37.6" height="44.9" fill="#898989"/><rect x="142.3" y="846.7" width="9.5" height="44.9" fill="#585858"/><rect x="151.7" y="846.7" width="40.7" height="44.9" fill="#7d7d7d"/><rect x="192.3" y="846.7" width="18.8" height="44.9" fill="#727272"/><rect x="211.0" y="846.7" width="18.8" height="44.9" fill="#7d7d7d"/><rect x="229.7" y="846.7" width="44.9" height="44.9" fill="#4f4f4f"/></g>
<g style="mix-blend-mode:lighten"><path d="M31.5 1089.6L274.6 846.7" stroke="#191919" stroke-width="1.6" fill="none"/><path d="M83 1038.1L106.4 1014.7" stroke="#2e2e2e" stroke-width="1.4" stroke-linecap="round" fill="none"/><path d="M106.4 1014.7L123.6 997.6" stroke="#3f3f3f" stroke-width="2.0" stroke-linecap="round" fill="none"/><ellipse cx="49.6" cy="1071.5" rx="1.6" ry="1.6" fill="#5b5b5b"/><ellipse cx="66.8" cy="1054.3" rx="1.6" ry="1.6" fill="#616161"/><ellipse cx="69.6" cy="1051.5" rx="1.6" ry="1.6" fill="#676767"/><ellipse cx="69.6" cy="1054.3" rx="1.6" ry="1.6" fill="#5b5b5b"/><ellipse cx="66.8" cy="1051.5" rx="1.6" ry="1.6" fill="#5b5b5b"/><ellipse cx="117.7" cy="1003.5" rx="1.6" ry="1.6" fill="#616161"/></g>
</g></g>
<path d="M117.5 846.7V1089.6" stroke="#23a046" stroke-width="1.5" fill="none"/>
<path d="M143.3 846.7V1089.6" stroke="#e3203a" stroke-width="1.7" fill="none"/>
<path d="M151.3 846.7V1089.6" stroke="#f4e01c" stroke-width="1.8" fill="none"/>
<path d="M191.5 846.7V1089.6" stroke="#e3203a" stroke-width="1.7" fill="none"/>
<path d="M209.8 846.7V1089.6" stroke="#f4e01c" stroke-width="1.8" fill="none"/>
<path d="M228 846.7V1089.6" stroke="#23a046" stroke-width="1.5" fill="none"/>
<path d="M31.5 893.2H274.6" stroke="#23a046" stroke-width="1.5" fill="none"/>
<path d="M31.5 911.1H274.6" stroke="#f4e01c" stroke-width="1.8" fill="none"/>
<path d="M31.5 929.9H274.6" stroke="#e3203a" stroke-width="1.7" fill="none"/>
<path d="M31.5 969.3H274.6" stroke="#f4e01c" stroke-width="1.8" fill="none"/>
<path d="M31.5 978.3H274.6" stroke="#e3203a" stroke-width="1.7" fill="none"/>
<path d="M31.5 1003.8H274.6" stroke="#23a046" stroke-width="1.5" fill="none"/>
<path d="M31.5 846.7H275.5" stroke="#f4e01c" stroke-width="2.4" fill="none"/>
<path d="M274.6 846.7V1089.6" stroke="#f4e01c" stroke-width="1.8" fill="none"/>
<rect x="285.1" y="847" width="9.0" height="242.0" fill="url(#cb)"/>
<text x="298.5" y="850" font-size="9">0.0058</text>
<path d="M294.1 847h2" stroke="#888" stroke-width="0.6"/>
<text x="298.5" y="874.2" font-size="9">0.0053</text>
<path d="M294.1 871.2h2" stroke="#888" stroke-width="0.6"/>
<text x="298.5" y="898.4" font-size="9">0.0047</text>
<path d="M294.1 895.4h2" stroke="#888" stroke-width="0.6"/>
<text x="298.5" y="922.6" font-size="9">0.0041</text>
<path d="M294.1 919.6h2" stroke="#888" stroke-width="0.6"/>
<text x="298.5" y="946.8" font-size="9">0.0035</text>
<path d="M294.1 943.8h2" stroke="#888" stroke-width="0.6"/>
<text x="298.5" y="971" font-size="9">0.0029</text>
<path d="M294.1 968h2" stroke="#888" stroke-width="0.6"/>
<text x="298.5" y="995.2" font-size="9">0.0023</text>
<path d="M294.1 992.2h2" stroke="#888" stroke-width="0.6"/>
<text x="298.5" y="1019.4" font-size="9">0.0018</text>
<path d="M294.1 1016.4h2" stroke="#888" stroke-width="0.6"/>
<text x="298.5" y="1043.6" font-size="9">0.0012</text>
<path d="M294.1 1040.6h2" stroke="#888" stroke-width="0.6"/>
<text x="298.5" y="1067.8" font-size="9">0.0006</text>
<path d="M294.1 1064.8h2" stroke="#888" stroke-width="0.6"/>
<text x="298.5" y="1092" font-size="9">0.0000</text>
<path d="M294.1 1089h2" stroke="#888" stroke-width="0.6"/>
<g filter="url(#tb)">
<text x="27.4" y="868" font-size="8.5" text-anchor="end">73</text>
<text x="27.4" y="891.8" font-size="8.5" text-anchor="end">65</text>
<text x="27.4" y="916.9" font-size="8.5" text-anchor="end">57</text>
<text x="27.4" y="941.8" font-size="8.5" text-anchor="end">49</text>
<text x="27.4" y="967.6" font-size="8.5" text-anchor="end">41</text>
<text x="27.4" y="991.8" font-size="8.5" text-anchor="end">33</text>
<text x="27.4" y="1017.3" font-size="8.5" text-anchor="end">25</text>
<text x="27.4" y="1042" font-size="8.5" text-anchor="end">17</text>
<text x="27.4" y="1066.9" font-size="8.5" text-anchor="end">9</text>
<text x="27.4" y="1091.3" font-size="8.5" text-anchor="end">1</text>
<text x="31.5" y="1098.8" font-size="8.5" text-anchor="middle">1</text>
<text x="56.5" y="1098.8" font-size="8.5" text-anchor="middle">9</text>
<text x="81.5" y="1098.8" font-size="8.5" text-anchor="middle">17</text>
<text x="106.4" y="1098.8" font-size="8.5" text-anchor="middle">25</text>
<text x="131.4" y="1098.8" font-size="8.5" text-anchor="middle">33</text>
<text x="156.4" y="1098.8" font-size="8.5" text-anchor="middle">41</text>
<text x="181.4" y="1098.8" font-size="8.5" text-anchor="middle">49</text>
<text x="206.4" y="1098.8" font-size="8.5" text-anchor="middle">57</text>
<text x="231.4" y="1098.8" font-size="8.5" text-anchor="middle">65</text>
<text x="256.3" y="1098.8" font-size="8.5" text-anchor="middle">73</text>
<text x="6.3" y="862.4" font-size="12.5" text-anchor="middle">A</text>
<text x="6.3" y="899.1" font-size="11.9" text-anchor="middle" font-style="italic">π</text>
<text x="6.3" y="921.7" font-size="12.5" text-anchor="middle">A</text>
<text x="6.3" y="945.6" font-size="12.5" text-anchor="middle">D</text>
<text x="6.3" y="974" font-size="12.5" text-anchor="middle">A</text>
<text x="6.3" y="999.1" font-size="12.5" text-anchor="middle">D</text>
<text x="6.3" y="1017.7" font-size="11.9" text-anchor="middle" font-style="italic">π</text>
<text x="110" y="1113.5" font-size="11.9" text-anchor="middle" font-style="italic">π</text>
<text x="130" y="1115.1" font-size="12.5" text-anchor="middle">D</text>
<text x="150" y="1115.1" font-size="12.5" text-anchor="middle">A</text>
<text x="186" y="1115.1" font-size="12.5" text-anchor="middle">D</text>
<text x="206" y="1115.1" font-size="12.5" text-anchor="middle">A</text>
<text x="229" y="1113.5" font-size="11.9" text-anchor="middle" font-style="italic">π</text>
<text x="266.5" y="1115.1" font-size="12.5" text-anchor="middle">A</text>
<text x="164.8" y="1139" font-size="16.5" text-anchor="middle">AO5</text>
<path d="M31.5 865.2h-2M31.5 889h-2M31.5 914.1h-2M31.5 939h-2M31.5 964.8h-2M31.5 989h-2M31.5 1014.5h-2M31.5 1039.2h-2M31.5 1064.1h-2M31.5 1088.5h-2M31.5 1089.6v2M31.5 845.5v-2.5M56.5 1089.6v2M56.5 845.5v-2.5M81.5 1089.6v2M81.5 845.5v-2.5M106.4 1089.6v2M106.4 845.5v-2.5M131.4 1089.6v2M131.4 845.5v-2.5M156.4 1089.6v2M156.4 845.5v-2.5M181.4 1089.6v2M181.4 845.5v-2.5M206.4 1089.6v2M206.4 845.5v-2.5M231.4 1089.6v2M231.4 845.5v-2.5M256.3 1089.6v2M256.3 845.5v-2.5M275.8 865.2h2.5M275.8 889h2.5M275.8 914.1h2.5M275.8 939h2.5M275.8 964.8h2.5M275.8 989h2.5M275.8 1014.5h2.5M275.8 1039.2h2.5M275.8 1064.1h2.5M275.8 1088.5h2.5" stroke="#777" stroke-width="0.6"/>
</g>
</g>
<g>
<defs><clipPath id="c6"><rect x="398.2" y="843.9" width="237.50000000000006" height="237.89999999999998"/></clipPath><linearGradient id="gc6" gradientUnits="userSpaceOnUse" x1="398.2" y1="0" x2="635.7" y2="0"><stop offset=".000" stop-color="#727272"/><stop offset=".007" stop-color="#565656"/><stop offset=".014" stop-color="#a1a1a1"/><stop offset=".020" stop-color="#c6c6c6"/><stop offset=".027" stop-color="#a1a1a1"/><stop offset=".034" stop-color="#565656"/><stop offset=".041" stop-color="#6c6c6c"/><stop offset=".048" stop-color="#858585"/><stop offset=".054" stop-color="#616161"/><stop offset=".061" stop-color="#9f9f9f"/><stop offset=".068" stop-color="#a6a6a6"/><stop offset=".075" stop-color="#f0f0f0"/><stop offset=".082" stop-color="#e7e7e7"/><stop offset=".088" stop-color="#929292"/><stop offset=".095" stop-color="#7f7f7f"/><stop offset=".102" stop-color="#888888"/><stop offset=".109" stop-color="#7c7c7c"/><stop offset=".116" stop-color="#d7d7d7"/><stop offset=".122" stop-color="#e2e2e2"/><stop offset=".129" stop-color="#909090"/><stop offset=".136" stop-color="#848484"/><stop offset=".143" stop-color="#7b7b7b"/><stop offset=".150" stop-color="#cccccc"/><stop offset=".156" stop-color="#d9d9d9"/><stop offset=".163" stop-color="#d9d9d9"/><stop offset=".170" stop-color="#cccccc"/><stop offset=".177" stop-color="#676767"/><stop offset=".184" stop-color="#a5a5a5"/><stop offset=".190" stop-color="#adadad"/><stop offset=".197" stop-color="#6e6e6e"/><stop offset=".204" stop-color="#7f7f7f"/><stop offset=".211" stop-color="#888888"/><stop offset=".218" stop-color="#a1a1a1"/><stop offset=".224" stop-color="#c6c6c6"/><stop offset=".231" stop-color="#a1a1a1"/><stop offset=".238" stop-color="#8a8a8a"/><stop offset=".245" stop-color="#6f6f6f"/><stop offset=".252" stop-color="#b5b5b5"/><stop offset=".258" stop-color="#bebebe"/><stop offset=".265" stop-color="#797979"/><stop offset=".272" stop-color="#636363"/><stop offset=".279" stop-color="#454545"/><stop offset=".286" stop-color="#282828"/><stop offset=".292" stop-color="#313131"/><stop offset=".299" stop-color="#323232"/><stop offset=".306" stop-color="#2a2a2a"/><stop offset=".313" stop-color="#303030"/><stop offset=".320" stop-color="#393939"/><stop offset=".326" stop-color="#909090"/><stop offset=".333" stop-color="#b2b2b2"/><stop offset=".340" stop-color="#6c6c6c"/><stop offset=".347" stop-color="#b2b2b2"/><stop offset=".354" stop-color="#909090"/><stop offset=".360" stop-color="#6c6c6c"/><stop offset=".367" stop-color="#b2b2b2"/><stop offset=".374" stop-color="#909090"/><stop offset=".381" stop-color="#6b6b6b"/><stop offset=".387" stop-color="#979797"/><stop offset=".394" stop-color="#6a6a6a"/><stop offset=".401" stop-color="#c8c8c8"/><stop offset=".408" stop-color="#e9e9e9"/><stop offset=".415" stop-color="#a4a4a4"/><stop offset=".421" stop-color="#848484"/><stop offset=".428" stop-color="#7b7b7b"/><stop offset=".435" stop-color="#3e3e3e"/><stop offset=".442" stop-color="#585858"/><stop offset=".449" stop-color="#3e3e3e"/><stop offset=".455" stop-color="#343434"/><stop offset=".462" stop-color="#393939"/><stop offset=".469" stop-color="#343434"/><stop offset=".476" stop-color="#272727"/><stop offset=".483" stop-color="#1b1b1b"/><stop offset=".489" stop-color="#5e5e5e"/><stop offset=".496" stop-color="#c7c7c7"/><stop offset=".503" stop-color="#ffffff"/><stop offset=".510" stop-color="#c7c7c7"/><stop offset=".517" stop-color="#5e5e5e"/><stop offset=".523" stop-color="#1b1b1b"/><stop offset=".530" stop-color="#191919"/><stop offset=".537" stop-color="#2b2b2b"/><stop offset=".544" stop-color="#333333"/><stop offset=".551" stop-color="#2b2b2b"/><stop offset=".557" stop-color="#191919"/><stop offset=".564" stop-color="#0e0e0e"/><stop offset=".571" stop-color="#222222"/><stop offset=".578" stop-color="#393939"/><stop offset=".585" stop-color="#434343"/><stop offset=".591" stop-color="#393939"/><stop offset=".598" stop-color="#222222"/><stop offset=".605" stop-color="#0f0f0f"/><stop offset=".612" stop-color="#242424"/><stop offset=".619" stop-color="#3d3d3d"/><stop offset=".625" stop-color="#484848"/><stop offset=".632" stop-color="#3d3d3d"/><stop offset=".639" stop-color="#353535"/><stop offset=".646" stop-color="#3e3e3e"/><stop offset=".653" stop-color="#353535"/><stop offset=".659" stop-color="#1f1f1f"/><stop offset=".666" stop-color="#2b2b2b"/><stop offset=".673" stop-color="#333333"/><stop offset=".680" stop-color="#2b2b2b"/><stop offset=".687" stop-color="#191919"/><stop offset=".693" stop-color="#0b0b0b"/><stop offset=".700" stop-color="#242424"/><stop offset=".707" stop-color="#717171"/><stop offset=".714" stop-color="#d9d9d9"/><stop offset=".721" stop-color="#fcfcfc"/><stop offset=".727" stop-color="#b2b2b2"/><stop offset=".734" stop-color="#646464"/><stop offset=".741" stop-color="#adadad"/><stop offset=".748" stop-color="#b6b6b6"/><stop offset=".755" stop-color="#747474"/><stop offset=".761" stop-color="#868686"/><stop offset=".768" stop-color="#808080"/><stop offset=".775" stop-color="#4a4a4a"/><stop offset=".782" stop-color="#1c1c1c"/><stop offset=".795" stop-color="#232323"/><stop offset=".809" stop-color="#232323"/><stop offset=".823" stop-color="#1c1c1c"/><stop offset=".829" stop-color="#171717"/><stop offset=".836" stop-color="#151515"/><stop offset=".843" stop-color="#1b1b1b"/><stop offset=".850" stop-color="#212121"/><stop offset=".857" stop-color="#282828"/><stop offset=".863" stop-color="#303030"/><stop offset=".870" stop-color="#383838"/><stop offset=".877" stop-color="#484848"/><stop offset=".884" stop-color="#898989"/><stop offset=".891" stop-color="#a0a0a0"/><stop offset=".897" stop-color="#717171"/><stop offset=".904" stop-color="#5e5e5e"/><stop offset=".911" stop-color="#939393"/><stop offset=".918" stop-color="#8c8c8c"/><stop offset=".925" stop-color="#666666"/><stop offset=".931" stop-color="#898989"/><stop offset=".938" stop-color="#a0a0a0"/><stop offset=".945" stop-color="#717171"/><stop offset=".952" stop-color="#777777"/><stop offset=".959" stop-color="#999999"/><stop offset=".965" stop-color="#777777"/><stop offset=".972" stop-color="#414141"/><stop offset=".979" stop-color="#383838"/><stop offset=".986" stop-color="#303030"/><stop offset=".993" stop-color="#282828"/><stop offset=".999" stop-color="#212121"/><stop offset="1.000" stop-color="#212121"/></linearGradient><linearGradient id="gr6" gradientUnits="userSpaceOnUse" x1="0" y1="1081.8" x2="0" y2="843.9"><stop offset=".000" stop-color="#727272"/><stop offset=".007" stop-color="#565656"/><stop offset=".014" stop-color="#a1a1a1"/><stop offset=".020" stop-color="#c6c6c6"/><stop offset=".027" stop-color="#a1a1a1"/><stop offset=".034" stop-color="#565656"/><stop offset=".041" stop-color="#6c6c6c"/><stop offset=".048" stop-color="#858585"/><stop offset=".054" stop-color="#616161"/><stop offset=".061" stop-color="#9f9f9f"/><stop offset=".068" stop-color="#a6a6a6"/><stop offset=".075" stop-color="#f0f0f0"/><stop offset=".082" stop-color="#e7e7e7"/><stop offset=".088" stop-color="#929292"/><stop offset=".095" stop-color="#7f7f7f"/><stop offset=".102" stop-color="#888888"/><stop offset=".109" stop-color="#7c7c7c"/><stop offset=".116" stop-color="#d7d7d7"/><stop offset=".122" stop-color="#e2e2e2"/><stop offset=".129" stop-color="#909090"/><stop offset=".136" stop-color="#848484"/><stop offset=".143" stop-color="#7b7b7b"/><stop offset=".150" stop-color="#cccccc"/><stop offset=".156" stop-color="#d9d9d9"/><stop offset=".163" stop-color="#d9d9d9"/><stop offset=".170" stop-color="#cccccc"/><stop offset=".177" stop-color="#676767"/><stop offset=".184" stop-color="#a5a5a5"/><stop offset=".190" stop-color="#adadad"/><stop offset=".197" stop-color="#6e6e6e"/><stop offset=".204" stop-color="#7f7f7f"/><stop offset=".211" stop-color="#888888"/><stop offset=".218" stop-color="#a1a1a1"/><stop offset=".224" stop-color="#c6c6c6"/><stop offset=".231" stop-color="#a1a1a1"/><stop offset=".238" stop-color="#8a8a8a"/><stop offset=".245" stop-color="#6f6f6f"/><stop offset=".252" stop-color="#b5b5b5"/><stop offset=".258" stop-color="#bebebe"/><stop offset=".265" stop-color="#797979"/><stop offset=".272" stop-color="#636363"/><stop offset=".279" stop-color="#454545"/><stop offset=".286" stop-color="#282828"/><stop offset=".292" stop-color="#313131"/><stop offset=".299" stop-color="#323232"/><stop offset=".306" stop-color="#2c2c2c"/><stop offset=".313" stop-color="#353535"/><stop offset=".320" stop-color="#3f3f3f"/><stop offset=".326" stop-color="#858585"/><stop offset=".333" stop-color="#8f8f8f"/><stop offset=".340" stop-color="#6c6c6c"/><stop offset=".347" stop-color="#b2b2b2"/><stop offset=".354" stop-color="#909090"/><stop offset=".360" stop-color="#7f7f7f"/><stop offset=".367" stop-color="#b4b4b4"/><stop offset=".374" stop-color="#7f7f7f"/><stop offset=".381" stop-color="#767676"/><stop offset=".387" stop-color="#8c8c8c"/><stop offset=".394" stop-color="#6d6d6d"/><stop offset=".401" stop-color="#c6c6c6"/><stop offset=".408" stop-color="#f5f5f5"/><stop offset=".415" stop-color="#959595"/><stop offset=".421" stop-color="#787878"/><stop offset=".428" stop-color="#707070"/><stop offset=".435" stop-color="#393939"/><stop offset=".442" stop-color="#515151"/><stop offset=".449" stop-color="#393939"/><stop offset=".455" stop-color="#343434"/><stop offset=".462" stop-color="#393939"/><stop offset=".469" stop-color="#343434"/><stop offset=".476" stop-color="#272727"/><stop offset=".483" stop-color="#353535"/><stop offset=".489" stop-color="#7f7f7f"/><stop offset=".496" stop-color="#d6d6d6"/><stop offset=".503" stop-color="#ffffff"/><stop offset=".510" stop-color="#d6d6d6"/><stop offset=".517" stop-color="#7f7f7f"/><stop offset=".523" stop-color="#353535"/><stop offset=".530" stop-color="#191919"/><stop offset=".537" stop-color="#2b2b2b"/><stop offset=".544" stop-color="#333333"/><stop offset=".551" stop-color="#2b2b2b"/><stop offset=".557" stop-color="#191919"/><stop offset=".564" stop-color="#0e0e0e"/><stop offset=".571" stop-color="#222222"/><stop offset=".578" stop-color="#393939"/><stop offset=".585" stop-color="#434343"/><stop offset=".591" stop-color="#393939"/><stop offset=".598" stop-color="#222222"/><stop offset=".605" stop-color="#0f0f0f"/><stop offset=".612" stop-color="#242424"/><stop offset=".619" stop-color="#3d3d3d"/><stop offset=".625" stop-color="#484848"/><stop offset=".632" stop-color="#3d3d3d"/><stop offset=".639" stop-color="#353535"/><stop offset=".646" stop-color="#3e3e3e"/><stop offset=".653" stop-color="#353535"/><stop offset=".659" stop-color="#1f1f1f"/><stop offset=".666" stop-color="#2b2b2b"/><stop offset=".673" stop-color="#333333"/><stop offset=".680" stop-color="#2b2b2b"/><stop offset=".687" stop-color="#191919"/><stop offset=".693" stop-color="#151515"/><stop offset=".700" stop-color="#414141"/><stop offset=".707" stop-color="#919191"/><stop offset=".714" stop-color="#e4e4e4"/><stop offset=".721" stop-color="#fdfdfd"/><stop offset=".727" stop-color="#c7c7c7"/><stop offset=".734" stop-color="#6e6e6e"/><stop offset=".741" stop-color="#adadad"/><stop offset=".748" stop-color="#b6b6b6"/><stop offset=".755" stop-color="#747474"/><stop offset=".761" stop-color="#868686"/><stop offset=".768" stop-color="#808080"/><stop offset=".775" stop-color="#4a4a4a"/><stop offset=".782" stop-color="#1c1c1c"/><stop offset=".795" stop-color="#232323"/><stop offset=".809" stop-color="#232323"/><stop offset=".823" stop-color="#1c1c1c"/><stop offset=".829" stop-color="#171717"/><stop offset=".836" stop-color="#181818"/><stop offset=".843" stop-color="#1e1e1e"/><stop offset=".850" stop-color="#252525"/><stop offset=".857" stop-color="#2d2d2d"/><stop offset=".863" stop-color="#363636"/><stop offset=".870" stop-color="#3f3f3f"/><stop offset=".877" stop-color="#505050"/><stop offset=".884" stop-color="#9a9a9a"/><stop offset=".891" stop-color="#b3b3b3"/><stop offset=".897" stop-color="#7e7e7e"/><stop offset=".904" stop-color="#696969"/><stop offset=".911" stop-color="#a4a4a4"/><stop offset=".918" stop-color="#9c9c9c"/><stop offset=".925" stop-color="#727272"/><stop offset=".931" stop-color="#9a9a9a"/><stop offset=".938" stop-color="#b3b3b3"/><stop offset=".945" stop-color="#7e7e7e"/><stop offset=".952" stop-color="#858585"/><stop offset=".959" stop-color="#ababab"/><stop offset=".965" stop-color="#858585"/><stop offset=".972" stop-color="#484848"/><stop offset=".979" stop-color="#3f3f3f"/><stop offset=".986" stop-color="#363636"/><stop offset=".993" stop-color="#2d2d2d"/><stop offset=".999" stop-color="#252525"/><stop offset="1.000" stop-color="#252525"/></linearGradient><linearGradient id="gd6" x1="0" y1="0" x2="1" y2="1"><stop offset="0.000" stop-color="#6f6f6f"/><stop offset="0.287" stop-color="#6f6f6f"/><stop offset="0.404" stop-color="#838383"/><stop offset="0.500" stop-color="#8f8f8f"/><stop offset="0.596" stop-color="#838383"/><stop offset="0.713" stop-color="#6f6f6f"/><stop offset="1.000" stop-color="#6f6f6f"/></linearGradient></defs>
<g clip-path="url(#c6)"><g filter="url(#cm)">
<rect x="392.2" y="837.9" width="249.5" height="249.9" fill="#000"/>
<rect x="398.2" y="843.9" width="237.5" height="237.9" fill="url(#gc6)"/>
<rect x="398.2" y="843.9" width="237.5" height="237.9" fill="url(#gr6)" style="mix-blend-mode:multiply"/>
<g style="mix-blend-mode:multiply"><rect x="398.1" y="1005.7" width="76.0" height="76.1" fill="url(#gd6)"/><rect x="474.0" y="1005.7" width="38.8" height="76.1" fill="#878787"/><rect x="512.8" y="1005.7" width="9.8" height="76.1" fill="#aeaeae"/><rect x="522.5" y="1005.7" width="42.1" height="76.1" fill="#8f8f8f"/><rect x="564.4" y="1005.7" width="19.5" height="76.1" fill="#9f9f9f"/><rect x="583.8" y="1005.7" width="19.5" height="76.1" fill="#818181"/><rect x="603.2" y="1005.7" width="32.6" height="76.1" fill="#8d8d8d"/><rect x="398.1" y="966.9" width="76.0" height="38.9" fill="#919191"/><rect x="474.0" y="966.9" width="38.8" height="38.9" fill="#989898"/><rect x="512.8" y="966.9" width="9.8" height="38.9" fill="#a6a6a6"/><rect x="522.5" y="966.9" width="42.1" height="38.9" fill="#8f8f8f"/><rect x="564.4" y="966.9" width="19.5" height="38.9" fill="#959595"/><rect x="583.8" y="966.9" width="19.5" height="38.9" fill="#818181"/><rect x="603.2" y="966.9" width="32.6" height="38.9" fill="#898989"/><rect x="398.1" y="957.2" width="76.0" height="9.8" fill="#b6b6b6"/><rect x="474.0" y="957.2" width="38.8" height="9.8" fill="#a6a6a6"/><rect x="512.8" y="957.2" width="9.8" height="9.8" fill="#767676"/><rect x="522.5" y="957.2" width="42.1" height="9.8" fill="#8f8f8f"/><rect x="564.4" y="957.2" width="19.5" height="9.8" fill="#858585"/><rect x="583.8" y="957.2" width="19.5" height="9.8" fill="#818181"/><rect x="603.2" y="957.2" width="32.6" height="9.8" fill="#767676"/><rect x="398.1" y="915.2" width="76.0" height="42.1" fill="#8f8f8f"/><rect x="474.0" y="915.2" width="38.8" height="42.1" fill="#8f8f8f"/><rect x="512.8" y="915.2" width="9.8" height="42.1" fill="#818181"/><rect x="522.5" y="915.2" width="42.1" height="42.1" fill="#8f8f8f"/><rect x="564.4" y="915.2" width="19.5" height="42.1" fill="#818181"/><rect x="583.8" y="915.2" width="19.5" height="42.1" fill="#818181"/><rect x="603.2" y="915.2" width="32.6" height="42.1" fill="#818181"/><rect x="398.1" y="895.8" width="76.0" height="19.5" fill="#a6a6a6"/><rect x="474.0" y="895.8" width="38.8" height="19.5" fill="#989898"/><rect x="512.8" y="895.8" width="9.8" height="19.5" fill="#818181"/><rect x="522.5" y="895.8" width="42.1" height="19.5" fill="#8f8f8f"/><rect x="564.4" y="895.8" width="19.5" height="19.5" fill="#989898"/><rect x="583.8" y="895.8" width="19.5" height="19.5" fill="#818181"/><rect x="603.2" y="895.8" width="32.6" height="19.5" fill="#7c7c7c"/><rect x="398.1" y="876.4" width="76.0" height="19.5" fill="#818181"/><rect x="474.0" y="876.4" width="38.8" height="19.5" fill="#818181"/><rect x="512.8" y="876.4" width="9.8" height="19.5" fill="#818181"/><rect x="522.5" y="876.4" width="42.1" height="19.5" fill="#818181"/><rect x="564.4" y="876.4" width="19.5" height="19.5" fill="#818181"/><rect x="583.8" y="876.4" width="19.5" height="19.5" fill="#818181"/><rect x="603.2" y="876.4" width="32.6" height="19.5" fill="#818181"/><rect x="398.1" y="843.9" width="76.0" height="32.6" fill="#959595"/><rect x="474.0" y="843.9" width="38.8" height="32.6" fill="#8d8d8d"/><rect x="512.8" y="843.9" width="9.8" height="32.6" fill="#5b5b5b"/><rect x="522.5" y="843.9" width="42.1" height="32.6" fill="#818181"/><rect x="564.4" y="843.9" width="19.5" height="32.6" fill="#767676"/><rect x="583.8" y="843.9" width="19.5" height="32.6" fill="#818181"/><rect x="603.2" y="843.9" width="32.6" height="32.6" fill="#515151"/></g>
<g style="mix-blend-mode:lighten"><path d="M398.2 1081.8L635.7 843.9" stroke="#191919" stroke-width="1.6" fill="none"/><path d="M451.5 1028.4L475.7 1004.2" stroke="#2e2e2e" stroke-width="1.4" stroke-linecap="round" fill="none"/><path d="M475.7 1004.2L493.5 986.4" stroke="#414141" stroke-width="2.0" stroke-linecap="round" fill="none"/><ellipse cx="416.9" cy="1063" rx="1.6" ry="1.6" fill="#5f5f5f"/><ellipse cx="434.7" cy="1045.2" rx="1.6" ry="1.6" fill="#666666"/><ellipse cx="437.6" cy="1042.3" rx="1.6" ry="1.6" fill="#6c6c6c"/><ellipse cx="437.6" cy="1045.2" rx="1.6" ry="1.6" fill="#5f5f5f"/><ellipse cx="434.7" cy="1042.3" rx="1.6" ry="1.6" fill="#5f5f5f"/><ellipse cx="487.3" cy="992.5" rx="1.6" ry="1.6" fill="#666666"/></g>
</g></g>
<path d="M486 843.9V1081.8" stroke="#23a046" stroke-width="1.5" fill="none"/>
<path d="M513 843.9V1081.8" stroke="#e3203a" stroke-width="1.7" fill="none"/>
<path d="M521.3 843.9V1081.8" stroke="#f4e01c" stroke-width="1.8" fill="none"/>
<path d="M564.6 843.9V1081.8" stroke="#e3203a" stroke-width="1.7" fill="none"/>
<path d="M582.4 843.9V1081.8" stroke="#f4e01c" stroke-width="1.8" fill="none"/>
<path d="M601 843.9V1081.8" stroke="#23a046" stroke-width="1.5" fill="none"/>
<path d="M398.2 878.6H635.7" stroke="#23a046" stroke-width="1.5" fill="none"/>
<path d="M398.2 898.1H635.7" stroke="#f4e01c" stroke-width="1.8" fill="none"/>
<path d="M398.2 916H635.7" stroke="#e3203a" stroke-width="1.7" fill="none"/>
<path d="M398.2 958.5H635.7" stroke="#f4e01c" stroke-width="1.8" fill="none"/>
<path d="M398.2 965.9H635.7" stroke="#e3203a" stroke-width="1.7" fill="none"/>
<path d="M398.2 994.3H635.7" stroke="#23a046" stroke-width="1.5" fill="none"/>
<path d="M398.2 843.9H636.5" stroke="#f4e01c" stroke-width="2.2" fill="none"/>
<path d="M635.7 843.9V1081.8" stroke="#f4e01c" stroke-width="1.6" fill="none"/>
<rect x="646.7" y="844" width="8.599999999999909" height="238.20000000000005" fill="url(#cb)"/>
<text x="660.2" y="847.5" font-size="9">0.0052</text>
<path d="M655.3 844.5h2" stroke="#888" stroke-width="0.6"/>
<text x="660.2" y="871.2" font-size="9">0.0047</text>
<path d="M655.3 868.2h2" stroke="#888" stroke-width="0.6"/>
<text x="660.2" y="895" font-size="9">0.0042</text>
<path d="M655.3 892h2" stroke="#888" stroke-width="0.6"/>
<text x="660.2" y="918.7" font-size="9">0.0037</text>
<path d="M655.3 915.8h2" stroke="#888" stroke-width="0.6"/>
<text x="660.2" y="942.5" font-size="9">0.0031</text>
<path d="M655.3 939.5h2" stroke="#888" stroke-width="0.6"/>
<text x="660.2" y="966.2" font-size="9">0.0026</text>
<path d="M655.3 963.2h2" stroke="#888" stroke-width="0.6"/>
<text x="660.2" y="990" font-size="9">0.0021</text>
<path d="M655.3 987h2" stroke="#888" stroke-width="0.6"/>
<text x="660.2" y="1013.7" font-size="9">0.0016</text>
<path d="M655.3 1010.8h2" stroke="#888" stroke-width="0.6"/>
<text x="660.2" y="1037.5" font-size="9">0.0010</text>
<path d="M655.3 1034.5h2" stroke="#888" stroke-width="0.6"/>
<text x="660.2" y="1061.2" font-size="9">0.0005</text>
<path d="M655.3 1058.2h2" stroke="#888" stroke-width="0.6"/>
<text x="660.2" y="1085" font-size="9">0.0000</text>
<path d="M655.3 1082h2" stroke="#888" stroke-width="0.6"/>
<g filter="url(#tb)">
<text x="393.4" y="852.2" font-size="8.5" text-anchor="end">73</text>
<text x="393.4" y="878.5" font-size="8.5" text-anchor="end">65</text>
<text x="393.4" y="904.8" font-size="8.5" text-anchor="end">57</text>
<text x="393.4" y="930.1" font-size="8.5" text-anchor="end">49</text>
<text x="393.4" y="956.4" font-size="8.5" text-anchor="end">41</text>
<text x="393.4" y="982.5" font-size="8.5" text-anchor="end">33</text>
<text x="393.4" y="1008.7" font-size="8.5" text-anchor="end">25</text>
<text x="393.4" y="1034.3" font-size="8.5" text-anchor="end">17</text>
<text x="393.4" y="1058.7" font-size="8.5" text-anchor="end">9</text>
<text x="393.4" y="1086.2" font-size="8.5" text-anchor="end">1</text>
<text x="398.2" y="1093.6" font-size="8.5" text-anchor="middle">1</text>
<text x="424" y="1093.6" font-size="8.5" text-anchor="middle">9</text>
<text x="449.9" y="1093.6" font-size="8.5" text-anchor="middle">17</text>
<text x="475.7" y="1093.6" font-size="8.5" text-anchor="middle">25</text>
<text x="501.5" y="1093.6" font-size="8.5" text-anchor="middle">33</text>
<text x="527.4" y="1093.6" font-size="8.5" text-anchor="middle">41</text>
<text x="553.2" y="1093.6" font-size="8.5" text-anchor="middle">49</text>
<text x="579" y="1093.6" font-size="8.5" text-anchor="middle">57</text>
<text x="604.9" y="1093.6" font-size="8.5" text-anchor="middle">65</text>
<text x="630.7" y="1093.6" font-size="8.5" text-anchor="middle">73</text>
<text x="374.3" y="853.5" font-size="12.5" text-anchor="middle">A</text>
<text x="374.3" y="881.2" font-size="11.9" text-anchor="middle" font-style="italic">π</text>
<text x="374.3" y="904.7" font-size="12.5" text-anchor="middle">A</text>
<text x="374.3" y="931.4" font-size="12.5" text-anchor="middle">D</text>
<text x="374.3" y="961.2" font-size="12.5" text-anchor="middle">A</text>
<text x="374.3" y="983.3" font-size="12.5" text-anchor="middle">D</text>
<text x="374.3" y="1006.1" font-size="11.9" text-anchor="middle" font-style="italic">π</text>
<text x="478.8" y="1113.5" font-size="11.9" text-anchor="middle" font-style="italic">π</text>
<text x="501.6" y="1113.8" font-size="12.5" text-anchor="middle">D</text>
<text x="525.9" y="1113.8" font-size="12.5" text-anchor="middle">A</text>
<text x="554.2" y="1113.8" font-size="12.5" text-anchor="middle">D</text>
<text x="578.4" y="1113.8" font-size="12.5" text-anchor="middle">A</text>
<text x="597.4" y="1109.5" font-size="11.9" text-anchor="middle" font-style="italic">π</text>
<text x="628.6" y="1113.8" font-size="12.5" text-anchor="middle">A</text>
<text x="527.5" y="1139.4" font-size="16.5" text-anchor="middle">AO6</text>
<path d="M398.2 849.4h-2M398.2 875.7h-2M398.2 902h-2M398.2 927.3h-2M398.2 953.6h-2M398.2 979.7h-2M398.2 1005.9h-2M398.2 1031.5h-2M398.2 1055.9h-2M398.2 1083.4h-2M398.2 1081.8v2M398.2 842.7v-2.5M424 1081.8v2M424 842.7v-2.5M449.9 1081.8v2M449.9 842.7v-2.5M475.7 1081.8v2M475.7 842.7v-2.5M501.5 1081.8v2M501.5 842.7v-2.5M527.4 1081.8v2M527.4 842.7v-2.5M553.2 1081.8v2M553.2 842.7v-2.5M579 1081.8v2M579 842.7v-2.5M604.9 1081.8v2M604.9 842.7v-2.5M630.7 1081.8v2M630.7 842.7v-2.5M636.9 849.4h2.5M636.9 875.7h2.5M636.9 902h2.5M636.9 927.3h2.5M636.9 953.6h2.5M636.9 979.7h2.5M636.9 1005.9h2.5M636.9 1031.5h2.5M636.9 1055.9h2.5M636.9 1083.4h2.5" stroke="#777" stroke-width="0.6"/>
</g>
</g>
</svg></body></html>
